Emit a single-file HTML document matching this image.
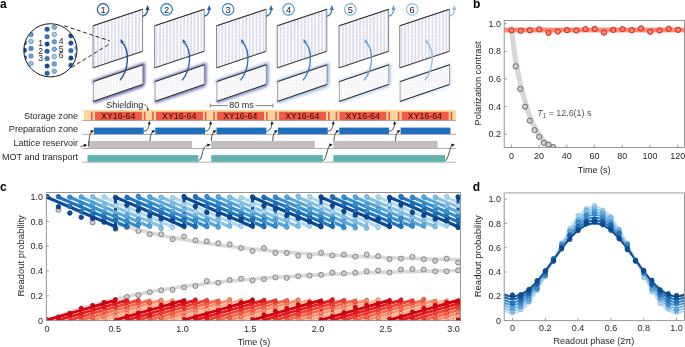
<!DOCTYPE html>
<html><head><meta charset="utf-8"><style>
html,body{margin:0;padding:0;background:#fff;}
svg{display:block;font-family:"Liberation Sans", sans-serif;will-change:transform;filter:blur(0.3px);}
</style></head><body>
<svg width="685" height="347" viewBox="0 0 685 347">
<rect width="685" height="347" fill="#fff"/>
<text x="-0.10" y="7.90" font-size="12" text-anchor="start" fill="#000" font-weight="bold" >a</text>
<text x="473.00" y="7.90" font-size="12" text-anchor="start" fill="#000" font-weight="bold" >b</text>
<text x="0.10" y="191.10" font-size="12" text-anchor="start" fill="#000" font-weight="bold" >c</text>
<text x="472.70" y="190.80" font-size="12" text-anchor="start" fill="#000" font-weight="bold" >d</text>
<defs>
<pattern id="pu" patternUnits="userSpaceOnUse" width="3.45" height="1.4" x="93.6" y="0"><rect width="3.45" height="1.4" fill="#fbfbfd"/><rect x="0" width="1.7" height="1.4" fill="#e6e6f3"/><rect x="0.3" width="1.0" height="0.8" fill="#cdcde6"/></pattern>
<pattern id="pl" patternUnits="userSpaceOnUse" width="3.0" height="1.9" x="94.5" y="0"><rect width="3.0" height="1.9" fill="#ffffff"/><rect x="0.8" width="0.8" height="0.9" fill="#c4c4de"/></pattern>
<filter id="glow" x="-30%" y="-60%" width="160%" height="220%"><feGaussianBlur stdDeviation="1.6"/></filter>
<clipPath id="incl"><circle cx="50.4" cy="50.3" r="26.6"/></clipPath>
<clipPath id="clipc"><rect x="46.3" y="192.5" width="414.3" height="128.1"/></clipPath>
<clipPath id="clipd"><rect x="504.2" y="192.7" width="180.3" height="127.9"/></clipPath>
<clipPath id="clipb"><rect x="504.2" y="20.5" width="180.3" height="127"/></clipPath>
</defs>
<path d="M92.5,82.2 L143.4,64.6 L143.4,84.6 M93.4,101.8 L143.4,85.0" fill="none" stroke="#4444a8" stroke-width="3.0" opacity="0.95" filter="url(#glow)"/>
<polygon points="93.4,81.6 142.79999999999998,64.8 142.79999999999998,84.4 93.4,101.4" fill="url(#pl)" stroke="#666" stroke-width="0.6"/>
<line x1="93.4" y1="81.6" x2="142.79999999999998" y2="64.8" stroke="#222" stroke-width="0.9"/>
<line x1="93.4" y1="101.4" x2="142.79999999999998" y2="84.4" stroke="#222" stroke-width="0.9"/>
<polygon points="93.0,25.8 142.6,9.3 142.6,51.3 93.0,67.9" fill="url(#pu)" stroke="#6a6a6a" stroke-width="0.8"/>
<line x1="93.0" y1="25.8" x2="142.6" y2="9.3" stroke="#222" stroke-width="0.9"/>
<line x1="93.0" y1="67.9" x2="142.6" y2="51.3" stroke="#333" stroke-width="0.8"/>
<path d="M119.9,80.4 C128.7,70 130.2,51 122.2,42.3" fill="none" stroke="#1c4f97" stroke-width="1.35"/>
<path d="M120.30,38.90 L120.86,43.88 L122.13,42.09 L124.33,41.89 Z" fill="#1c4f97"/>
<path d="M142.6,16.3 C145.79999999999998,15.6 147.6,13 147.6,9.0" fill="none" stroke="#1c4f97" stroke-width="1.35"/>
<path d="M147.6,4.9 L145.5,9.9 L149.7,9.9 Z" fill="#1c4f97"/>
<circle cx="103.1" cy="9.35" r="5.75" fill="#fff" stroke="#1f5a9e" stroke-width="1.15"/>
<text x="103.10" y="12.75" font-size="9.3" text-anchor="middle" fill="#1a1a1a" font-weight="normal" >1</text>
<path d="M154.1,82.2 L205.0,64.6 L205.0,84.6 M155.0,101.8 L205.0,85.0" fill="none" stroke="#4852b2" stroke-width="3.0" opacity="0.9" filter="url(#glow)"/>
<polygon points="155.0,81.6 204.39999999999998,64.8 204.39999999999998,84.4 155.0,101.4" fill="url(#pl)" stroke="#666" stroke-width="0.6"/>
<line x1="155.0" y1="81.6" x2="204.39999999999998" y2="64.8" stroke="#222" stroke-width="0.9"/>
<line x1="155.0" y1="101.4" x2="204.39999999999998" y2="84.4" stroke="#222" stroke-width="0.9"/>
<polygon points="154.6,25.8 204.2,9.3 204.2,51.3 154.6,67.9" fill="url(#pu)" stroke="#6a6a6a" stroke-width="0.8"/>
<line x1="154.6" y1="25.8" x2="204.2" y2="9.3" stroke="#222" stroke-width="0.9"/>
<line x1="154.6" y1="67.9" x2="204.2" y2="51.3" stroke="#333" stroke-width="0.8"/>
<path d="M182.0,80.4 C190.8,70 192.3,51 184.3,42.3" fill="none" stroke="#2461a8" stroke-width="1.35"/>
<path d="M182.40,38.90 L182.96,43.88 L184.23,42.09 L186.43,41.89 Z" fill="#2461a8"/>
<path d="M204.2,16.3 C207.39999999999998,15.6 209.2,13 209.2,9.0" fill="none" stroke="#2461a8" stroke-width="1.35"/>
<path d="M209.2,4.9 L207.1,9.9 L211.29999999999998,9.9 Z" fill="#2461a8"/>
<circle cx="166.6" cy="9.35" r="5.75" fill="#fff" stroke="#1a78c2" stroke-width="1.15"/>
<text x="166.60" y="12.75" font-size="9.3" text-anchor="middle" fill="#1a1a1a" font-weight="normal" >2</text>
<path d="M216.0,82.2 L266.90000000000003,64.6 L266.90000000000003,84.6 M216.9,101.8 L266.90000000000003,85.0" fill="none" stroke="#4d6cc4" stroke-width="3.0" opacity="0.85" filter="url(#glow)"/>
<polygon points="216.9,81.6 266.3,64.8 266.3,84.4 216.9,101.4" fill="url(#pl)" stroke="#666" stroke-width="0.6"/>
<line x1="216.9" y1="81.6" x2="266.3" y2="64.8" stroke="#222" stroke-width="0.9"/>
<line x1="216.9" y1="101.4" x2="266.3" y2="84.4" stroke="#222" stroke-width="0.9"/>
<polygon points="216.5,25.8 266.1,9.3 266.1,51.3 216.5,67.9" fill="url(#pu)" stroke="#6a6a6a" stroke-width="0.8"/>
<line x1="216.5" y1="25.8" x2="266.1" y2="9.3" stroke="#222" stroke-width="0.9"/>
<line x1="216.5" y1="67.9" x2="266.1" y2="51.3" stroke="#333" stroke-width="0.8"/>
<path d="M240.40000000000003,80.4 C249.2,70 250.7,51 242.70000000000002,42.3" fill="none" stroke="#2b6db4" stroke-width="1.35"/>
<path d="M240.80,38.90 L241.36,43.88 L242.63,42.09 L244.83,41.89 Z" fill="#2b6db4"/>
<path d="M266.1,16.3 C269.3,15.6 271.1,13 271.1,9.0" fill="none" stroke="#2b6db4" stroke-width="1.35"/>
<path d="M271.1,4.9 L269.0,9.9 L273.20000000000005,9.9 Z" fill="#2b6db4"/>
<circle cx="228.1" cy="9.35" r="5.75" fill="#fff" stroke="#2a84cc" stroke-width="1.15"/>
<text x="228.10" y="12.75" font-size="9.3" text-anchor="middle" fill="#1a1a1a" font-weight="normal" >3</text>
<path d="M276.7,82.2 L327.6,64.6 L327.6,84.6 M277.59999999999997,101.8 L327.6,85.0" fill="none" stroke="#6a96d8" stroke-width="3.0" opacity="0.8" filter="url(#glow)"/>
<polygon points="277.59999999999997,81.6 327.0,64.8 327.0,84.4 277.59999999999997,101.4" fill="url(#pl)" stroke="#666" stroke-width="0.6"/>
<line x1="277.59999999999997" y1="81.6" x2="327.0" y2="64.8" stroke="#222" stroke-width="0.9"/>
<line x1="277.59999999999997" y1="101.4" x2="327.0" y2="84.4" stroke="#222" stroke-width="0.9"/>
<polygon points="277.2,25.8 326.8,9.3 326.8,51.3 277.2,67.9" fill="url(#pu)" stroke="#6a6a6a" stroke-width="0.8"/>
<line x1="277.2" y1="25.8" x2="326.8" y2="9.3" stroke="#222" stroke-width="0.9"/>
<line x1="277.2" y1="67.9" x2="326.8" y2="51.3" stroke="#333" stroke-width="0.8"/>
<path d="M302.9,80.4 C311.7,70 313.2,51 305.2,42.3" fill="none" stroke="#3a7cc0" stroke-width="1.35"/>
<path d="M303.30,38.90 L303.86,43.88 L305.13,42.09 L307.33,41.89 Z" fill="#3a7cc0"/>
<path d="M326.8,16.3 C330.0,15.6 331.8,13 331.8,9.0" fill="none" stroke="#3a7cc0" stroke-width="1.35"/>
<path d="M331.8,4.9 L329.7,9.9 L333.90000000000003,9.9 Z" fill="#3a7cc0"/>
<circle cx="288.6" cy="9.35" r="5.75" fill="#fff" stroke="#4a9ad6" stroke-width="1.15"/>
<text x="288.60" y="12.75" font-size="9.3" text-anchor="middle" fill="#1a1a1a" font-weight="normal" >4</text>
<path d="M338.5,82.2 L389.40000000000003,64.6 L389.40000000000003,84.6 M339.4,101.8 L389.40000000000003,85.0" fill="none" stroke="#98bce8" stroke-width="3.0" opacity="0.7" filter="url(#glow)"/>
<polygon points="339.4,81.6 388.8,64.8 388.8,84.4 339.4,101.4" fill="url(#pl)" stroke="#666" stroke-width="0.6"/>
<line x1="339.4" y1="81.6" x2="388.8" y2="64.8" stroke="#222" stroke-width="0.9"/>
<line x1="339.4" y1="101.4" x2="388.8" y2="84.4" stroke="#222" stroke-width="0.9"/>
<polygon points="339.0,25.8 388.6,9.3 388.6,51.3 339.0,67.9" fill="url(#pu)" stroke="#6a6a6a" stroke-width="0.8"/>
<line x1="339.0" y1="25.8" x2="388.6" y2="9.3" stroke="#222" stroke-width="0.9"/>
<line x1="339.0" y1="67.9" x2="388.6" y2="51.3" stroke="#333" stroke-width="0.8"/>
<path d="M364.0,80.4 C372.79999999999995,70 374.29999999999995,51 366.29999999999995,42.3" fill="none" stroke="#6a9fd5" stroke-width="1.35"/>
<path d="M364.40,38.90 L364.96,43.88 L366.23,42.09 L368.43,41.89 Z" fill="#6a9fd5"/>
<path d="M388.6,16.3 C391.8,15.6 393.6,13 393.6,9.0" fill="none" stroke="#6a9fd5" stroke-width="1.35"/>
<path d="M393.6,4.9 L391.5,9.9 L395.70000000000005,9.9 Z" fill="#6a9fd5"/>
<circle cx="350.3" cy="9.35" r="5.75" fill="#fff" stroke="#78b4e0" stroke-width="1.15"/>
<text x="350.30" y="12.75" font-size="9.3" text-anchor="middle" fill="#1a1a1a" font-weight="normal" >5</text>
<path d="M399.2,82.2 L450.1,64.6 L450.1,84.6 M400.09999999999997,101.8 L450.1,85.0" fill="none" stroke="#b4d2f0" stroke-width="3.0" opacity="0.6" filter="url(#glow)"/>
<polygon points="400.09999999999997,81.6 449.5,64.8 449.5,84.4 400.09999999999997,101.4" fill="url(#pl)" stroke="#666" stroke-width="0.6"/>
<line x1="400.09999999999997" y1="81.6" x2="449.5" y2="64.8" stroke="#222" stroke-width="0.9"/>
<line x1="400.09999999999997" y1="101.4" x2="449.5" y2="84.4" stroke="#222" stroke-width="0.9"/>
<polygon points="399.7,25.8 449.3,9.3 449.3,51.3 399.7,67.9" fill="url(#pu)" stroke="#6a6a6a" stroke-width="0.8"/>
<line x1="399.7" y1="25.8" x2="449.3" y2="9.3" stroke="#222" stroke-width="0.9"/>
<line x1="399.7" y1="67.9" x2="449.3" y2="51.3" stroke="#333" stroke-width="0.8"/>
<path d="M424.70000000000005,80.4 C433.5,70 435.0,51 427.0,42.3" fill="none" stroke="#93bde4" stroke-width="1.35"/>
<path d="M425.10,38.90 L425.66,43.88 L426.93,42.09 L429.13,41.89 Z" fill="#93bde4"/>
<path d="M449.3,16.3 C452.5,15.6 454.3,13 454.3,9.0" fill="none" stroke="#93bde4" stroke-width="1.35"/>
<path d="M454.3,4.9 L452.2,9.9 L456.40000000000003,9.9 Z" fill="#93bde4"/>
<circle cx="412.2" cy="9.35" r="5.75" fill="#fff" stroke="#8cc4e6" stroke-width="1.15"/>
<text x="412.20" y="12.75" font-size="9.3" text-anchor="middle" fill="#1a1a1a" font-weight="normal" >6</text>
<circle cx="50.4" cy="50.3" r="26.6" fill="#fff"/>
<g clip-path="url(#incl)">
<circle cx="24.4" cy="42.7" r="2.3" fill="#1a5ca8" stroke="#0b3d78" stroke-width="0.4"/>
<circle cx="24.4" cy="50.2" r="2.3" fill="#0e4a8e" stroke="#0b3d78" stroke-width="0.4"/>
<circle cx="24.4" cy="35.0" r="2.3" fill="#2a74bc" stroke="#0b3d78" stroke-width="0.4"/>
<circle cx="24.4" cy="57.7" r="2.3" fill="#1a5ca8" stroke="#0b3d78" stroke-width="0.4"/>
<circle cx="31.0" cy="34.6" r="2.3" fill="#5b9bd5" stroke="#0b3d78" stroke-width="0.4"/>
<circle cx="31.0" cy="41.5" r="2.3" fill="#9ec8e8" stroke="#0b3d78" stroke-width="0.4"/>
<circle cx="31.0" cy="48.5" r="2.3" fill="#4a8ed0" stroke="#0b3d78" stroke-width="0.4"/>
<circle cx="31.0" cy="56.0" r="2.3" fill="#6aa8dc" stroke="#0b3d78" stroke-width="0.4"/>
<circle cx="31.0" cy="63.5" r="2.3" fill="#9ec8e8" stroke="#0b3d78" stroke-width="0.4"/>
<circle cx="31.0" cy="27.5" r="2.3" fill="#6aa8dc" stroke="#0b3d78" stroke-width="0.4"/>
<circle cx="47.1" cy="29.3" r="2.3" fill="#1a5ca8" stroke="#0b3d78" stroke-width="0.4"/>
<circle cx="47.1" cy="36.7" r="2.3" fill="#2f7fc4" stroke="#0b3d78" stroke-width="0.4"/>
<circle cx="47.1" cy="44.1" r="2.3" fill="#0e4a8e" stroke="#0b3d78" stroke-width="0.4"/>
<circle cx="47.1" cy="51.3" r="2.3" fill="#1d66b0" stroke="#0b3d78" stroke-width="0.4"/>
<circle cx="47.1" cy="58.6" r="2.3" fill="#3080c5" stroke="#0b3d78" stroke-width="0.4"/>
<circle cx="47.1" cy="66.0" r="2.3" fill="#0e4a8e" stroke="#0b3d78" stroke-width="0.4"/>
<circle cx="47.1" cy="73.3" r="2.3" fill="#1f68b2" stroke="#0b3d78" stroke-width="0.4"/>
<circle cx="54.3" cy="27.2" r="2.3" fill="#7ab3e0" stroke="#0b3d78" stroke-width="0.4"/>
<circle cx="54.3" cy="34.4" r="2.3" fill="#a9d0ee" stroke="#0b3d78" stroke-width="0.4"/>
<circle cx="54.3" cy="41.8" r="2.3" fill="#6aa8dc" stroke="#0b3d78" stroke-width="0.4"/>
<circle cx="54.3" cy="49.2" r="2.3" fill="#7ab3e0" stroke="#0b3d78" stroke-width="0.4"/>
<circle cx="54.3" cy="56.6" r="2.3" fill="#a9d0ee" stroke="#0b3d78" stroke-width="0.4"/>
<circle cx="54.3" cy="64.0" r="2.3" fill="#6aa8dc" stroke="#0b3d78" stroke-width="0.4"/>
<circle cx="54.3" cy="71.3" r="2.3" fill="#8cbfe6" stroke="#0b3d78" stroke-width="0.4"/>
<circle cx="70.9" cy="35.7" r="2.3" fill="#0e4a8e" stroke="#0b3d78" stroke-width="0.4"/>
<circle cx="70.9" cy="43.1" r="2.3" fill="#1a5ca8" stroke="#0b3d78" stroke-width="0.4"/>
<circle cx="70.9" cy="50.6" r="2.3" fill="#2a74bc" stroke="#0b3d78" stroke-width="0.4"/>
<circle cx="70.9" cy="58.0" r="2.3" fill="#0e4a8e" stroke="#0b3d78" stroke-width="0.4"/>
<circle cx="70.9" cy="65.3" r="2.3" fill="#1a5ca8" stroke="#0b3d78" stroke-width="0.4"/>
<circle cx="70.9" cy="28.2" r="2.3" fill="#1a5ca8" stroke="#0b3d78" stroke-width="0.4"/>
<circle cx="77.0" cy="47.8" r="2.3" fill="#8cbfe6" stroke="#0b3d78" stroke-width="0.4"/>
<circle cx="77.0" cy="55.3" r="2.3" fill="#6aa8dc" stroke="#0b3d78" stroke-width="0.4"/>
<circle cx="77.0" cy="40.3" r="2.3" fill="#a9d0ee" stroke="#0b3d78" stroke-width="0.4"/>
</g>
<circle cx="50.4" cy="50.3" r="26.6" fill="none" stroke="#1a1a1a" stroke-width="1.0"/>
<text x="40.70" y="46.30" font-size="8.6" text-anchor="middle" fill="#222" font-weight="normal" >1</text>
<text x="40.70" y="53.70" font-size="8.6" text-anchor="middle" fill="#222" font-weight="normal" >2</text>
<text x="40.70" y="61.20" font-size="8.6" text-anchor="middle" fill="#222" font-weight="normal" >3</text>
<text x="61.20" y="43.60" font-size="8.6" text-anchor="middle" fill="#222" font-weight="normal" >4</text>
<text x="61.20" y="51.80" font-size="8.6" text-anchor="middle" fill="#222" font-weight="normal" >5</text>
<text x="61.20" y="58.40" font-size="8.6" text-anchor="middle" fill="#222" font-weight="normal" >6</text>
<line x1="64.3" y1="25.8" x2="109.7" y2="40.9" stroke="#1e1e1e" stroke-width="0.95" stroke-dasharray="4 2.6"/>
<line x1="71.5" y1="67.5" x2="109.7" y2="43.8" stroke="#1e1e1e" stroke-width="0.95" stroke-dasharray="4 2.6"/>
<text x="78.10" y="118.70" font-size="9.1" text-anchor="end" fill="#231f20" font-weight="normal" >Storage zone</text>
<text x="78.10" y="132.30" font-size="9.1" text-anchor="end" fill="#231f20" font-weight="normal" >Preparation zone</text>
<text x="78.10" y="146.10" font-size="9.1" text-anchor="end" fill="#231f20" font-weight="normal" >Lattice reservoir</text>
<text x="78.10" y="160.30" font-size="9.1" text-anchor="end" fill="#231f20" font-weight="normal" >MOT and transport</text>
<rect x="83.8" y="110.1" width="372.0" height="10.1" fill="#fdd49c"/>
<rect x="90.9" y="111.8" width="1.7" height="8.4" fill="#ee5a45"/>
<rect x="95.00" y="111.8" width="46.9" height="8.4" fill="#ef5b47"/>
<text x="118.20" y="119.10" font-size="8.8" text-anchor="middle" fill="#2b0c05" font-weight="normal" >XY16-64</text>
<rect x="143.90" y="111.8" width="1.6" height="8.4" fill="#ee5a45"/>
<rect x="152.10" y="111.8" width="1.6" height="8.4" fill="#ee5a45"/>
<rect x="156.00" y="111.8" width="46.9" height="8.4" fill="#ef5b47"/>
<text x="179.20" y="119.10" font-size="8.8" text-anchor="middle" fill="#2b0c05" font-weight="normal" >XY16-64</text>
<rect x="204.90" y="111.8" width="1.6" height="8.4" fill="#ee5a45"/>
<rect x="213.20" y="111.8" width="1.6" height="8.4" fill="#ee5a45"/>
<rect x="217.10" y="111.8" width="46.9" height="8.4" fill="#ef5b47"/>
<text x="240.30" y="119.10" font-size="8.8" text-anchor="middle" fill="#2b0c05" font-weight="normal" >XY16-64</text>
<rect x="266.00" y="111.8" width="1.6" height="8.4" fill="#ee5a45"/>
<rect x="275.20" y="111.8" width="1.6" height="8.4" fill="#ee5a45"/>
<rect x="279.10" y="111.8" width="46.9" height="8.4" fill="#ef5b47"/>
<text x="302.30" y="119.10" font-size="8.8" text-anchor="middle" fill="#2b0c05" font-weight="normal" >XY16-64</text>
<rect x="328.00" y="111.8" width="1.6" height="8.4" fill="#ee5a45"/>
<rect x="335.60" y="111.8" width="1.6" height="8.4" fill="#ee5a45"/>
<rect x="339.50" y="111.8" width="46.9" height="8.4" fill="#ef5b47"/>
<text x="362.70" y="119.10" font-size="8.8" text-anchor="middle" fill="#2b0c05" font-weight="normal" >XY16-64</text>
<rect x="388.40" y="111.8" width="1.6" height="8.4" fill="#ee5a45"/>
<rect x="397.80" y="111.8" width="1.6" height="8.4" fill="#ee5a45"/>
<rect x="401.70" y="111.8" width="46.9" height="8.4" fill="#ef5b47"/>
<text x="424.90" y="119.10" font-size="8.8" text-anchor="middle" fill="#2b0c05" font-weight="normal" >XY16-64</text>
<rect x="450.60" y="111.8" width="1.6" height="8.4" fill="#ee5a45"/>
<line x1="82.3" y1="120.5" x2="455.8" y2="120.5" stroke="#777" stroke-width="0.6"/>
<line x1="82.3" y1="134.4" x2="455.8" y2="134.4" stroke="#777" stroke-width="0.6"/>
<line x1="82.3" y1="148.5" x2="455.8" y2="148.5" stroke="#777" stroke-width="0.6"/>
<line x1="82.3" y1="162.2" x2="455.8" y2="162.2" stroke="#777" stroke-width="0.6"/>
<rect x="93.90" y="127.6" width="49.8" height="6.5" fill="#1f6fbc"/>
<rect x="155.24" y="127.6" width="49.8" height="6.5" fill="#1f6fbc"/>
<rect x="216.58" y="127.6" width="49.8" height="6.5" fill="#1f6fbc"/>
<rect x="277.92" y="127.6" width="49.8" height="6.5" fill="#1f6fbc"/>
<rect x="339.26" y="127.6" width="49.8" height="6.5" fill="#1f6fbc"/>
<rect x="400.60" y="127.6" width="49.8" height="6.5" fill="#1f6fbc"/>
<rect x="88" y="140.9" width="103.9" height="7.3" fill="#c3bdbd"/>
<rect x="211.3" y="140.9" width="103.5" height="7.3" fill="#c3bdbd"/>
<rect x="333.4" y="140.9" width="104.2" height="7.3" fill="#c3bdbd"/>
<rect x="87.5" y="155.1" width="110.9" height="6.7" fill="#5eb3b0"/>
<rect x="211.3" y="155.1" width="111.5" height="6.7" fill="#5eb3b0"/>
<rect x="333.4" y="155.1" width="111.6" height="6.7" fill="#5eb3b0"/>
<path d="M143.7,131.2 C147.2,131 149.0,128 149.2,123" fill="none" stroke="#111" stroke-width="0.75"/>
<path d="M149.30,120.90 L147.75,124.30 L150.85,124.30 Z" fill="#111"/>
<path d="M205.0,131.2 C208.5,131 210.3,128 210.5,123" fill="none" stroke="#111" stroke-width="0.75"/>
<path d="M210.64,120.90 L209.09,124.30 L212.19,124.30 Z" fill="#111"/>
<path d="M266.4,131.2 C269.9,131 271.7,128 271.9,123" fill="none" stroke="#111" stroke-width="0.75"/>
<path d="M271.98,120.90 L270.43,124.30 L273.53,124.30 Z" fill="#111"/>
<path d="M327.7,131.2 C331.2,131 333.0,128 333.2,123" fill="none" stroke="#111" stroke-width="0.75"/>
<path d="M333.32,120.90 L331.77,124.30 L334.87,124.30 Z" fill="#111"/>
<path d="M389.1,131.2 C392.6,131 394.4,128 394.6,123" fill="none" stroke="#111" stroke-width="0.75"/>
<path d="M394.66,120.90 L393.11,124.30 L396.21,124.30 Z" fill="#111"/>
<path d="M88.6,146 C89.0,140 89.6,133 91.6,131.6" fill="none" stroke="#111" stroke-width="0.75"/>
<path d="M94.00,130.30 L90.26,130.38 L91.61,133.17 Z" fill="#111"/>
<path d="M150.0,141 C150.3,137 150.8,132.5 152.8,131.6" fill="none" stroke="#111" stroke-width="0.75"/>
<path d="M155.20,130.30 L151.46,130.38 L152.81,133.17 Z" fill="#111"/>
<path d="M211.3,141 C211.6,137 212.1,132.5 214.1,131.6" fill="none" stroke="#111" stroke-width="0.75"/>
<path d="M216.54,130.30 L212.80,130.38 L214.15,133.17 Z" fill="#111"/>
<path d="M272.7,141 C273.0,137 273.5,132.5 275.5,131.6" fill="none" stroke="#111" stroke-width="0.75"/>
<path d="M277.88,130.30 L274.14,130.38 L275.49,133.17 Z" fill="#111"/>
<path d="M334.0,141 C334.3,137 334.8,132.5 336.8,131.6" fill="none" stroke="#111" stroke-width="0.75"/>
<path d="M339.22,130.30 L335.48,130.38 L336.83,133.17 Z" fill="#111"/>
<path d="M395.4,141 C395.7,137 396.2,132.5 398.2,131.6" fill="none" stroke="#111" stroke-width="0.75"/>
<path d="M400.56,130.30 L396.82,130.38 L398.17,133.17 Z" fill="#111"/>
<path d="M80.4,146.8 C82,146.4 84,145.4 85.2,145.2" fill="none" stroke="#111" stroke-width="0.75"/>
<path d="M87.30,145.00 L83.76,143.80 L84.07,146.88 Z" fill="#111"/>
<path d="M198.6,160.6 C201.0,160 202.0,154 203.4,149.5 C204.6,146 206.8,145.2 208.7,145.0" fill="none" stroke="#111" stroke-width="0.75"/>
<path d="M210.70,144.80 L207.16,143.60 L207.47,146.68 Z" fill="#111"/>
<path d="M323.0,160.6 C325.4,160 326.4,154 327.8,149.5 C329.0,146 328.9,145.2 330.8,145.0" fill="none" stroke="#111" stroke-width="0.75"/>
<path d="M332.80,144.80 L329.26,143.60 L329.57,146.68 Z" fill="#111"/>
<path d="M445.2,160.6 C447.6,160 448.6,154 450.0,149.5 C451.2,146 451.0,145.2 452.9,145.0" fill="none" stroke="#111" stroke-width="0.75"/>
<path d="M454.90,144.80 L451.36,143.60 L451.67,146.68 Z" fill="#111"/>
<text x="106.20" y="107.60" font-size="9" text-anchor="start" fill="#231f20" font-weight="normal" >Shielding</text>
<path d="M143.6,104.8 C146,104.6 147.4,106 147.6,108.6" fill="none" stroke="#222" stroke-width="0.6"/>
<path d="M147.8,111.2 L146.5,108.4 L148.9,108.4 Z" fill="#222"/>
<text x="241.60" y="108.30" font-size="9" text-anchor="middle" fill="#231f20" font-weight="normal" >80 ms</text>
<line x1="210.3" y1="105.6" x2="227.6" y2="105.6" stroke="#808080" stroke-width="0.95"/>
<line x1="255.6" y1="105.6" x2="272.9" y2="105.6" stroke="#808080" stroke-width="0.95"/>
<line x1="210.3" y1="103.6" x2="210.3" y2="107.6" stroke="#808080" stroke-width="0.95"/>
<line x1="272.9" y1="103.6" x2="272.9" y2="107.6" stroke="#808080" stroke-width="0.95"/>
<g clip-path="url(#clipb)">
<rect x="504.2" y="27.6" width="180.3" height="4.8" fill="#f98b73"/>
<path d="M511.6,29 C513,45 515.5,60 518,73 C521,88 524.5,101 528.5,113 C533,126 539,136 546,143 C549,146 551,147.5 554,149.5" fill="none" stroke="#d7d7d7" stroke-width="5.2" stroke-linecap="round"/>
<circle cx="515.7" cy="66.3" r="2.6" fill="#cfcfcf" stroke="#5e5e5e" stroke-width="0.9"/>
<circle cx="520.2" cy="88.9" r="2.6" fill="#cfcfcf" stroke="#5e5e5e" stroke-width="0.9"/>
<circle cx="525.1" cy="106.7" r="2.6" fill="#cfcfcf" stroke="#5e5e5e" stroke-width="0.9"/>
<circle cx="529.8" cy="120.7" r="2.6" fill="#cfcfcf" stroke="#5e5e5e" stroke-width="0.9"/>
<circle cx="534.6" cy="130.1" r="2.6" fill="#cfcfcf" stroke="#5e5e5e" stroke-width="0.9"/>
<circle cx="539.2" cy="136.8" r="2.6" fill="#cfcfcf" stroke="#5e5e5e" stroke-width="0.9"/>
<circle cx="543.8" cy="142.9" r="2.6" fill="#cfcfcf" stroke="#5e5e5e" stroke-width="0.9"/>
<circle cx="548.5" cy="144.6" r="2.6" fill="#cfcfcf" stroke="#5e5e5e" stroke-width="0.9"/>
<circle cx="553.2" cy="147.0" r="2.6" fill="#cfcfcf" stroke="#5e5e5e" stroke-width="0.9"/>
<circle cx="511.50" cy="30.3" r="2.65" fill="#f4836a" stroke="#d61f1f" stroke-width="1.0"/>
<circle cx="520.75" cy="30.7" r="2.65" fill="#f4836a" stroke="#d61f1f" stroke-width="1.0"/>
<circle cx="530.00" cy="30.3" r="2.65" fill="#f4836a" stroke="#d61f1f" stroke-width="1.0"/>
<circle cx="539.25" cy="29.4" r="2.65" fill="#f4836a" stroke="#d61f1f" stroke-width="1.0"/>
<circle cx="548.50" cy="32.9" r="2.65" fill="#f4836a" stroke="#d61f1f" stroke-width="1.0"/>
<circle cx="557.75" cy="31.5" r="2.65" fill="#f4836a" stroke="#d61f1f" stroke-width="1.0"/>
<circle cx="567.00" cy="30.1" r="2.65" fill="#f4836a" stroke="#d61f1f" stroke-width="1.0"/>
<circle cx="576.25" cy="30.5" r="2.65" fill="#f4836a" stroke="#d61f1f" stroke-width="1.0"/>
<circle cx="585.50" cy="29.1" r="2.65" fill="#f4836a" stroke="#d61f1f" stroke-width="1.0"/>
<circle cx="594.75" cy="28.9" r="2.65" fill="#f4836a" stroke="#d61f1f" stroke-width="1.0"/>
<circle cx="604.00" cy="32.6" r="2.65" fill="#f4836a" stroke="#d61f1f" stroke-width="1.0"/>
<circle cx="613.25" cy="29.9" r="2.65" fill="#f4836a" stroke="#d61f1f" stroke-width="1.0"/>
<circle cx="622.50" cy="29.1" r="2.65" fill="#f4836a" stroke="#d61f1f" stroke-width="1.0"/>
<circle cx="631.75" cy="30.2" r="2.65" fill="#f4836a" stroke="#d61f1f" stroke-width="1.0"/>
<circle cx="641.00" cy="28.4" r="2.65" fill="#f4836a" stroke="#d61f1f" stroke-width="1.0"/>
<circle cx="650.25" cy="31.7" r="2.65" fill="#f4836a" stroke="#d61f1f" stroke-width="1.0"/>
<circle cx="659.50" cy="30.4" r="2.65" fill="#f4836a" stroke="#d61f1f" stroke-width="1.0"/>
<circle cx="668.75" cy="28.8" r="2.65" fill="#f4836a" stroke="#d61f1f" stroke-width="1.0"/>
<circle cx="678.00" cy="29.8" r="2.65" fill="#f4836a" stroke="#d61f1f" stroke-width="1.0"/>
</g>
<rect x="504.2" y="20.5" width="180.3" height="126.9" fill="none" stroke="#8a8a8a" stroke-width="0.9"/>
<line x1="504.2" y1="23.65" x2="507.0" y2="23.65" stroke="#8a8a8a" stroke-width="0.8"/>
<text x="501.00" y="26.75" font-size="9" text-anchor="end" fill="#231f20" font-weight="normal" >1.0</text>
<line x1="504.2" y1="51.29" x2="507.0" y2="51.29" stroke="#8a8a8a" stroke-width="0.8"/>
<text x="501.00" y="54.39" font-size="9" text-anchor="end" fill="#231f20" font-weight="normal" >0.8</text>
<line x1="504.2" y1="78.93" x2="507.0" y2="78.93" stroke="#8a8a8a" stroke-width="0.8"/>
<text x="501.00" y="82.03" font-size="9" text-anchor="end" fill="#231f20" font-weight="normal" >0.6</text>
<line x1="504.2" y1="106.57" x2="507.0" y2="106.57" stroke="#8a8a8a" stroke-width="0.8"/>
<text x="501.00" y="109.67" font-size="9" text-anchor="end" fill="#231f20" font-weight="normal" >0.4</text>
<line x1="504.2" y1="134.21" x2="507.0" y2="134.21" stroke="#8a8a8a" stroke-width="0.8"/>
<text x="501.00" y="137.31" font-size="9" text-anchor="end" fill="#231f20" font-weight="normal" >0.2</text>
<line x1="511.40" y1="147.4" x2="511.40" y2="144.6" stroke="#8a8a8a" stroke-width="0.8"/>
<text x="511.40" y="159.20" font-size="9" text-anchor="middle" fill="#231f20" font-weight="normal" >0</text>
<line x1="539.12" y1="147.4" x2="539.12" y2="144.6" stroke="#8a8a8a" stroke-width="0.8"/>
<text x="539.12" y="159.20" font-size="9" text-anchor="middle" fill="#231f20" font-weight="normal" >20</text>
<line x1="566.84" y1="147.4" x2="566.84" y2="144.6" stroke="#8a8a8a" stroke-width="0.8"/>
<text x="566.84" y="159.20" font-size="9" text-anchor="middle" fill="#231f20" font-weight="normal" >40</text>
<line x1="594.56" y1="147.4" x2="594.56" y2="144.6" stroke="#8a8a8a" stroke-width="0.8"/>
<text x="594.56" y="159.20" font-size="9" text-anchor="middle" fill="#231f20" font-weight="normal" >60</text>
<line x1="622.28" y1="147.4" x2="622.28" y2="144.6" stroke="#8a8a8a" stroke-width="0.8"/>
<text x="622.28" y="159.20" font-size="9" text-anchor="middle" fill="#231f20" font-weight="normal" >80</text>
<line x1="650.00" y1="147.4" x2="650.00" y2="144.6" stroke="#8a8a8a" stroke-width="0.8"/>
<text x="650.00" y="159.20" font-size="9" text-anchor="middle" fill="#231f20" font-weight="normal" >100</text>
<line x1="677.72" y1="147.4" x2="677.72" y2="144.6" stroke="#8a8a8a" stroke-width="0.8"/>
<text x="677.72" y="159.20" font-size="9" text-anchor="middle" fill="#231f20" font-weight="normal" >120</text>
<text x="594.20" y="172.70" font-size="9" text-anchor="middle" fill="#231f20" font-weight="normal" >Time (s)</text>
<text transform="translate(481.0,83.4) rotate(-90)" font-size="9.3" text-anchor="middle" fill="#231f20" textLength="84" lengthAdjust="spacingAndGlyphs">Polarization contrast</text>
<text x="537.3" y="116.3" font-size="8.9" fill="#555"><tspan font-style="italic">T</tspan><tspan font-size="6.3" dy="1.6">1</tspan><tspan dy="-1.6"> = 12.6(1) s</tspan></text>
<g clip-path="url(#clipc)">
<polyline points="46.90,196.60 49.61,197.97 52.32,199.31 55.03,200.62 57.74,201.91 60.45,203.17 63.16,204.40 65.88,205.61 68.59,206.79 71.30,207.94 74.01,209.08 76.72,210.19 79.43,211.27 82.14,212.34 84.85,213.38 87.56,214.40 90.27,215.39 92.98,216.37 95.69,217.33 98.41,218.27 101.12,219.18 103.83,220.08 106.54,220.96 109.25,221.82 111.96,222.67 114.67,223.49 117.38,224.30 120.09,225.09 122.80,225.87 125.51,226.63 128.22,227.37 130.93,228.10 133.65,228.81 136.36,229.51 139.07,230.20 141.78,230.86 144.49,231.52 147.20,232.16 149.91,232.79 152.62,233.41 155.33,234.01 158.04,234.60 160.75,235.18 163.46,235.74 166.18,236.29 168.89,236.84 171.60,237.37 174.31,237.89 177.02,238.40 179.73,238.89 182.44,239.38 185.15,239.86 187.86,240.33 190.57,240.79 193.28,241.24 195.99,241.67 198.70,242.10 201.42,242.53 204.13,242.94 206.84,243.34 209.55,243.74 212.26,244.12 214.97,244.50 217.68,244.87 220.39,245.24 223.10,245.59 225.81,245.94 228.52,246.28 231.23,246.62 233.95,246.94 236.66,247.26 239.37,247.58 242.08,247.89 244.79,248.19 247.50,248.48 250.21,248.77 252.92,249.05 255.63,249.33 258.34,249.60 261.05,249.86 263.76,250.12 266.47,250.38 269.19,250.63 271.90,250.87 274.61,251.11 277.32,251.34 280.03,251.57 282.74,251.79 285.45,252.01 288.16,252.23 290.87,252.44 293.58,252.64 296.29,252.85 299.00,253.04 301.72,253.24 304.43,253.43 307.14,253.61 309.85,253.79 312.56,253.97 315.27,254.14 317.98,254.31 320.69,254.48 323.40,254.64 326.11,254.80 328.82,254.96 331.53,255.11 334.24,255.26 336.96,255.41 339.67,255.56 342.38,255.70 345.09,255.83 347.80,255.97 350.51,256.10 353.22,256.23 355.93,256.36 358.64,256.48 361.35,256.60 364.06,256.72 366.77,256.84 369.49,256.95 372.20,257.07 374.91,257.17 377.62,257.28 380.33,257.39 383.04,257.49 385.75,257.59 388.46,257.69 391.17,257.79 393.88,257.88 396.59,257.97 399.30,258.06 402.01,258.15 404.73,258.24 407.44,258.32 410.15,258.41 412.86,258.49 415.57,258.57 418.28,258.65 420.99,258.72 423.70,258.80 426.41,258.87 429.12,258.94 431.83,259.01 434.54,259.08 437.26,259.15 439.97,259.22 442.68,259.28 445.39,259.34 448.10,259.41 450.81,259.47 453.52,259.53 456.23,259.58 458.94,259.64 461.65,259.70 464.36,259.75 467.07,259.81" fill="none" stroke="#d9d9d9" stroke-width="3.6"/>
<polyline points="46.90,320.60 49.61,319.52 52.32,318.45 55.03,317.41 57.74,316.39 60.45,315.40 63.16,314.42 65.88,313.46 68.59,312.53 71.30,311.61 74.01,310.71 76.72,309.83 79.43,308.97 82.14,308.13 84.85,307.31 87.56,306.50 90.27,305.71 92.98,304.93 95.69,304.17 98.41,303.43 101.12,302.70 103.83,301.99 106.54,301.29 109.25,300.61 111.96,299.94 114.67,299.29 117.38,298.65 120.09,298.02 122.80,297.40 125.51,296.80 128.22,296.21 130.93,295.64 133.65,295.07 136.36,294.52 139.07,293.98 141.78,293.45 144.49,292.93 147.20,292.42 149.91,291.92 152.62,291.43 155.33,290.96 158.04,290.49 160.75,290.03 163.46,289.58 166.18,289.14 168.89,288.71 171.60,288.29 174.31,287.88 177.02,287.48 179.73,287.08 182.44,286.70 185.15,286.32 187.86,285.95 190.57,285.58 193.28,285.23 195.99,284.88 198.70,284.54 201.42,284.21 204.13,283.88 206.84,283.56 209.55,283.25 212.26,282.94 214.97,282.64 217.68,282.34 220.39,282.06 223.10,281.77 225.81,281.50 228.52,281.23 231.23,280.96 233.95,280.70 236.66,280.45 239.37,280.20 242.08,279.96 244.79,279.72 247.50,279.49 250.21,279.26 252.92,279.03 255.63,278.82 258.34,278.60 261.05,278.39 263.76,278.19 266.47,277.98 269.19,277.79 271.90,277.59 274.61,277.40 277.32,277.22 280.03,277.04 282.74,276.86 285.45,276.69 288.16,276.52 290.87,276.35 293.58,276.19 296.29,276.03 299.00,275.87 301.72,275.72 304.43,275.57 307.14,275.42 309.85,275.28 312.56,275.14 315.27,275.00 317.98,274.86 320.69,274.73 323.40,274.60 326.11,274.48 328.82,274.35 331.53,274.23 334.24,274.11 336.96,273.99 339.67,273.88 342.38,273.77 345.09,273.66 347.80,273.55 350.51,273.45 353.22,273.35 355.93,273.24 358.64,273.15 361.35,273.05 364.06,272.96 366.77,272.86 369.49,272.77 372.20,272.68 374.91,272.60 377.62,272.51 380.33,272.43 383.04,272.35 385.75,272.27 388.46,272.19 391.17,272.11 393.88,272.04 396.59,271.97 399.30,271.89 402.01,271.82 404.73,271.75 407.44,271.69 410.15,271.62 412.86,271.56 415.57,271.49 418.28,271.43 420.99,271.37 423.70,271.31 426.41,271.25 429.12,271.20 431.83,271.14 434.54,271.09 437.26,271.03 439.97,270.98 442.68,270.93 445.39,270.88 448.10,270.83 450.81,270.78 453.52,270.73 456.23,270.69 458.94,270.64 461.65,270.60 464.36,270.56 467.07,270.51" fill="none" stroke="#d9d9d9" stroke-width="3.6"/>
<circle cx="58.42" cy="209.87" r="2.5" fill="#cfcfcf" stroke="#6e6e6e" stroke-width="0.8"/>
<circle cx="92.67" cy="222.39" r="2.5" fill="#cfcfcf" stroke="#6e6e6e" stroke-width="0.8"/>
<circle cx="115.51" cy="226.48" r="2.5" fill="#cfcfcf" stroke="#6e6e6e" stroke-width="0.8"/>
<circle cx="126.93" cy="226.98" r="2.5" fill="#cfcfcf" stroke="#6e6e6e" stroke-width="0.8"/>
<circle cx="126.93" cy="297.04" r="2.5" fill="#cfcfcf" stroke="#6e6e6e" stroke-width="0.8"/>
<circle cx="138.34" cy="231.07" r="2.5" fill="#cfcfcf" stroke="#6e6e6e" stroke-width="0.8"/>
<circle cx="138.34" cy="295.18" r="2.5" fill="#cfcfcf" stroke="#6e6e6e" stroke-width="0.8"/>
<circle cx="149.76" cy="234.30" r="2.5" fill="#cfcfcf" stroke="#6e6e6e" stroke-width="0.8"/>
<circle cx="149.76" cy="292.20" r="2.5" fill="#cfcfcf" stroke="#6e6e6e" stroke-width="0.8"/>
<circle cx="161.18" cy="234.30" r="2.5" fill="#cfcfcf" stroke="#6e6e6e" stroke-width="0.8"/>
<circle cx="161.18" cy="290.22" r="2.5" fill="#cfcfcf" stroke="#6e6e6e" stroke-width="0.8"/>
<circle cx="172.60" cy="239.26" r="2.5" fill="#cfcfcf" stroke="#6e6e6e" stroke-width="0.8"/>
<circle cx="172.60" cy="289.85" r="2.5" fill="#cfcfcf" stroke="#6e6e6e" stroke-width="0.8"/>
<circle cx="184.02" cy="236.53" r="2.5" fill="#cfcfcf" stroke="#6e6e6e" stroke-width="0.8"/>
<circle cx="184.02" cy="287.37" r="2.5" fill="#cfcfcf" stroke="#6e6e6e" stroke-width="0.8"/>
<circle cx="195.43" cy="240.25" r="2.5" fill="#cfcfcf" stroke="#6e6e6e" stroke-width="0.8"/>
<circle cx="195.43" cy="286.00" r="2.5" fill="#cfcfcf" stroke="#6e6e6e" stroke-width="0.8"/>
<circle cx="206.85" cy="241.24" r="2.5" fill="#cfcfcf" stroke="#6e6e6e" stroke-width="0.8"/>
<circle cx="206.85" cy="281.04" r="2.5" fill="#cfcfcf" stroke="#6e6e6e" stroke-width="0.8"/>
<circle cx="218.27" cy="243.22" r="2.5" fill="#cfcfcf" stroke="#6e6e6e" stroke-width="0.8"/>
<circle cx="218.27" cy="282.78" r="2.5" fill="#cfcfcf" stroke="#6e6e6e" stroke-width="0.8"/>
<circle cx="229.69" cy="244.34" r="2.5" fill="#cfcfcf" stroke="#6e6e6e" stroke-width="0.8"/>
<circle cx="229.69" cy="279.93" r="2.5" fill="#cfcfcf" stroke="#6e6e6e" stroke-width="0.8"/>
<circle cx="241.11" cy="248.06" r="2.5" fill="#cfcfcf" stroke="#6e6e6e" stroke-width="0.8"/>
<circle cx="241.11" cy="278.69" r="2.5" fill="#cfcfcf" stroke="#6e6e6e" stroke-width="0.8"/>
<circle cx="252.52" cy="251.04" r="2.5" fill="#cfcfcf" stroke="#6e6e6e" stroke-width="0.8"/>
<circle cx="252.52" cy="280.55" r="2.5" fill="#cfcfcf" stroke="#6e6e6e" stroke-width="0.8"/>
<circle cx="263.94" cy="248.06" r="2.5" fill="#cfcfcf" stroke="#6e6e6e" stroke-width="0.8"/>
<circle cx="263.94" cy="279.18" r="2.5" fill="#cfcfcf" stroke="#6e6e6e" stroke-width="0.8"/>
<circle cx="275.36" cy="253.02" r="2.5" fill="#cfcfcf" stroke="#6e6e6e" stroke-width="0.8"/>
<circle cx="275.36" cy="277.45" r="2.5" fill="#cfcfcf" stroke="#6e6e6e" stroke-width="0.8"/>
<circle cx="286.78" cy="253.02" r="2.5" fill="#cfcfcf" stroke="#6e6e6e" stroke-width="0.8"/>
<circle cx="286.78" cy="277.94" r="2.5" fill="#cfcfcf" stroke="#6e6e6e" stroke-width="0.8"/>
<circle cx="298.20" cy="255.75" r="2.5" fill="#cfcfcf" stroke="#6e6e6e" stroke-width="0.8"/>
<circle cx="298.20" cy="276.21" r="2.5" fill="#cfcfcf" stroke="#6e6e6e" stroke-width="0.8"/>
<circle cx="309.61" cy="256.12" r="2.5" fill="#cfcfcf" stroke="#6e6e6e" stroke-width="0.8"/>
<circle cx="309.61" cy="275.59" r="2.5" fill="#cfcfcf" stroke="#6e6e6e" stroke-width="0.8"/>
<circle cx="321.03" cy="252.77" r="2.5" fill="#cfcfcf" stroke="#6e6e6e" stroke-width="0.8"/>
<circle cx="321.03" cy="274.84" r="2.5" fill="#cfcfcf" stroke="#6e6e6e" stroke-width="0.8"/>
<circle cx="332.45" cy="255.38" r="2.5" fill="#cfcfcf" stroke="#6e6e6e" stroke-width="0.8"/>
<circle cx="332.45" cy="272.49" r="2.5" fill="#cfcfcf" stroke="#6e6e6e" stroke-width="0.8"/>
<circle cx="343.87" cy="254.51" r="2.5" fill="#cfcfcf" stroke="#6e6e6e" stroke-width="0.8"/>
<circle cx="343.87" cy="273.36" r="2.5" fill="#cfcfcf" stroke="#6e6e6e" stroke-width="0.8"/>
<circle cx="355.29" cy="256.62" r="2.5" fill="#cfcfcf" stroke="#6e6e6e" stroke-width="0.8"/>
<circle cx="355.29" cy="272.74" r="2.5" fill="#cfcfcf" stroke="#6e6e6e" stroke-width="0.8"/>
<circle cx="366.70" cy="254.51" r="2.5" fill="#cfcfcf" stroke="#6e6e6e" stroke-width="0.8"/>
<circle cx="366.70" cy="271.25" r="2.5" fill="#cfcfcf" stroke="#6e6e6e" stroke-width="0.8"/>
<circle cx="378.12" cy="256.12" r="2.5" fill="#cfcfcf" stroke="#6e6e6e" stroke-width="0.8"/>
<circle cx="378.12" cy="270.50" r="2.5" fill="#cfcfcf" stroke="#6e6e6e" stroke-width="0.8"/>
<circle cx="389.54" cy="259.22" r="2.5" fill="#cfcfcf" stroke="#6e6e6e" stroke-width="0.8"/>
<circle cx="389.54" cy="272.49" r="2.5" fill="#cfcfcf" stroke="#6e6e6e" stroke-width="0.8"/>
<circle cx="400.96" cy="258.60" r="2.5" fill="#cfcfcf" stroke="#6e6e6e" stroke-width="0.8"/>
<circle cx="400.96" cy="269.51" r="2.5" fill="#cfcfcf" stroke="#6e6e6e" stroke-width="0.8"/>
<circle cx="412.38" cy="256.86" r="2.5" fill="#cfcfcf" stroke="#6e6e6e" stroke-width="0.8"/>
<circle cx="412.38" cy="269.14" r="2.5" fill="#cfcfcf" stroke="#6e6e6e" stroke-width="0.8"/>
<circle cx="423.79" cy="259.22" r="2.5" fill="#cfcfcf" stroke="#6e6e6e" stroke-width="0.8"/>
<circle cx="423.79" cy="269.51" r="2.5" fill="#cfcfcf" stroke="#6e6e6e" stroke-width="0.8"/>
<circle cx="435.21" cy="260.83" r="2.5" fill="#cfcfcf" stroke="#6e6e6e" stroke-width="0.8"/>
<circle cx="435.21" cy="271.37" r="2.5" fill="#cfcfcf" stroke="#6e6e6e" stroke-width="0.8"/>
<circle cx="446.63" cy="258.60" r="2.5" fill="#cfcfcf" stroke="#6e6e6e" stroke-width="0.8"/>
<circle cx="446.63" cy="271.37" r="2.5" fill="#cfcfcf" stroke="#6e6e6e" stroke-width="0.8"/>
<circle cx="458.05" cy="262.57" r="2.5" fill="#cfcfcf" stroke="#6e6e6e" stroke-width="0.8"/>
<circle cx="458.05" cy="270.26" r="2.5" fill="#cfcfcf" stroke="#6e6e6e" stroke-width="0.8"/>
<path d="M104.09,197.22 L115.51,202.14 L126.93,207.06 L138.34,211.98 L149.76,216.89 L161.18,221.81 L172.60,226.73 L172.60,197.22 L184.02,202.14 L195.43,207.06 L206.85,211.98 L218.27,216.89 L229.69,221.81 L241.11,226.73 L241.11,197.22 L252.52,202.14 L263.94,207.06 L275.36,211.98 L286.78,216.89 L298.20,221.81 L309.61,226.73 L309.61,197.22 L321.03,202.14 L332.45,207.06 L343.87,211.98 L355.29,216.89 L366.70,221.81 L378.12,226.73 L378.12,197.22 L389.54,202.14 L400.96,207.06 L412.38,211.98 L423.79,216.89 L435.21,221.81 L446.63,226.73 L446.63,197.22 L458.05,202.14 L469.47,207.06 L480.88,211.98" fill="none" stroke="#fff" stroke-width="4.2" stroke-linejoin="miter"/>
<path d="M104.09,197.22 L115.51,202.14 L126.93,207.06 L138.34,211.98 L149.76,216.89 L161.18,221.81 L172.60,226.73 L172.60,197.22 L184.02,202.14 L195.43,207.06 L206.85,211.98 L218.27,216.89 L229.69,221.81 L241.11,226.73 L241.11,197.22 L252.52,202.14 L263.94,207.06 L275.36,211.98 L286.78,216.89 L298.20,221.81 L309.61,226.73 L309.61,197.22 L321.03,202.14 L332.45,207.06 L343.87,211.98 L355.29,216.89 L366.70,221.81 L378.12,226.73 L378.12,197.22 L389.54,202.14 L400.96,207.06 L412.38,211.98 L423.79,216.89 L435.21,221.81 L446.63,226.73 L446.63,197.22 L458.05,202.14 L469.47,207.06 L480.88,211.98" fill="none" stroke="#b2d7ef" stroke-width="3.2" stroke-linejoin="miter"/>
<path d="M92.67,197.22 L104.09,202.14 L115.51,207.06 L126.93,211.98 L138.34,216.89 L149.76,221.81 L161.18,226.73 L161.18,197.22 L172.60,202.14 L184.02,207.06 L195.43,211.98 L206.85,216.89 L218.27,221.81 L229.69,226.73 L229.69,197.22 L241.11,202.14 L252.52,207.06 L263.94,211.98 L275.36,216.89 L286.78,221.81 L298.20,226.73 L298.20,197.22 L309.61,202.14 L321.03,207.06 L332.45,211.98 L343.87,216.89 L355.29,221.81 L366.70,226.73 L366.70,197.22 L378.12,202.14 L389.54,207.06 L400.96,211.98 L412.38,216.89 L423.79,221.81 L435.21,226.73 L435.21,197.22 L446.63,202.14 L458.05,207.06 L469.47,211.98 L480.88,216.89" fill="none" stroke="#fff" stroke-width="4.2" stroke-linejoin="miter"/>
<path d="M92.67,197.22 L104.09,202.14 L115.51,207.06 L126.93,211.98 L138.34,216.89 L149.76,221.81 L161.18,226.73 L161.18,197.22 L172.60,202.14 L184.02,207.06 L195.43,211.98 L206.85,216.89 L218.27,221.81 L229.69,226.73 L229.69,197.22 L241.11,202.14 L252.52,207.06 L263.94,211.98 L275.36,216.89 L286.78,221.81 L298.20,226.73 L298.20,197.22 L309.61,202.14 L321.03,207.06 L332.45,211.98 L343.87,216.89 L355.29,221.81 L366.70,226.73 L366.70,197.22 L378.12,202.14 L389.54,207.06 L400.96,211.98 L412.38,216.89 L423.79,221.81 L435.21,226.73 L435.21,197.22 L446.63,202.14 L458.05,207.06 L469.47,211.98 L480.88,216.89" fill="none" stroke="#86c0e6" stroke-width="3.2" stroke-linejoin="miter"/>
<path d="M81.25,197.22 L92.67,202.14 L104.09,207.06 L115.51,211.98 L126.93,216.89 L138.34,221.81 L149.76,226.73 L149.76,197.22 L161.18,202.14 L172.60,207.06 L184.02,211.98 L195.43,216.89 L206.85,221.81 L218.27,226.73 L218.27,197.22 L229.69,202.14 L241.11,207.06 L252.52,211.98 L263.94,216.89 L275.36,221.81 L286.78,226.73 L286.78,197.22 L298.20,202.14 L309.61,207.06 L321.03,211.98 L332.45,216.89 L343.87,221.81 L355.29,226.73 L355.29,197.22 L366.70,202.14 L378.12,207.06 L389.54,211.98 L400.96,216.89 L412.38,221.81 L423.79,226.73 L423.79,197.22 L435.21,202.14 L446.63,207.06 L458.05,211.98 L469.47,216.89 L480.88,221.81" fill="none" stroke="#fff" stroke-width="4.2" stroke-linejoin="miter"/>
<path d="M81.25,197.22 L92.67,202.14 L104.09,207.06 L115.51,211.98 L126.93,216.89 L138.34,221.81 L149.76,226.73 L149.76,197.22 L161.18,202.14 L172.60,207.06 L184.02,211.98 L195.43,216.89 L206.85,221.81 L218.27,226.73 L218.27,197.22 L229.69,202.14 L241.11,207.06 L252.52,211.98 L263.94,216.89 L275.36,221.81 L286.78,226.73 L286.78,197.22 L298.20,202.14 L309.61,207.06 L321.03,211.98 L332.45,216.89 L343.87,221.81 L355.29,226.73 L355.29,197.22 L366.70,202.14 L378.12,207.06 L389.54,211.98 L400.96,216.89 L412.38,221.81 L423.79,226.73 L423.79,197.22 L435.21,202.14 L446.63,207.06 L458.05,211.98 L469.47,216.89 L480.88,221.81" fill="none" stroke="#58a7dc" stroke-width="3.2" stroke-linejoin="miter"/>
<path d="M69.84,197.22 L81.25,202.14 L92.67,207.06 L104.09,211.98 L115.51,216.89 L126.93,221.81 L138.34,226.73 L138.34,197.22 L149.76,202.14 L161.18,207.06 L172.60,211.98 L184.02,216.89 L195.43,221.81 L206.85,226.73 L206.85,197.22 L218.27,202.14 L229.69,207.06 L241.11,211.98 L252.52,216.89 L263.94,221.81 L275.36,226.73 L275.36,197.22 L286.78,202.14 L298.20,207.06 L309.61,211.98 L321.03,216.89 L332.45,221.81 L343.87,226.73 L343.87,197.22 L355.29,202.14 L366.70,207.06 L378.12,211.98 L389.54,216.89 L400.96,221.81 L412.38,226.73 L412.38,197.22 L423.79,202.14 L435.21,207.06 L446.63,211.98 L458.05,216.89 L469.47,221.81 L480.88,226.73" fill="none" stroke="#fff" stroke-width="4.2" stroke-linejoin="miter"/>
<path d="M69.84,197.22 L81.25,202.14 L92.67,207.06 L104.09,211.98 L115.51,216.89 L126.93,221.81 L138.34,226.73 L138.34,197.22 L149.76,202.14 L161.18,207.06 L172.60,211.98 L184.02,216.89 L195.43,221.81 L206.85,226.73 L206.85,197.22 L218.27,202.14 L229.69,207.06 L241.11,211.98 L252.52,216.89 L263.94,221.81 L275.36,226.73 L275.36,197.22 L286.78,202.14 L298.20,207.06 L309.61,211.98 L321.03,216.89 L332.45,221.81 L343.87,226.73 L343.87,197.22 L355.29,202.14 L366.70,207.06 L378.12,211.98 L389.54,216.89 L400.96,221.81 L412.38,226.73 L412.38,197.22 L423.79,202.14 L435.21,207.06 L446.63,211.98 L458.05,216.89 L469.47,221.81 L480.88,226.73" fill="none" stroke="#3690d0" stroke-width="3.2" stroke-linejoin="miter"/>
<path d="M58.42,197.22 L69.84,202.14 L81.25,207.06 L92.67,211.98 L104.09,216.89 L115.51,221.81 L126.93,226.73 L126.93,197.22 L138.34,202.14 L149.76,207.06 L161.18,211.98 L172.60,216.89 L184.02,221.81 L195.43,226.73 L195.43,197.22 L206.85,202.14 L218.27,207.06 L229.69,211.98 L241.11,216.89 L252.52,221.81 L263.94,226.73 L263.94,197.22 L275.36,202.14 L286.78,207.06 L298.20,211.98 L309.61,216.89 L321.03,221.81 L332.45,226.73 L332.45,197.22 L343.87,202.14 L355.29,207.06 L366.70,211.98 L378.12,216.89 L389.54,221.81 L400.96,226.73 L400.96,197.22 L412.38,202.14 L423.79,207.06 L435.21,211.98 L446.63,216.89 L458.05,221.81 L469.47,226.73 L469.47,197.22 L480.88,202.14" fill="none" stroke="#fff" stroke-width="4.2" stroke-linejoin="miter"/>
<path d="M58.42,197.22 L69.84,202.14 L81.25,207.06 L92.67,211.98 L104.09,216.89 L115.51,221.81 L126.93,226.73 L126.93,197.22 L138.34,202.14 L149.76,207.06 L161.18,211.98 L172.60,216.89 L184.02,221.81 L195.43,226.73 L195.43,197.22 L206.85,202.14 L218.27,207.06 L229.69,211.98 L241.11,216.89 L252.52,221.81 L263.94,226.73 L263.94,197.22 L275.36,202.14 L286.78,207.06 L298.20,211.98 L309.61,216.89 L321.03,221.81 L332.45,226.73 L332.45,197.22 L343.87,202.14 L355.29,207.06 L366.70,211.98 L378.12,216.89 L389.54,221.81 L400.96,226.73 L400.96,197.22 L412.38,202.14 L423.79,207.06 L435.21,211.98 L446.63,216.89 L458.05,221.81 L469.47,226.73 L469.47,197.22 L480.88,202.14" fill="none" stroke="#1f74be" stroke-width="3.2" stroke-linejoin="miter"/>
<path d="M47.00,197.22 L58.42,202.14 L69.84,207.06 L81.25,211.98 L92.67,216.89 L104.09,221.81 L115.51,226.73 L115.51,197.22 L126.93,202.14 L138.34,207.06 L149.76,211.98 L161.18,216.89 L172.60,221.81 L184.02,226.73 L184.02,197.22 L195.43,202.14 L206.85,207.06 L218.27,211.98 L229.69,216.89 L241.11,221.81 L252.52,226.73 L252.52,197.22 L263.94,202.14 L275.36,207.06 L286.78,211.98 L298.20,216.89 L309.61,221.81 L321.03,226.73 L321.03,197.22 L332.45,202.14 L343.87,207.06 L355.29,211.98 L366.70,216.89 L378.12,221.81 L389.54,226.73 L389.54,197.22 L400.96,202.14 L412.38,207.06 L423.79,211.98 L435.21,216.89 L446.63,221.81 L458.05,226.73 L458.05,197.22 L469.47,202.14 L480.88,207.06" fill="none" stroke="#fff" stroke-width="4.2" stroke-linejoin="miter"/>
<path d="M47.00,197.22 L58.42,202.14 L69.84,207.06 L81.25,211.98 L92.67,216.89 L104.09,221.81 L115.51,226.73 L115.51,197.22 L126.93,202.14 L138.34,207.06 L149.76,211.98 L161.18,216.89 L172.60,221.81 L184.02,226.73 L184.02,197.22 L195.43,202.14 L206.85,207.06 L218.27,211.98 L229.69,216.89 L241.11,221.81 L252.52,226.73 L252.52,197.22 L263.94,202.14 L275.36,207.06 L286.78,211.98 L298.20,216.89 L309.61,221.81 L321.03,226.73 L321.03,197.22 L332.45,202.14 L343.87,207.06 L355.29,211.98 L366.70,216.89 L378.12,221.81 L389.54,226.73 L389.54,197.22 L400.96,202.14 L412.38,207.06 L423.79,211.98 L435.21,216.89 L446.63,221.81 L458.05,226.73 L458.05,197.22 L469.47,202.14 L480.88,207.06" fill="none" stroke="#0b4a98" stroke-width="3.2" stroke-linejoin="miter"/>
<circle cx="104.09" cy="196.92" r="2.25" fill="#b2d7ef" stroke="#80bbe0" stroke-width="0.8"/>
<circle cx="115.51" cy="205.69" r="2.25" fill="#b2d7ef" stroke="#80bbe0" stroke-width="0.8"/>
<circle cx="126.93" cy="209.99" r="2.25" fill="#b2d7ef" stroke="#80bbe0" stroke-width="0.8"/>
<circle cx="138.34" cy="215.04" r="2.25" fill="#b2d7ef" stroke="#80bbe0" stroke-width="0.8"/>
<circle cx="149.76" cy="217.17" r="2.25" fill="#b2d7ef" stroke="#80bbe0" stroke-width="0.8"/>
<circle cx="161.18" cy="219.72" r="2.25" fill="#b2d7ef" stroke="#80bbe0" stroke-width="0.8"/>
<circle cx="172.60" cy="227.44" r="2.25" fill="#b2d7ef" stroke="#80bbe0" stroke-width="0.8"/>
<circle cx="172.60" cy="197.66" r="2.25" fill="#b2d7ef" stroke="#80bbe0" stroke-width="0.8"/>
<circle cx="184.02" cy="204.63" r="2.25" fill="#b2d7ef" stroke="#80bbe0" stroke-width="0.8"/>
<circle cx="195.43" cy="211.83" r="2.25" fill="#b2d7ef" stroke="#80bbe0" stroke-width="0.8"/>
<circle cx="206.85" cy="214.06" r="2.25" fill="#b2d7ef" stroke="#80bbe0" stroke-width="0.8"/>
<circle cx="218.27" cy="217.39" r="2.25" fill="#b2d7ef" stroke="#80bbe0" stroke-width="0.8"/>
<circle cx="229.69" cy="219.91" r="2.25" fill="#b2d7ef" stroke="#80bbe0" stroke-width="0.8"/>
<circle cx="241.11" cy="226.07" r="2.25" fill="#b2d7ef" stroke="#80bbe0" stroke-width="0.8"/>
<circle cx="241.11" cy="197.69" r="2.25" fill="#b2d7ef" stroke="#80bbe0" stroke-width="0.8"/>
<circle cx="252.52" cy="204.66" r="2.25" fill="#b2d7ef" stroke="#80bbe0" stroke-width="0.8"/>
<circle cx="263.94" cy="211.82" r="2.25" fill="#b2d7ef" stroke="#80bbe0" stroke-width="0.8"/>
<circle cx="275.36" cy="215.86" r="2.25" fill="#b2d7ef" stroke="#80bbe0" stroke-width="0.8"/>
<circle cx="286.78" cy="218.06" r="2.25" fill="#b2d7ef" stroke="#80bbe0" stroke-width="0.8"/>
<circle cx="298.20" cy="220.11" r="2.25" fill="#b2d7ef" stroke="#80bbe0" stroke-width="0.8"/>
<circle cx="309.61" cy="225.96" r="2.25" fill="#b2d7ef" stroke="#80bbe0" stroke-width="0.8"/>
<circle cx="309.61" cy="196.62" r="2.25" fill="#b2d7ef" stroke="#80bbe0" stroke-width="0.8"/>
<circle cx="321.03" cy="206.72" r="2.25" fill="#b2d7ef" stroke="#80bbe0" stroke-width="0.8"/>
<circle cx="332.45" cy="211.74" r="2.25" fill="#b2d7ef" stroke="#80bbe0" stroke-width="0.8"/>
<circle cx="343.87" cy="217.26" r="2.25" fill="#b2d7ef" stroke="#80bbe0" stroke-width="0.8"/>
<circle cx="355.29" cy="217.77" r="2.25" fill="#b2d7ef" stroke="#80bbe0" stroke-width="0.8"/>
<circle cx="366.70" cy="220.26" r="2.25" fill="#b2d7ef" stroke="#80bbe0" stroke-width="0.8"/>
<circle cx="378.12" cy="227.40" r="2.25" fill="#b2d7ef" stroke="#80bbe0" stroke-width="0.8"/>
<circle cx="378.12" cy="196.89" r="2.25" fill="#b2d7ef" stroke="#80bbe0" stroke-width="0.8"/>
<circle cx="389.54" cy="205.08" r="2.25" fill="#b2d7ef" stroke="#80bbe0" stroke-width="0.8"/>
<circle cx="400.96" cy="210.36" r="2.25" fill="#b2d7ef" stroke="#80bbe0" stroke-width="0.8"/>
<circle cx="412.38" cy="215.91" r="2.25" fill="#b2d7ef" stroke="#80bbe0" stroke-width="0.8"/>
<circle cx="423.79" cy="218.40" r="2.25" fill="#b2d7ef" stroke="#80bbe0" stroke-width="0.8"/>
<circle cx="435.21" cy="221.44" r="2.25" fill="#b2d7ef" stroke="#80bbe0" stroke-width="0.8"/>
<circle cx="446.63" cy="225.21" r="2.25" fill="#b2d7ef" stroke="#80bbe0" stroke-width="0.8"/>
<circle cx="446.63" cy="196.59" r="2.25" fill="#b2d7ef" stroke="#80bbe0" stroke-width="0.8"/>
<circle cx="458.05" cy="205.39" r="2.25" fill="#b2d7ef" stroke="#80bbe0" stroke-width="0.8"/>
<circle cx="469.47" cy="211.04" r="2.25" fill="#b2d7ef" stroke="#80bbe0" stroke-width="0.8"/>
<circle cx="480.88" cy="215.10" r="2.25" fill="#b2d7ef" stroke="#80bbe0" stroke-width="0.8"/>
<circle cx="92.67" cy="196.77" r="2.25" fill="#86c0e6" stroke="#5ea6d6" stroke-width="0.8"/>
<circle cx="104.09" cy="205.43" r="2.25" fill="#86c0e6" stroke="#5ea6d6" stroke-width="0.8"/>
<circle cx="115.51" cy="213.09" r="2.25" fill="#86c0e6" stroke="#5ea6d6" stroke-width="0.8"/>
<circle cx="126.93" cy="215.31" r="2.25" fill="#86c0e6" stroke="#5ea6d6" stroke-width="0.8"/>
<circle cx="138.34" cy="219.03" r="2.25" fill="#86c0e6" stroke="#5ea6d6" stroke-width="0.8"/>
<circle cx="149.76" cy="220.26" r="2.25" fill="#86c0e6" stroke="#5ea6d6" stroke-width="0.8"/>
<circle cx="161.18" cy="228.59" r="2.25" fill="#86c0e6" stroke="#5ea6d6" stroke-width="0.8"/>
<circle cx="161.18" cy="197.29" r="2.25" fill="#86c0e6" stroke="#5ea6d6" stroke-width="0.8"/>
<circle cx="172.60" cy="204.22" r="2.25" fill="#86c0e6" stroke="#5ea6d6" stroke-width="0.8"/>
<circle cx="184.02" cy="209.81" r="2.25" fill="#86c0e6" stroke="#5ea6d6" stroke-width="0.8"/>
<circle cx="195.43" cy="216.23" r="2.25" fill="#86c0e6" stroke="#5ea6d6" stroke-width="0.8"/>
<circle cx="206.85" cy="219.01" r="2.25" fill="#86c0e6" stroke="#5ea6d6" stroke-width="0.8"/>
<circle cx="218.27" cy="220.02" r="2.25" fill="#86c0e6" stroke="#5ea6d6" stroke-width="0.8"/>
<circle cx="229.69" cy="225.99" r="2.25" fill="#86c0e6" stroke="#5ea6d6" stroke-width="0.8"/>
<circle cx="229.69" cy="197.31" r="2.25" fill="#86c0e6" stroke="#5ea6d6" stroke-width="0.8"/>
<circle cx="241.11" cy="205.88" r="2.25" fill="#86c0e6" stroke="#5ea6d6" stroke-width="0.8"/>
<circle cx="252.52" cy="211.83" r="2.25" fill="#86c0e6" stroke="#5ea6d6" stroke-width="0.8"/>
<circle cx="263.94" cy="216.23" r="2.25" fill="#86c0e6" stroke="#5ea6d6" stroke-width="0.8"/>
<circle cx="275.36" cy="218.27" r="2.25" fill="#86c0e6" stroke="#5ea6d6" stroke-width="0.8"/>
<circle cx="286.78" cy="219.69" r="2.25" fill="#86c0e6" stroke="#5ea6d6" stroke-width="0.8"/>
<circle cx="298.20" cy="226.13" r="2.25" fill="#86c0e6" stroke="#5ea6d6" stroke-width="0.8"/>
<circle cx="298.20" cy="196.26" r="2.25" fill="#86c0e6" stroke="#5ea6d6" stroke-width="0.8"/>
<circle cx="309.61" cy="205.35" r="2.25" fill="#86c0e6" stroke="#5ea6d6" stroke-width="0.8"/>
<circle cx="321.03" cy="211.35" r="2.25" fill="#86c0e6" stroke="#5ea6d6" stroke-width="0.8"/>
<circle cx="332.45" cy="216.05" r="2.25" fill="#86c0e6" stroke="#5ea6d6" stroke-width="0.8"/>
<circle cx="343.87" cy="217.79" r="2.25" fill="#86c0e6" stroke="#5ea6d6" stroke-width="0.8"/>
<circle cx="355.29" cy="221.92" r="2.25" fill="#86c0e6" stroke="#5ea6d6" stroke-width="0.8"/>
<circle cx="366.70" cy="228.27" r="2.25" fill="#86c0e6" stroke="#5ea6d6" stroke-width="0.8"/>
<circle cx="366.70" cy="196.73" r="2.25" fill="#86c0e6" stroke="#5ea6d6" stroke-width="0.8"/>
<circle cx="378.12" cy="204.03" r="2.25" fill="#86c0e6" stroke="#5ea6d6" stroke-width="0.8"/>
<circle cx="389.54" cy="210.51" r="2.25" fill="#86c0e6" stroke="#5ea6d6" stroke-width="0.8"/>
<circle cx="400.96" cy="214.04" r="2.25" fill="#86c0e6" stroke="#5ea6d6" stroke-width="0.8"/>
<circle cx="412.38" cy="217.46" r="2.25" fill="#86c0e6" stroke="#5ea6d6" stroke-width="0.8"/>
<circle cx="423.79" cy="221.40" r="2.25" fill="#86c0e6" stroke="#5ea6d6" stroke-width="0.8"/>
<circle cx="435.21" cy="226.66" r="2.25" fill="#86c0e6" stroke="#5ea6d6" stroke-width="0.8"/>
<circle cx="435.21" cy="197.10" r="2.25" fill="#86c0e6" stroke="#5ea6d6" stroke-width="0.8"/>
<circle cx="446.63" cy="206.24" r="2.25" fill="#86c0e6" stroke="#5ea6d6" stroke-width="0.8"/>
<circle cx="458.05" cy="212.70" r="2.25" fill="#86c0e6" stroke="#5ea6d6" stroke-width="0.8"/>
<circle cx="469.47" cy="216.49" r="2.25" fill="#86c0e6" stroke="#5ea6d6" stroke-width="0.8"/>
<circle cx="480.88" cy="217.68" r="2.25" fill="#86c0e6" stroke="#5ea6d6" stroke-width="0.8"/>
<circle cx="81.25" cy="197.00" r="2.25" fill="#58a7dc" stroke="#3a8cc6" stroke-width="0.8"/>
<circle cx="92.67" cy="203.66" r="2.25" fill="#58a7dc" stroke="#3a8cc6" stroke-width="0.8"/>
<circle cx="104.09" cy="211.83" r="2.25" fill="#58a7dc" stroke="#3a8cc6" stroke-width="0.8"/>
<circle cx="115.51" cy="215.61" r="2.25" fill="#58a7dc" stroke="#3a8cc6" stroke-width="0.8"/>
<circle cx="126.93" cy="217.05" r="2.25" fill="#58a7dc" stroke="#3a8cc6" stroke-width="0.8"/>
<circle cx="138.34" cy="219.54" r="2.25" fill="#58a7dc" stroke="#3a8cc6" stroke-width="0.8"/>
<circle cx="149.76" cy="226.16" r="2.25" fill="#58a7dc" stroke="#3a8cc6" stroke-width="0.8"/>
<circle cx="149.76" cy="196.87" r="2.25" fill="#58a7dc" stroke="#3a8cc6" stroke-width="0.8"/>
<circle cx="161.18" cy="206.86" r="2.25" fill="#58a7dc" stroke="#3a8cc6" stroke-width="0.8"/>
<circle cx="172.60" cy="211.85" r="2.25" fill="#58a7dc" stroke="#3a8cc6" stroke-width="0.8"/>
<circle cx="184.02" cy="215.73" r="2.25" fill="#58a7dc" stroke="#3a8cc6" stroke-width="0.8"/>
<circle cx="195.43" cy="218.14" r="2.25" fill="#58a7dc" stroke="#3a8cc6" stroke-width="0.8"/>
<circle cx="206.85" cy="220.27" r="2.25" fill="#58a7dc" stroke="#3a8cc6" stroke-width="0.8"/>
<circle cx="218.27" cy="227.02" r="2.25" fill="#58a7dc" stroke="#3a8cc6" stroke-width="0.8"/>
<circle cx="218.27" cy="196.70" r="2.25" fill="#58a7dc" stroke="#3a8cc6" stroke-width="0.8"/>
<circle cx="229.69" cy="205.21" r="2.25" fill="#58a7dc" stroke="#3a8cc6" stroke-width="0.8"/>
<circle cx="241.11" cy="211.52" r="2.25" fill="#58a7dc" stroke="#3a8cc6" stroke-width="0.8"/>
<circle cx="252.52" cy="215.10" r="2.25" fill="#58a7dc" stroke="#3a8cc6" stroke-width="0.8"/>
<circle cx="263.94" cy="217.31" r="2.25" fill="#58a7dc" stroke="#3a8cc6" stroke-width="0.8"/>
<circle cx="275.36" cy="220.04" r="2.25" fill="#58a7dc" stroke="#3a8cc6" stroke-width="0.8"/>
<circle cx="286.78" cy="227.15" r="2.25" fill="#58a7dc" stroke="#3a8cc6" stroke-width="0.8"/>
<circle cx="286.78" cy="197.05" r="2.25" fill="#58a7dc" stroke="#3a8cc6" stroke-width="0.8"/>
<circle cx="298.20" cy="206.46" r="2.25" fill="#58a7dc" stroke="#3a8cc6" stroke-width="0.8"/>
<circle cx="309.61" cy="209.84" r="2.25" fill="#58a7dc" stroke="#3a8cc6" stroke-width="0.8"/>
<circle cx="321.03" cy="213.94" r="2.25" fill="#58a7dc" stroke="#3a8cc6" stroke-width="0.8"/>
<circle cx="332.45" cy="217.84" r="2.25" fill="#58a7dc" stroke="#3a8cc6" stroke-width="0.8"/>
<circle cx="343.87" cy="221.20" r="2.25" fill="#58a7dc" stroke="#3a8cc6" stroke-width="0.8"/>
<circle cx="355.29" cy="227.80" r="2.25" fill="#58a7dc" stroke="#3a8cc6" stroke-width="0.8"/>
<circle cx="355.29" cy="196.91" r="2.25" fill="#58a7dc" stroke="#3a8cc6" stroke-width="0.8"/>
<circle cx="366.70" cy="205.10" r="2.25" fill="#58a7dc" stroke="#3a8cc6" stroke-width="0.8"/>
<circle cx="378.12" cy="209.34" r="2.25" fill="#58a7dc" stroke="#3a8cc6" stroke-width="0.8"/>
<circle cx="389.54" cy="214.99" r="2.25" fill="#58a7dc" stroke="#3a8cc6" stroke-width="0.8"/>
<circle cx="400.96" cy="218.36" r="2.25" fill="#58a7dc" stroke="#3a8cc6" stroke-width="0.8"/>
<circle cx="412.38" cy="222.90" r="2.25" fill="#58a7dc" stroke="#3a8cc6" stroke-width="0.8"/>
<circle cx="423.79" cy="225.51" r="2.25" fill="#58a7dc" stroke="#3a8cc6" stroke-width="0.8"/>
<circle cx="423.79" cy="196.91" r="2.25" fill="#58a7dc" stroke="#3a8cc6" stroke-width="0.8"/>
<circle cx="435.21" cy="206.68" r="2.25" fill="#58a7dc" stroke="#3a8cc6" stroke-width="0.8"/>
<circle cx="446.63" cy="211.08" r="2.25" fill="#58a7dc" stroke="#3a8cc6" stroke-width="0.8"/>
<circle cx="458.05" cy="216.60" r="2.25" fill="#58a7dc" stroke="#3a8cc6" stroke-width="0.8"/>
<circle cx="469.47" cy="214.66" r="2.25" fill="#58a7dc" stroke="#3a8cc6" stroke-width="0.8"/>
<circle cx="480.88" cy="219.81" r="2.25" fill="#58a7dc" stroke="#3a8cc6" stroke-width="0.8"/>
<circle cx="69.84" cy="197.21" r="2.25" fill="#3690d0" stroke="#2174b4" stroke-width="0.8"/>
<circle cx="81.25" cy="203.58" r="2.25" fill="#3690d0" stroke="#2174b4" stroke-width="0.8"/>
<circle cx="92.67" cy="211.02" r="2.25" fill="#3690d0" stroke="#2174b4" stroke-width="0.8"/>
<circle cx="104.09" cy="214.36" r="2.25" fill="#3690d0" stroke="#2174b4" stroke-width="0.8"/>
<circle cx="115.51" cy="216.92" r="2.25" fill="#3690d0" stroke="#2174b4" stroke-width="0.8"/>
<circle cx="126.93" cy="221.77" r="2.25" fill="#3690d0" stroke="#2174b4" stroke-width="0.8"/>
<circle cx="138.34" cy="224.62" r="2.25" fill="#3690d0" stroke="#2174b4" stroke-width="0.8"/>
<circle cx="138.34" cy="196.36" r="2.25" fill="#3690d0" stroke="#2174b4" stroke-width="0.8"/>
<circle cx="149.76" cy="205.13" r="2.25" fill="#3690d0" stroke="#2174b4" stroke-width="0.8"/>
<circle cx="161.18" cy="210.58" r="2.25" fill="#3690d0" stroke="#2174b4" stroke-width="0.8"/>
<circle cx="172.60" cy="215.09" r="2.25" fill="#3690d0" stroke="#2174b4" stroke-width="0.8"/>
<circle cx="184.02" cy="218.45" r="2.25" fill="#3690d0" stroke="#2174b4" stroke-width="0.8"/>
<circle cx="195.43" cy="220.88" r="2.25" fill="#3690d0" stroke="#2174b4" stroke-width="0.8"/>
<circle cx="206.85" cy="226.41" r="2.25" fill="#3690d0" stroke="#2174b4" stroke-width="0.8"/>
<circle cx="206.85" cy="196.58" r="2.25" fill="#3690d0" stroke="#2174b4" stroke-width="0.8"/>
<circle cx="218.27" cy="204.66" r="2.25" fill="#3690d0" stroke="#2174b4" stroke-width="0.8"/>
<circle cx="229.69" cy="211.18" r="2.25" fill="#3690d0" stroke="#2174b4" stroke-width="0.8"/>
<circle cx="241.11" cy="214.02" r="2.25" fill="#3690d0" stroke="#2174b4" stroke-width="0.8"/>
<circle cx="252.52" cy="218.34" r="2.25" fill="#3690d0" stroke="#2174b4" stroke-width="0.8"/>
<circle cx="263.94" cy="220.09" r="2.25" fill="#3690d0" stroke="#2174b4" stroke-width="0.8"/>
<circle cx="275.36" cy="225.77" r="2.25" fill="#3690d0" stroke="#2174b4" stroke-width="0.8"/>
<circle cx="275.36" cy="197.07" r="2.25" fill="#3690d0" stroke="#2174b4" stroke-width="0.8"/>
<circle cx="286.78" cy="206.83" r="2.25" fill="#3690d0" stroke="#2174b4" stroke-width="0.8"/>
<circle cx="298.20" cy="212.02" r="2.25" fill="#3690d0" stroke="#2174b4" stroke-width="0.8"/>
<circle cx="309.61" cy="214.99" r="2.25" fill="#3690d0" stroke="#2174b4" stroke-width="0.8"/>
<circle cx="321.03" cy="217.22" r="2.25" fill="#3690d0" stroke="#2174b4" stroke-width="0.8"/>
<circle cx="332.45" cy="219.44" r="2.25" fill="#3690d0" stroke="#2174b4" stroke-width="0.8"/>
<circle cx="343.87" cy="227.60" r="2.25" fill="#3690d0" stroke="#2174b4" stroke-width="0.8"/>
<circle cx="343.87" cy="196.97" r="2.25" fill="#3690d0" stroke="#2174b4" stroke-width="0.8"/>
<circle cx="355.29" cy="204.72" r="2.25" fill="#3690d0" stroke="#2174b4" stroke-width="0.8"/>
<circle cx="366.70" cy="211.37" r="2.25" fill="#3690d0" stroke="#2174b4" stroke-width="0.8"/>
<circle cx="378.12" cy="217.26" r="2.25" fill="#3690d0" stroke="#2174b4" stroke-width="0.8"/>
<circle cx="389.54" cy="216.98" r="2.25" fill="#3690d0" stroke="#2174b4" stroke-width="0.8"/>
<circle cx="400.96" cy="218.77" r="2.25" fill="#3690d0" stroke="#2174b4" stroke-width="0.8"/>
<circle cx="412.38" cy="225.86" r="2.25" fill="#3690d0" stroke="#2174b4" stroke-width="0.8"/>
<circle cx="412.38" cy="197.29" r="2.25" fill="#3690d0" stroke="#2174b4" stroke-width="0.8"/>
<circle cx="423.79" cy="205.64" r="2.25" fill="#3690d0" stroke="#2174b4" stroke-width="0.8"/>
<circle cx="435.21" cy="211.04" r="2.25" fill="#3690d0" stroke="#2174b4" stroke-width="0.8"/>
<circle cx="446.63" cy="213.04" r="2.25" fill="#3690d0" stroke="#2174b4" stroke-width="0.8"/>
<circle cx="458.05" cy="217.14" r="2.25" fill="#3690d0" stroke="#2174b4" stroke-width="0.8"/>
<circle cx="469.47" cy="220.68" r="2.25" fill="#3690d0" stroke="#2174b4" stroke-width="0.8"/>
<circle cx="480.88" cy="225.38" r="2.25" fill="#3690d0" stroke="#2174b4" stroke-width="0.8"/>
<circle cx="58.42" cy="196.68" r="2.25" fill="#1f74be" stroke="#125a9e" stroke-width="0.8"/>
<circle cx="69.84" cy="206.43" r="2.25" fill="#1f74be" stroke="#125a9e" stroke-width="0.8"/>
<circle cx="81.25" cy="211.48" r="2.25" fill="#1f74be" stroke="#125a9e" stroke-width="0.8"/>
<circle cx="92.67" cy="214.62" r="2.25" fill="#1f74be" stroke="#125a9e" stroke-width="0.8"/>
<circle cx="104.09" cy="217.76" r="2.25" fill="#1f74be" stroke="#125a9e" stroke-width="0.8"/>
<circle cx="115.51" cy="220.46" r="2.25" fill="#1f74be" stroke="#125a9e" stroke-width="0.8"/>
<circle cx="126.93" cy="226.64" r="2.25" fill="#1f74be" stroke="#125a9e" stroke-width="0.8"/>
<circle cx="126.93" cy="197.32" r="2.25" fill="#1f74be" stroke="#125a9e" stroke-width="0.8"/>
<circle cx="138.34" cy="204.79" r="2.25" fill="#1f74be" stroke="#125a9e" stroke-width="0.8"/>
<circle cx="149.76" cy="211.94" r="2.25" fill="#1f74be" stroke="#125a9e" stroke-width="0.8"/>
<circle cx="161.18" cy="213.58" r="2.25" fill="#1f74be" stroke="#125a9e" stroke-width="0.8"/>
<circle cx="172.60" cy="218.12" r="2.25" fill="#1f74be" stroke="#125a9e" stroke-width="0.8"/>
<circle cx="184.02" cy="220.18" r="2.25" fill="#1f74be" stroke="#125a9e" stroke-width="0.8"/>
<circle cx="195.43" cy="226.73" r="2.25" fill="#1f74be" stroke="#125a9e" stroke-width="0.8"/>
<circle cx="195.43" cy="196.64" r="2.25" fill="#1f74be" stroke="#125a9e" stroke-width="0.8"/>
<circle cx="206.85" cy="205.80" r="2.25" fill="#1f74be" stroke="#125a9e" stroke-width="0.8"/>
<circle cx="218.27" cy="210.36" r="2.25" fill="#1f74be" stroke="#125a9e" stroke-width="0.8"/>
<circle cx="229.69" cy="215.31" r="2.25" fill="#1f74be" stroke="#125a9e" stroke-width="0.8"/>
<circle cx="241.11" cy="216.58" r="2.25" fill="#1f74be" stroke="#125a9e" stroke-width="0.8"/>
<circle cx="252.52" cy="220.24" r="2.25" fill="#1f74be" stroke="#125a9e" stroke-width="0.8"/>
<circle cx="263.94" cy="226.61" r="2.25" fill="#1f74be" stroke="#125a9e" stroke-width="0.8"/>
<circle cx="263.94" cy="197.24" r="2.25" fill="#1f74be" stroke="#125a9e" stroke-width="0.8"/>
<circle cx="275.36" cy="204.61" r="2.25" fill="#1f74be" stroke="#125a9e" stroke-width="0.8"/>
<circle cx="286.78" cy="210.83" r="2.25" fill="#1f74be" stroke="#125a9e" stroke-width="0.8"/>
<circle cx="298.20" cy="213.77" r="2.25" fill="#1f74be" stroke="#125a9e" stroke-width="0.8"/>
<circle cx="309.61" cy="218.01" r="2.25" fill="#1f74be" stroke="#125a9e" stroke-width="0.8"/>
<circle cx="321.03" cy="220.30" r="2.25" fill="#1f74be" stroke="#125a9e" stroke-width="0.8"/>
<circle cx="332.45" cy="226.29" r="2.25" fill="#1f74be" stroke="#125a9e" stroke-width="0.8"/>
<circle cx="332.45" cy="196.87" r="2.25" fill="#1f74be" stroke="#125a9e" stroke-width="0.8"/>
<circle cx="343.87" cy="205.10" r="2.25" fill="#1f74be" stroke="#125a9e" stroke-width="0.8"/>
<circle cx="355.29" cy="211.07" r="2.25" fill="#1f74be" stroke="#125a9e" stroke-width="0.8"/>
<circle cx="366.70" cy="215.72" r="2.25" fill="#1f74be" stroke="#125a9e" stroke-width="0.8"/>
<circle cx="378.12" cy="218.56" r="2.25" fill="#1f74be" stroke="#125a9e" stroke-width="0.8"/>
<circle cx="389.54" cy="221.12" r="2.25" fill="#1f74be" stroke="#125a9e" stroke-width="0.8"/>
<circle cx="400.96" cy="226.22" r="2.25" fill="#1f74be" stroke="#125a9e" stroke-width="0.8"/>
<circle cx="400.96" cy="196.45" r="2.25" fill="#1f74be" stroke="#125a9e" stroke-width="0.8"/>
<circle cx="412.38" cy="204.43" r="2.25" fill="#1f74be" stroke="#125a9e" stroke-width="0.8"/>
<circle cx="423.79" cy="210.32" r="2.25" fill="#1f74be" stroke="#125a9e" stroke-width="0.8"/>
<circle cx="435.21" cy="214.53" r="2.25" fill="#1f74be" stroke="#125a9e" stroke-width="0.8"/>
<circle cx="446.63" cy="217.07" r="2.25" fill="#1f74be" stroke="#125a9e" stroke-width="0.8"/>
<circle cx="458.05" cy="220.62" r="2.25" fill="#1f74be" stroke="#125a9e" stroke-width="0.8"/>
<circle cx="469.47" cy="226.06" r="2.25" fill="#1f74be" stroke="#125a9e" stroke-width="0.8"/>
<circle cx="469.47" cy="196.36" r="2.25" fill="#1f74be" stroke="#125a9e" stroke-width="0.8"/>
<circle cx="480.88" cy="205.56" r="2.25" fill="#1f74be" stroke="#125a9e" stroke-width="0.8"/>
<circle cx="47.00" cy="196.60" r="2.25" fill="#0b4a98" stroke="#06346e" stroke-width="0.8"/>
<circle cx="58.42" cy="206.77" r="2.25" fill="#0b4a98" stroke="#06346e" stroke-width="0.8"/>
<circle cx="69.84" cy="213.09" r="2.25" fill="#0b4a98" stroke="#06346e" stroke-width="0.8"/>
<circle cx="81.25" cy="217.18" r="2.25" fill="#0b4a98" stroke="#06346e" stroke-width="0.8"/>
<circle cx="92.67" cy="218.42" r="2.25" fill="#0b4a98" stroke="#06346e" stroke-width="0.8"/>
<circle cx="104.09" cy="222.14" r="2.25" fill="#0b4a98" stroke="#06346e" stroke-width="0.8"/>
<circle cx="115.51" cy="228.84" r="2.25" fill="#0b4a98" stroke="#06346e" stroke-width="0.8"/>
<circle cx="115.51" cy="197.40" r="2.25" fill="#0b4a98" stroke="#06346e" stroke-width="0.8"/>
<circle cx="126.93" cy="204.95" r="2.25" fill="#0b4a98" stroke="#06346e" stroke-width="0.8"/>
<circle cx="138.34" cy="210.37" r="2.25" fill="#0b4a98" stroke="#06346e" stroke-width="0.8"/>
<circle cx="149.76" cy="215.65" r="2.25" fill="#0b4a98" stroke="#06346e" stroke-width="0.8"/>
<circle cx="161.18" cy="218.83" r="2.25" fill="#0b4a98" stroke="#06346e" stroke-width="0.8"/>
<circle cx="172.60" cy="220.84" r="2.25" fill="#0b4a98" stroke="#06346e" stroke-width="0.8"/>
<circle cx="184.02" cy="226.32" r="2.25" fill="#0b4a98" stroke="#06346e" stroke-width="0.8"/>
<circle cx="184.02" cy="196.59" r="2.25" fill="#0b4a98" stroke="#06346e" stroke-width="0.8"/>
<circle cx="195.43" cy="206.34" r="2.25" fill="#0b4a98" stroke="#06346e" stroke-width="0.8"/>
<circle cx="206.85" cy="212.35" r="2.25" fill="#0b4a98" stroke="#06346e" stroke-width="0.8"/>
<circle cx="218.27" cy="214.59" r="2.25" fill="#0b4a98" stroke="#06346e" stroke-width="0.8"/>
<circle cx="229.69" cy="217.27" r="2.25" fill="#0b4a98" stroke="#06346e" stroke-width="0.8"/>
<circle cx="241.11" cy="219.45" r="2.25" fill="#0b4a98" stroke="#06346e" stroke-width="0.8"/>
<circle cx="252.52" cy="225.88" r="2.25" fill="#0b4a98" stroke="#06346e" stroke-width="0.8"/>
<circle cx="252.52" cy="197.01" r="2.25" fill="#0b4a98" stroke="#06346e" stroke-width="0.8"/>
<circle cx="263.94" cy="205.52" r="2.25" fill="#0b4a98" stroke="#06346e" stroke-width="0.8"/>
<circle cx="275.36" cy="209.00" r="2.25" fill="#0b4a98" stroke="#06346e" stroke-width="0.8"/>
<circle cx="286.78" cy="215.45" r="2.25" fill="#0b4a98" stroke="#06346e" stroke-width="0.8"/>
<circle cx="298.20" cy="218.36" r="2.25" fill="#0b4a98" stroke="#06346e" stroke-width="0.8"/>
<circle cx="309.61" cy="221.77" r="2.25" fill="#0b4a98" stroke="#06346e" stroke-width="0.8"/>
<circle cx="321.03" cy="226.65" r="2.25" fill="#0b4a98" stroke="#06346e" stroke-width="0.8"/>
<circle cx="321.03" cy="196.92" r="2.25" fill="#0b4a98" stroke="#06346e" stroke-width="0.8"/>
<circle cx="332.45" cy="205.58" r="2.25" fill="#0b4a98" stroke="#06346e" stroke-width="0.8"/>
<circle cx="343.87" cy="211.29" r="2.25" fill="#0b4a98" stroke="#06346e" stroke-width="0.8"/>
<circle cx="355.29" cy="214.96" r="2.25" fill="#0b4a98" stroke="#06346e" stroke-width="0.8"/>
<circle cx="366.70" cy="217.08" r="2.25" fill="#0b4a98" stroke="#06346e" stroke-width="0.8"/>
<circle cx="378.12" cy="219.83" r="2.25" fill="#0b4a98" stroke="#06346e" stroke-width="0.8"/>
<circle cx="389.54" cy="226.55" r="2.25" fill="#0b4a98" stroke="#06346e" stroke-width="0.8"/>
<circle cx="389.54" cy="197.59" r="2.25" fill="#0b4a98" stroke="#06346e" stroke-width="0.8"/>
<circle cx="400.96" cy="204.67" r="2.25" fill="#0b4a98" stroke="#06346e" stroke-width="0.8"/>
<circle cx="412.38" cy="212.46" r="2.25" fill="#0b4a98" stroke="#06346e" stroke-width="0.8"/>
<circle cx="423.79" cy="215.35" r="2.25" fill="#0b4a98" stroke="#06346e" stroke-width="0.8"/>
<circle cx="435.21" cy="218.96" r="2.25" fill="#0b4a98" stroke="#06346e" stroke-width="0.8"/>
<circle cx="446.63" cy="220.78" r="2.25" fill="#0b4a98" stroke="#06346e" stroke-width="0.8"/>
<circle cx="458.05" cy="227.41" r="2.25" fill="#0b4a98" stroke="#06346e" stroke-width="0.8"/>
<circle cx="458.05" cy="196.90" r="2.25" fill="#0b4a98" stroke="#06346e" stroke-width="0.8"/>
<circle cx="469.47" cy="202.42" r="2.25" fill="#0b4a98" stroke="#06346e" stroke-width="0.8"/>
<circle cx="480.88" cy="211.27" r="2.25" fill="#0b4a98" stroke="#06346e" stroke-width="0.8"/>
<path d="M104.09,319.98 L115.51,316.69 L126.93,313.41 L138.34,310.12 L149.76,306.84 L161.18,303.55 L172.60,300.26 L172.60,319.98 L184.02,316.69 L195.43,313.41 L206.85,310.12 L218.27,306.84 L229.69,303.55 L241.11,300.26 L241.11,319.98 L252.52,316.69 L263.94,313.41 L275.36,310.12 L286.78,306.84 L298.20,303.55 L309.61,300.26 L309.61,319.98 L321.03,316.69 L332.45,313.41 L343.87,310.12 L355.29,306.84 L366.70,303.55 L378.12,300.26 L378.12,319.98 L389.54,316.69 L400.96,313.41 L412.38,310.12 L423.79,306.84 L435.21,303.55 L446.63,300.26 L446.63,319.98 L458.05,316.69 L469.47,313.41 L480.88,310.12" fill="none" stroke="#fff" stroke-width="3.5" stroke-linejoin="miter"/>
<path d="M104.09,319.98 L115.51,316.69 L126.93,313.41 L138.34,310.12 L149.76,306.84 L161.18,303.55 L172.60,300.26 L172.60,319.98 L184.02,316.69 L195.43,313.41 L206.85,310.12 L218.27,306.84 L229.69,303.55 L241.11,300.26 L241.11,319.98 L252.52,316.69 L263.94,313.41 L275.36,310.12 L286.78,306.84 L298.20,303.55 L309.61,300.26 L309.61,319.98 L321.03,316.69 L332.45,313.41 L343.87,310.12 L355.29,306.84 L366.70,303.55 L378.12,300.26 L378.12,319.98 L389.54,316.69 L400.96,313.41 L412.38,310.12 L423.79,306.84 L435.21,303.55 L446.63,300.26 L446.63,319.98 L458.05,316.69 L469.47,313.41 L480.88,310.12" fill="none" stroke="#fdb494" stroke-width="3.0" stroke-linejoin="miter"/>
<path d="M92.67,319.98 L104.09,316.69 L115.51,313.41 L126.93,310.12 L138.34,306.84 L149.76,303.55 L161.18,300.26 L161.18,319.98 L172.60,316.69 L184.02,313.41 L195.43,310.12 L206.85,306.84 L218.27,303.55 L229.69,300.26 L229.69,319.98 L241.11,316.69 L252.52,313.41 L263.94,310.12 L275.36,306.84 L286.78,303.55 L298.20,300.26 L298.20,319.98 L309.61,316.69 L321.03,313.41 L332.45,310.12 L343.87,306.84 L355.29,303.55 L366.70,300.26 L366.70,319.98 L378.12,316.69 L389.54,313.41 L400.96,310.12 L412.38,306.84 L423.79,303.55 L435.21,300.26 L435.21,319.98 L446.63,316.69 L458.05,313.41 L469.47,310.12 L480.88,306.84" fill="none" stroke="#fff" stroke-width="3.5" stroke-linejoin="miter"/>
<path d="M92.67,319.98 L104.09,316.69 L115.51,313.41 L126.93,310.12 L138.34,306.84 L149.76,303.55 L161.18,300.26 L161.18,319.98 L172.60,316.69 L184.02,313.41 L195.43,310.12 L206.85,306.84 L218.27,303.55 L229.69,300.26 L229.69,319.98 L241.11,316.69 L252.52,313.41 L263.94,310.12 L275.36,306.84 L286.78,303.55 L298.20,300.26 L298.20,319.98 L309.61,316.69 L321.03,313.41 L332.45,310.12 L343.87,306.84 L355.29,303.55 L366.70,300.26 L366.70,319.98 L378.12,316.69 L389.54,313.41 L400.96,310.12 L412.38,306.84 L423.79,303.55 L435.21,300.26 L435.21,319.98 L446.63,316.69 L458.05,313.41 L469.47,310.12 L480.88,306.84" fill="none" stroke="#fb906d" stroke-width="3.0" stroke-linejoin="miter"/>
<path d="M81.25,319.98 L92.67,316.69 L104.09,313.41 L115.51,310.12 L126.93,306.84 L138.34,303.55 L149.76,300.26 L149.76,319.98 L161.18,316.69 L172.60,313.41 L184.02,310.12 L195.43,306.84 L206.85,303.55 L218.27,300.26 L218.27,319.98 L229.69,316.69 L241.11,313.41 L252.52,310.12 L263.94,306.84 L275.36,303.55 L286.78,300.26 L286.78,319.98 L298.20,316.69 L309.61,313.41 L321.03,310.12 L332.45,306.84 L343.87,303.55 L355.29,300.26 L355.29,319.98 L366.70,316.69 L378.12,313.41 L389.54,310.12 L400.96,306.84 L412.38,303.55 L423.79,300.26 L423.79,319.98 L435.21,316.69 L446.63,313.41 L458.05,310.12 L469.47,306.84 L480.88,303.55" fill="none" stroke="#fff" stroke-width="3.5" stroke-linejoin="miter"/>
<path d="M81.25,319.98 L92.67,316.69 L104.09,313.41 L115.51,310.12 L126.93,306.84 L138.34,303.55 L149.76,300.26 L149.76,319.98 L161.18,316.69 L172.60,313.41 L184.02,310.12 L195.43,306.84 L206.85,303.55 L218.27,300.26 L218.27,319.98 L229.69,316.69 L241.11,313.41 L252.52,310.12 L263.94,306.84 L275.36,303.55 L286.78,300.26 L286.78,319.98 L298.20,316.69 L309.61,313.41 L321.03,310.12 L332.45,306.84 L343.87,303.55 L355.29,300.26 L355.29,319.98 L366.70,316.69 L378.12,313.41 L389.54,310.12 L400.96,306.84 L412.38,303.55 L423.79,300.26 L423.79,319.98 L435.21,316.69 L446.63,313.41 L458.05,310.12 L469.47,306.84 L480.88,303.55" fill="none" stroke="#f86a4b" stroke-width="3.0" stroke-linejoin="miter"/>
<path d="M69.84,319.98 L81.25,316.69 L92.67,313.41 L104.09,310.12 L115.51,306.84 L126.93,303.55 L138.34,300.26 L138.34,319.98 L149.76,316.69 L161.18,313.41 L172.60,310.12 L184.02,306.84 L195.43,303.55 L206.85,300.26 L206.85,319.98 L218.27,316.69 L229.69,313.41 L241.11,310.12 L252.52,306.84 L263.94,303.55 L275.36,300.26 L275.36,319.98 L286.78,316.69 L298.20,313.41 L309.61,310.12 L321.03,306.84 L332.45,303.55 L343.87,300.26 L343.87,319.98 L355.29,316.69 L366.70,313.41 L378.12,310.12 L389.54,306.84 L400.96,303.55 L412.38,300.26 L412.38,319.98 L423.79,316.69 L435.21,313.41 L446.63,310.12 L458.05,306.84 L469.47,303.55 L480.88,300.26" fill="none" stroke="#fff" stroke-width="3.5" stroke-linejoin="miter"/>
<path d="M69.84,319.98 L81.25,316.69 L92.67,313.41 L104.09,310.12 L115.51,306.84 L126.93,303.55 L138.34,300.26 L138.34,319.98 L149.76,316.69 L161.18,313.41 L172.60,310.12 L184.02,306.84 L195.43,303.55 L206.85,300.26 L206.85,319.98 L218.27,316.69 L229.69,313.41 L241.11,310.12 L252.52,306.84 L263.94,303.55 L275.36,300.26 L275.36,319.98 L286.78,316.69 L298.20,313.41 L309.61,310.12 L321.03,306.84 L332.45,303.55 L343.87,300.26 L343.87,319.98 L355.29,316.69 L366.70,313.41 L378.12,310.12 L389.54,306.84 L400.96,303.55 L412.38,300.26 L412.38,319.98 L423.79,316.69 L435.21,313.41 L446.63,310.12 L458.05,306.84 L469.47,303.55 L480.88,300.26" fill="none" stroke="#f2402f" stroke-width="3.0" stroke-linejoin="miter"/>
<path d="M58.42,319.98 L69.84,316.69 L81.25,313.41 L92.67,310.12 L104.09,306.84 L115.51,303.55 L126.93,300.26 L126.93,319.98 L138.34,316.69 L149.76,313.41 L161.18,310.12 L172.60,306.84 L184.02,303.55 L195.43,300.26 L195.43,319.98 L206.85,316.69 L218.27,313.41 L229.69,310.12 L241.11,306.84 L252.52,303.55 L263.94,300.26 L263.94,319.98 L275.36,316.69 L286.78,313.41 L298.20,310.12 L309.61,306.84 L321.03,303.55 L332.45,300.26 L332.45,319.98 L343.87,316.69 L355.29,313.41 L366.70,310.12 L378.12,306.84 L389.54,303.55 L400.96,300.26 L400.96,319.98 L412.38,316.69 L423.79,313.41 L435.21,310.12 L446.63,306.84 L458.05,303.55 L469.47,300.26 L469.47,319.98 L480.88,316.69" fill="none" stroke="#fff" stroke-width="3.5" stroke-linejoin="miter"/>
<path d="M58.42,319.98 L69.84,316.69 L81.25,313.41 L92.67,310.12 L104.09,306.84 L115.51,303.55 L126.93,300.26 L126.93,319.98 L138.34,316.69 L149.76,313.41 L161.18,310.12 L172.60,306.84 L184.02,303.55 L195.43,300.26 L195.43,319.98 L206.85,316.69 L218.27,313.41 L229.69,310.12 L241.11,306.84 L252.52,303.55 L263.94,300.26 L263.94,319.98 L275.36,316.69 L286.78,313.41 L298.20,310.12 L309.61,306.84 L321.03,303.55 L332.45,300.26 L332.45,319.98 L343.87,316.69 L355.29,313.41 L366.70,310.12 L378.12,306.84 L389.54,303.55 L400.96,300.26 L400.96,319.98 L412.38,316.69 L423.79,313.41 L435.21,310.12 L446.63,306.84 L458.05,303.55 L469.47,300.26 L469.47,319.98 L480.88,316.69" fill="none" stroke="#e8191f" stroke-width="3.0" stroke-linejoin="miter"/>
<path d="M47.00,319.98 L58.42,316.69 L69.84,313.41 L81.25,310.12 L92.67,306.84 L104.09,303.55 L115.51,300.26 L115.51,319.98 L126.93,316.69 L138.34,313.41 L149.76,310.12 L161.18,306.84 L172.60,303.55 L184.02,300.26 L184.02,319.98 L195.43,316.69 L206.85,313.41 L218.27,310.12 L229.69,306.84 L241.11,303.55 L252.52,300.26 L252.52,319.98 L263.94,316.69 L275.36,313.41 L286.78,310.12 L298.20,306.84 L309.61,303.55 L321.03,300.26 L321.03,319.98 L332.45,316.69 L343.87,313.41 L355.29,310.12 L366.70,306.84 L378.12,303.55 L389.54,300.26 L389.54,319.98 L400.96,316.69 L412.38,313.41 L423.79,310.12 L435.21,306.84 L446.63,303.55 L458.05,300.26 L458.05,319.98 L469.47,316.69 L480.88,313.41" fill="none" stroke="#fff" stroke-width="3.5" stroke-linejoin="miter"/>
<path d="M47.00,319.98 L58.42,316.69 L69.84,313.41 L81.25,310.12 L92.67,306.84 L104.09,303.55 L115.51,300.26 L115.51,319.98 L126.93,316.69 L138.34,313.41 L149.76,310.12 L161.18,306.84 L172.60,303.55 L184.02,300.26 L184.02,319.98 L195.43,316.69 L206.85,313.41 L218.27,310.12 L229.69,306.84 L241.11,303.55 L252.52,300.26 L252.52,319.98 L263.94,316.69 L275.36,313.41 L286.78,310.12 L298.20,306.84 L309.61,303.55 L321.03,300.26 L321.03,319.98 L332.45,316.69 L343.87,313.41 L355.29,310.12 L366.70,306.84 L378.12,303.55 L389.54,300.26 L389.54,319.98 L400.96,316.69 L412.38,313.41 L423.79,310.12 L435.21,306.84 L446.63,303.55 L458.05,300.26 L458.05,319.98 L469.47,316.69 L480.88,313.41" fill="none" stroke="#d6000e" stroke-width="3.0" stroke-linejoin="miter"/>
<circle cx="104.09" cy="319.43" r="2.0" fill="#fdb494" stroke="#ee7050" stroke-width="0.8"/>
<circle cx="115.51" cy="316.32" r="2.0" fill="#fdb494" stroke="#ee7050" stroke-width="0.8"/>
<circle cx="126.93" cy="313.53" r="2.0" fill="#fdb494" stroke="#ee7050" stroke-width="0.8"/>
<circle cx="138.34" cy="309.54" r="2.0" fill="#fdb494" stroke="#ee7050" stroke-width="0.8"/>
<circle cx="149.76" cy="306.98" r="2.0" fill="#fdb494" stroke="#ee7050" stroke-width="0.8"/>
<circle cx="161.18" cy="301.91" r="2.0" fill="#fdb494" stroke="#ee7050" stroke-width="0.8"/>
<circle cx="172.60" cy="300.70" r="2.0" fill="#fdb494" stroke="#ee7050" stroke-width="0.8"/>
<circle cx="172.60" cy="319.99" r="2.0" fill="#fdb494" stroke="#ee7050" stroke-width="0.8"/>
<circle cx="184.02" cy="317.11" r="2.0" fill="#fdb494" stroke="#ee7050" stroke-width="0.8"/>
<circle cx="195.43" cy="312.75" r="2.0" fill="#fdb494" stroke="#ee7050" stroke-width="0.8"/>
<circle cx="206.85" cy="309.70" r="2.0" fill="#fdb494" stroke="#ee7050" stroke-width="0.8"/>
<circle cx="218.27" cy="306.67" r="2.0" fill="#fdb494" stroke="#ee7050" stroke-width="0.8"/>
<circle cx="229.69" cy="302.99" r="2.0" fill="#fdb494" stroke="#ee7050" stroke-width="0.8"/>
<circle cx="241.11" cy="300.68" r="2.0" fill="#fdb494" stroke="#ee7050" stroke-width="0.8"/>
<circle cx="241.11" cy="319.68" r="2.0" fill="#fdb494" stroke="#ee7050" stroke-width="0.8"/>
<circle cx="252.52" cy="316.22" r="2.0" fill="#fdb494" stroke="#ee7050" stroke-width="0.8"/>
<circle cx="263.94" cy="311.59" r="2.0" fill="#fdb494" stroke="#ee7050" stroke-width="0.8"/>
<circle cx="275.36" cy="308.95" r="2.0" fill="#fdb494" stroke="#ee7050" stroke-width="0.8"/>
<circle cx="286.78" cy="305.58" r="2.0" fill="#fdb494" stroke="#ee7050" stroke-width="0.8"/>
<circle cx="298.20" cy="302.76" r="2.0" fill="#fdb494" stroke="#ee7050" stroke-width="0.8"/>
<circle cx="309.61" cy="301.18" r="2.0" fill="#fdb494" stroke="#ee7050" stroke-width="0.8"/>
<circle cx="309.61" cy="319.42" r="2.0" fill="#fdb494" stroke="#ee7050" stroke-width="0.8"/>
<circle cx="321.03" cy="316.84" r="2.0" fill="#fdb494" stroke="#ee7050" stroke-width="0.8"/>
<circle cx="332.45" cy="314.02" r="2.0" fill="#fdb494" stroke="#ee7050" stroke-width="0.8"/>
<circle cx="343.87" cy="307.81" r="2.0" fill="#fdb494" stroke="#ee7050" stroke-width="0.8"/>
<circle cx="355.29" cy="305.23" r="2.0" fill="#fdb494" stroke="#ee7050" stroke-width="0.8"/>
<circle cx="366.70" cy="303.45" r="2.0" fill="#fdb494" stroke="#ee7050" stroke-width="0.8"/>
<circle cx="378.12" cy="299.64" r="2.0" fill="#fdb494" stroke="#ee7050" stroke-width="0.8"/>
<circle cx="378.12" cy="319.50" r="2.0" fill="#fdb494" stroke="#ee7050" stroke-width="0.8"/>
<circle cx="389.54" cy="315.73" r="2.0" fill="#fdb494" stroke="#ee7050" stroke-width="0.8"/>
<circle cx="400.96" cy="313.66" r="2.0" fill="#fdb494" stroke="#ee7050" stroke-width="0.8"/>
<circle cx="412.38" cy="308.75" r="2.0" fill="#fdb494" stroke="#ee7050" stroke-width="0.8"/>
<circle cx="423.79" cy="306.72" r="2.0" fill="#fdb494" stroke="#ee7050" stroke-width="0.8"/>
<circle cx="435.21" cy="303.49" r="2.0" fill="#fdb494" stroke="#ee7050" stroke-width="0.8"/>
<circle cx="446.63" cy="300.97" r="2.0" fill="#fdb494" stroke="#ee7050" stroke-width="0.8"/>
<circle cx="446.63" cy="320.14" r="2.0" fill="#fdb494" stroke="#ee7050" stroke-width="0.8"/>
<circle cx="458.05" cy="315.92" r="2.0" fill="#fdb494" stroke="#ee7050" stroke-width="0.8"/>
<circle cx="469.47" cy="313.32" r="2.0" fill="#fdb494" stroke="#ee7050" stroke-width="0.8"/>
<circle cx="480.88" cy="308.36" r="2.0" fill="#fdb494" stroke="#ee7050" stroke-width="0.8"/>
<circle cx="92.67" cy="320.19" r="2.0" fill="#fb906d" stroke="#e8553c" stroke-width="0.8"/>
<circle cx="104.09" cy="316.36" r="2.0" fill="#fb906d" stroke="#e8553c" stroke-width="0.8"/>
<circle cx="115.51" cy="311.78" r="2.0" fill="#fb906d" stroke="#e8553c" stroke-width="0.8"/>
<circle cx="126.93" cy="309.53" r="2.0" fill="#fb906d" stroke="#e8553c" stroke-width="0.8"/>
<circle cx="138.34" cy="304.66" r="2.0" fill="#fb906d" stroke="#e8553c" stroke-width="0.8"/>
<circle cx="149.76" cy="302.75" r="2.0" fill="#fb906d" stroke="#e8553c" stroke-width="0.8"/>
<circle cx="161.18" cy="300.22" r="2.0" fill="#fb906d" stroke="#e8553c" stroke-width="0.8"/>
<circle cx="161.18" cy="320.06" r="2.0" fill="#fb906d" stroke="#e8553c" stroke-width="0.8"/>
<circle cx="172.60" cy="315.15" r="2.0" fill="#fb906d" stroke="#e8553c" stroke-width="0.8"/>
<circle cx="184.02" cy="312.59" r="2.0" fill="#fb906d" stroke="#e8553c" stroke-width="0.8"/>
<circle cx="195.43" cy="310.22" r="2.0" fill="#fb906d" stroke="#e8553c" stroke-width="0.8"/>
<circle cx="206.85" cy="305.08" r="2.0" fill="#fb906d" stroke="#e8553c" stroke-width="0.8"/>
<circle cx="218.27" cy="303.32" r="2.0" fill="#fb906d" stroke="#e8553c" stroke-width="0.8"/>
<circle cx="229.69" cy="299.53" r="2.0" fill="#fb906d" stroke="#e8553c" stroke-width="0.8"/>
<circle cx="229.69" cy="319.78" r="2.0" fill="#fb906d" stroke="#e8553c" stroke-width="0.8"/>
<circle cx="241.11" cy="316.90" r="2.0" fill="#fb906d" stroke="#e8553c" stroke-width="0.8"/>
<circle cx="252.52" cy="312.47" r="2.0" fill="#fb906d" stroke="#e8553c" stroke-width="0.8"/>
<circle cx="263.94" cy="309.34" r="2.0" fill="#fb906d" stroke="#e8553c" stroke-width="0.8"/>
<circle cx="275.36" cy="306.53" r="2.0" fill="#fb906d" stroke="#e8553c" stroke-width="0.8"/>
<circle cx="286.78" cy="302.94" r="2.0" fill="#fb906d" stroke="#e8553c" stroke-width="0.8"/>
<circle cx="298.20" cy="299.74" r="2.0" fill="#fb906d" stroke="#e8553c" stroke-width="0.8"/>
<circle cx="298.20" cy="319.82" r="2.0" fill="#fb906d" stroke="#e8553c" stroke-width="0.8"/>
<circle cx="309.61" cy="316.42" r="2.0" fill="#fb906d" stroke="#e8553c" stroke-width="0.8"/>
<circle cx="321.03" cy="313.11" r="2.0" fill="#fb906d" stroke="#e8553c" stroke-width="0.8"/>
<circle cx="332.45" cy="308.40" r="2.0" fill="#fb906d" stroke="#e8553c" stroke-width="0.8"/>
<circle cx="343.87" cy="305.57" r="2.0" fill="#fb906d" stroke="#e8553c" stroke-width="0.8"/>
<circle cx="355.29" cy="302.11" r="2.0" fill="#fb906d" stroke="#e8553c" stroke-width="0.8"/>
<circle cx="366.70" cy="300.15" r="2.0" fill="#fb906d" stroke="#e8553c" stroke-width="0.8"/>
<circle cx="366.70" cy="319.09" r="2.0" fill="#fb906d" stroke="#e8553c" stroke-width="0.8"/>
<circle cx="378.12" cy="317.73" r="2.0" fill="#fb906d" stroke="#e8553c" stroke-width="0.8"/>
<circle cx="389.54" cy="312.67" r="2.0" fill="#fb906d" stroke="#e8553c" stroke-width="0.8"/>
<circle cx="400.96" cy="308.44" r="2.0" fill="#fb906d" stroke="#e8553c" stroke-width="0.8"/>
<circle cx="412.38" cy="305.02" r="2.0" fill="#fb906d" stroke="#e8553c" stroke-width="0.8"/>
<circle cx="423.79" cy="304.30" r="2.0" fill="#fb906d" stroke="#e8553c" stroke-width="0.8"/>
<circle cx="435.21" cy="301.55" r="2.0" fill="#fb906d" stroke="#e8553c" stroke-width="0.8"/>
<circle cx="435.21" cy="319.86" r="2.0" fill="#fb906d" stroke="#e8553c" stroke-width="0.8"/>
<circle cx="446.63" cy="315.42" r="2.0" fill="#fb906d" stroke="#e8553c" stroke-width="0.8"/>
<circle cx="458.05" cy="311.66" r="2.0" fill="#fb906d" stroke="#e8553c" stroke-width="0.8"/>
<circle cx="469.47" cy="310.24" r="2.0" fill="#fb906d" stroke="#e8553c" stroke-width="0.8"/>
<circle cx="480.88" cy="305.69" r="2.0" fill="#fb906d" stroke="#e8553c" stroke-width="0.8"/>
<circle cx="81.25" cy="320.07" r="2.0" fill="#f86a4b" stroke="#e23a30" stroke-width="0.8"/>
<circle cx="92.67" cy="317.60" r="2.0" fill="#f86a4b" stroke="#e23a30" stroke-width="0.8"/>
<circle cx="104.09" cy="311.44" r="2.0" fill="#f86a4b" stroke="#e23a30" stroke-width="0.8"/>
<circle cx="115.51" cy="307.61" r="2.0" fill="#f86a4b" stroke="#e23a30" stroke-width="0.8"/>
<circle cx="126.93" cy="306.41" r="2.0" fill="#f86a4b" stroke="#e23a30" stroke-width="0.8"/>
<circle cx="138.34" cy="302.68" r="2.0" fill="#f86a4b" stroke="#e23a30" stroke-width="0.8"/>
<circle cx="149.76" cy="302.73" r="2.0" fill="#f86a4b" stroke="#e23a30" stroke-width="0.8"/>
<circle cx="149.76" cy="319.47" r="2.0" fill="#f86a4b" stroke="#e23a30" stroke-width="0.8"/>
<circle cx="161.18" cy="317.51" r="2.0" fill="#f86a4b" stroke="#e23a30" stroke-width="0.8"/>
<circle cx="172.60" cy="313.11" r="2.0" fill="#f86a4b" stroke="#e23a30" stroke-width="0.8"/>
<circle cx="184.02" cy="307.00" r="2.0" fill="#f86a4b" stroke="#e23a30" stroke-width="0.8"/>
<circle cx="195.43" cy="306.91" r="2.0" fill="#f86a4b" stroke="#e23a30" stroke-width="0.8"/>
<circle cx="206.85" cy="302.93" r="2.0" fill="#f86a4b" stroke="#e23a30" stroke-width="0.8"/>
<circle cx="218.27" cy="301.41" r="2.0" fill="#f86a4b" stroke="#e23a30" stroke-width="0.8"/>
<circle cx="218.27" cy="320.49" r="2.0" fill="#f86a4b" stroke="#e23a30" stroke-width="0.8"/>
<circle cx="229.69" cy="317.37" r="2.0" fill="#f86a4b" stroke="#e23a30" stroke-width="0.8"/>
<circle cx="241.11" cy="312.38" r="2.0" fill="#f86a4b" stroke="#e23a30" stroke-width="0.8"/>
<circle cx="252.52" cy="310.05" r="2.0" fill="#f86a4b" stroke="#e23a30" stroke-width="0.8"/>
<circle cx="263.94" cy="306.32" r="2.0" fill="#f86a4b" stroke="#e23a30" stroke-width="0.8"/>
<circle cx="275.36" cy="302.31" r="2.0" fill="#f86a4b" stroke="#e23a30" stroke-width="0.8"/>
<circle cx="286.78" cy="300.61" r="2.0" fill="#f86a4b" stroke="#e23a30" stroke-width="0.8"/>
<circle cx="286.78" cy="320.30" r="2.0" fill="#f86a4b" stroke="#e23a30" stroke-width="0.8"/>
<circle cx="298.20" cy="315.03" r="2.0" fill="#f86a4b" stroke="#e23a30" stroke-width="0.8"/>
<circle cx="309.61" cy="312.52" r="2.0" fill="#f86a4b" stroke="#e23a30" stroke-width="0.8"/>
<circle cx="321.03" cy="307.67" r="2.0" fill="#f86a4b" stroke="#e23a30" stroke-width="0.8"/>
<circle cx="332.45" cy="306.73" r="2.0" fill="#f86a4b" stroke="#e23a30" stroke-width="0.8"/>
<circle cx="343.87" cy="301.47" r="2.0" fill="#f86a4b" stroke="#e23a30" stroke-width="0.8"/>
<circle cx="355.29" cy="301.66" r="2.0" fill="#f86a4b" stroke="#e23a30" stroke-width="0.8"/>
<circle cx="355.29" cy="320.45" r="2.0" fill="#f86a4b" stroke="#e23a30" stroke-width="0.8"/>
<circle cx="366.70" cy="316.72" r="2.0" fill="#f86a4b" stroke="#e23a30" stroke-width="0.8"/>
<circle cx="378.12" cy="312.95" r="2.0" fill="#f86a4b" stroke="#e23a30" stroke-width="0.8"/>
<circle cx="389.54" cy="308.67" r="2.0" fill="#f86a4b" stroke="#e23a30" stroke-width="0.8"/>
<circle cx="400.96" cy="306.30" r="2.0" fill="#f86a4b" stroke="#e23a30" stroke-width="0.8"/>
<circle cx="412.38" cy="302.39" r="2.0" fill="#f86a4b" stroke="#e23a30" stroke-width="0.8"/>
<circle cx="423.79" cy="299.30" r="2.0" fill="#f86a4b" stroke="#e23a30" stroke-width="0.8"/>
<circle cx="423.79" cy="320.07" r="2.0" fill="#f86a4b" stroke="#e23a30" stroke-width="0.8"/>
<circle cx="435.21" cy="317.55" r="2.0" fill="#f86a4b" stroke="#e23a30" stroke-width="0.8"/>
<circle cx="446.63" cy="312.98" r="2.0" fill="#f86a4b" stroke="#e23a30" stroke-width="0.8"/>
<circle cx="458.05" cy="308.18" r="2.0" fill="#f86a4b" stroke="#e23a30" stroke-width="0.8"/>
<circle cx="469.47" cy="305.09" r="2.0" fill="#f86a4b" stroke="#e23a30" stroke-width="0.8"/>
<circle cx="480.88" cy="303.26" r="2.0" fill="#f86a4b" stroke="#e23a30" stroke-width="0.8"/>
<circle cx="69.84" cy="320.72" r="2.0" fill="#f2402f" stroke="#d8242a" stroke-width="0.8"/>
<circle cx="81.25" cy="316.13" r="2.0" fill="#f2402f" stroke="#d8242a" stroke-width="0.8"/>
<circle cx="92.67" cy="311.69" r="2.0" fill="#f2402f" stroke="#d8242a" stroke-width="0.8"/>
<circle cx="104.09" cy="307.23" r="2.0" fill="#f2402f" stroke="#d8242a" stroke-width="0.8"/>
<circle cx="115.51" cy="306.21" r="2.0" fill="#f2402f" stroke="#d8242a" stroke-width="0.8"/>
<circle cx="126.93" cy="302.57" r="2.0" fill="#f2402f" stroke="#d8242a" stroke-width="0.8"/>
<circle cx="138.34" cy="300.53" r="2.0" fill="#f2402f" stroke="#d8242a" stroke-width="0.8"/>
<circle cx="138.34" cy="320.62" r="2.0" fill="#f2402f" stroke="#d8242a" stroke-width="0.8"/>
<circle cx="149.76" cy="315.70" r="2.0" fill="#f2402f" stroke="#d8242a" stroke-width="0.8"/>
<circle cx="161.18" cy="312.64" r="2.0" fill="#f2402f" stroke="#d8242a" stroke-width="0.8"/>
<circle cx="172.60" cy="308.84" r="2.0" fill="#f2402f" stroke="#d8242a" stroke-width="0.8"/>
<circle cx="184.02" cy="306.63" r="2.0" fill="#f2402f" stroke="#d8242a" stroke-width="0.8"/>
<circle cx="195.43" cy="302.99" r="2.0" fill="#f2402f" stroke="#d8242a" stroke-width="0.8"/>
<circle cx="206.85" cy="300.40" r="2.0" fill="#f2402f" stroke="#d8242a" stroke-width="0.8"/>
<circle cx="206.85" cy="319.39" r="2.0" fill="#f2402f" stroke="#d8242a" stroke-width="0.8"/>
<circle cx="218.27" cy="316.08" r="2.0" fill="#f2402f" stroke="#d8242a" stroke-width="0.8"/>
<circle cx="229.69" cy="309.55" r="2.0" fill="#f2402f" stroke="#d8242a" stroke-width="0.8"/>
<circle cx="241.11" cy="309.26" r="2.0" fill="#f2402f" stroke="#d8242a" stroke-width="0.8"/>
<circle cx="252.52" cy="306.03" r="2.0" fill="#f2402f" stroke="#d8242a" stroke-width="0.8"/>
<circle cx="263.94" cy="303.00" r="2.0" fill="#f2402f" stroke="#d8242a" stroke-width="0.8"/>
<circle cx="275.36" cy="301.18" r="2.0" fill="#f2402f" stroke="#d8242a" stroke-width="0.8"/>
<circle cx="275.36" cy="319.31" r="2.0" fill="#f2402f" stroke="#d8242a" stroke-width="0.8"/>
<circle cx="286.78" cy="315.77" r="2.0" fill="#f2402f" stroke="#d8242a" stroke-width="0.8"/>
<circle cx="298.20" cy="313.74" r="2.0" fill="#f2402f" stroke="#d8242a" stroke-width="0.8"/>
<circle cx="309.61" cy="308.81" r="2.0" fill="#f2402f" stroke="#d8242a" stroke-width="0.8"/>
<circle cx="321.03" cy="304.79" r="2.0" fill="#f2402f" stroke="#d8242a" stroke-width="0.8"/>
<circle cx="332.45" cy="304.20" r="2.0" fill="#f2402f" stroke="#d8242a" stroke-width="0.8"/>
<circle cx="343.87" cy="300.34" r="2.0" fill="#f2402f" stroke="#d8242a" stroke-width="0.8"/>
<circle cx="343.87" cy="319.92" r="2.0" fill="#f2402f" stroke="#d8242a" stroke-width="0.8"/>
<circle cx="355.29" cy="314.29" r="2.0" fill="#f2402f" stroke="#d8242a" stroke-width="0.8"/>
<circle cx="366.70" cy="312.26" r="2.0" fill="#f2402f" stroke="#d8242a" stroke-width="0.8"/>
<circle cx="378.12" cy="309.26" r="2.0" fill="#f2402f" stroke="#d8242a" stroke-width="0.8"/>
<circle cx="389.54" cy="306.30" r="2.0" fill="#f2402f" stroke="#d8242a" stroke-width="0.8"/>
<circle cx="400.96" cy="301.29" r="2.0" fill="#f2402f" stroke="#d8242a" stroke-width="0.8"/>
<circle cx="412.38" cy="300.88" r="2.0" fill="#f2402f" stroke="#d8242a" stroke-width="0.8"/>
<circle cx="412.38" cy="319.04" r="2.0" fill="#f2402f" stroke="#d8242a" stroke-width="0.8"/>
<circle cx="423.79" cy="317.72" r="2.0" fill="#f2402f" stroke="#d8242a" stroke-width="0.8"/>
<circle cx="435.21" cy="312.79" r="2.0" fill="#f2402f" stroke="#d8242a" stroke-width="0.8"/>
<circle cx="446.63" cy="309.11" r="2.0" fill="#f2402f" stroke="#d8242a" stroke-width="0.8"/>
<circle cx="458.05" cy="306.42" r="2.0" fill="#f2402f" stroke="#d8242a" stroke-width="0.8"/>
<circle cx="469.47" cy="303.14" r="2.0" fill="#f2402f" stroke="#d8242a" stroke-width="0.8"/>
<circle cx="480.88" cy="299.86" r="2.0" fill="#f2402f" stroke="#d8242a" stroke-width="0.8"/>
<circle cx="58.42" cy="319.55" r="2.0" fill="#e8191f" stroke="#c8121a" stroke-width="0.8"/>
<circle cx="69.84" cy="314.98" r="2.0" fill="#e8191f" stroke="#c8121a" stroke-width="0.8"/>
<circle cx="81.25" cy="313.40" r="2.0" fill="#e8191f" stroke="#c8121a" stroke-width="0.8"/>
<circle cx="92.67" cy="308.41" r="2.0" fill="#e8191f" stroke="#c8121a" stroke-width="0.8"/>
<circle cx="104.09" cy="306.66" r="2.0" fill="#e8191f" stroke="#c8121a" stroke-width="0.8"/>
<circle cx="115.51" cy="303.55" r="2.0" fill="#e8191f" stroke="#c8121a" stroke-width="0.8"/>
<circle cx="126.93" cy="300.67" r="2.0" fill="#e8191f" stroke="#c8121a" stroke-width="0.8"/>
<circle cx="126.93" cy="319.80" r="2.0" fill="#e8191f" stroke="#c8121a" stroke-width="0.8"/>
<circle cx="138.34" cy="316.72" r="2.0" fill="#e8191f" stroke="#c8121a" stroke-width="0.8"/>
<circle cx="149.76" cy="314.91" r="2.0" fill="#e8191f" stroke="#c8121a" stroke-width="0.8"/>
<circle cx="161.18" cy="307.68" r="2.0" fill="#e8191f" stroke="#c8121a" stroke-width="0.8"/>
<circle cx="172.60" cy="306.03" r="2.0" fill="#e8191f" stroke="#c8121a" stroke-width="0.8"/>
<circle cx="184.02" cy="303.50" r="2.0" fill="#e8191f" stroke="#c8121a" stroke-width="0.8"/>
<circle cx="195.43" cy="299.86" r="2.0" fill="#e8191f" stroke="#c8121a" stroke-width="0.8"/>
<circle cx="195.43" cy="320.05" r="2.0" fill="#e8191f" stroke="#c8121a" stroke-width="0.8"/>
<circle cx="206.85" cy="317.59" r="2.0" fill="#e8191f" stroke="#c8121a" stroke-width="0.8"/>
<circle cx="218.27" cy="312.18" r="2.0" fill="#e8191f" stroke="#c8121a" stroke-width="0.8"/>
<circle cx="229.69" cy="308.53" r="2.0" fill="#e8191f" stroke="#c8121a" stroke-width="0.8"/>
<circle cx="241.11" cy="306.52" r="2.0" fill="#e8191f" stroke="#c8121a" stroke-width="0.8"/>
<circle cx="252.52" cy="302.21" r="2.0" fill="#e8191f" stroke="#c8121a" stroke-width="0.8"/>
<circle cx="263.94" cy="300.14" r="2.0" fill="#e8191f" stroke="#c8121a" stroke-width="0.8"/>
<circle cx="263.94" cy="320.24" r="2.0" fill="#e8191f" stroke="#c8121a" stroke-width="0.8"/>
<circle cx="275.36" cy="314.79" r="2.0" fill="#e8191f" stroke="#c8121a" stroke-width="0.8"/>
<circle cx="286.78" cy="312.38" r="2.0" fill="#e8191f" stroke="#c8121a" stroke-width="0.8"/>
<circle cx="298.20" cy="309.89" r="2.0" fill="#e8191f" stroke="#c8121a" stroke-width="0.8"/>
<circle cx="309.61" cy="305.40" r="2.0" fill="#e8191f" stroke="#c8121a" stroke-width="0.8"/>
<circle cx="321.03" cy="302.83" r="2.0" fill="#e8191f" stroke="#c8121a" stroke-width="0.8"/>
<circle cx="332.45" cy="299.61" r="2.0" fill="#e8191f" stroke="#c8121a" stroke-width="0.8"/>
<circle cx="332.45" cy="320.31" r="2.0" fill="#e8191f" stroke="#c8121a" stroke-width="0.8"/>
<circle cx="343.87" cy="315.42" r="2.0" fill="#e8191f" stroke="#c8121a" stroke-width="0.8"/>
<circle cx="355.29" cy="311.79" r="2.0" fill="#e8191f" stroke="#c8121a" stroke-width="0.8"/>
<circle cx="366.70" cy="308.28" r="2.0" fill="#e8191f" stroke="#c8121a" stroke-width="0.8"/>
<circle cx="378.12" cy="305.26" r="2.0" fill="#e8191f" stroke="#c8121a" stroke-width="0.8"/>
<circle cx="389.54" cy="301.79" r="2.0" fill="#e8191f" stroke="#c8121a" stroke-width="0.8"/>
<circle cx="400.96" cy="299.83" r="2.0" fill="#e8191f" stroke="#c8121a" stroke-width="0.8"/>
<circle cx="400.96" cy="319.79" r="2.0" fill="#e8191f" stroke="#c8121a" stroke-width="0.8"/>
<circle cx="412.38" cy="317.07" r="2.0" fill="#e8191f" stroke="#c8121a" stroke-width="0.8"/>
<circle cx="423.79" cy="311.64" r="2.0" fill="#e8191f" stroke="#c8121a" stroke-width="0.8"/>
<circle cx="435.21" cy="308.03" r="2.0" fill="#e8191f" stroke="#c8121a" stroke-width="0.8"/>
<circle cx="446.63" cy="305.53" r="2.0" fill="#e8191f" stroke="#c8121a" stroke-width="0.8"/>
<circle cx="458.05" cy="302.81" r="2.0" fill="#e8191f" stroke="#c8121a" stroke-width="0.8"/>
<circle cx="469.47" cy="299.83" r="2.0" fill="#e8191f" stroke="#c8121a" stroke-width="0.8"/>
<circle cx="469.47" cy="320.72" r="2.0" fill="#e8191f" stroke="#c8121a" stroke-width="0.8"/>
<circle cx="480.88" cy="316.06" r="2.0" fill="#e8191f" stroke="#c8121a" stroke-width="0.8"/>
<circle cx="47.00" cy="319.61" r="2.0" fill="#d6000e" stroke="#b00010" stroke-width="0.8"/>
<circle cx="58.42" cy="316.88" r="2.0" fill="#d6000e" stroke="#b00010" stroke-width="0.8"/>
<circle cx="69.84" cy="313.16" r="2.0" fill="#d6000e" stroke="#b00010" stroke-width="0.8"/>
<circle cx="81.25" cy="308.20" r="2.0" fill="#d6000e" stroke="#b00010" stroke-width="0.8"/>
<circle cx="92.67" cy="305.35" r="2.0" fill="#d6000e" stroke="#b00010" stroke-width="0.8"/>
<circle cx="104.09" cy="302.25" r="2.0" fill="#d6000e" stroke="#b00010" stroke-width="0.8"/>
<circle cx="115.51" cy="299.52" r="2.0" fill="#d6000e" stroke="#b00010" stroke-width="0.8"/>
<circle cx="115.51" cy="320.36" r="2.0" fill="#d6000e" stroke="#b00010" stroke-width="0.8"/>
<circle cx="126.93" cy="316.18" r="2.0" fill="#d6000e" stroke="#b00010" stroke-width="0.8"/>
<circle cx="138.34" cy="312.91" r="2.0" fill="#d6000e" stroke="#b00010" stroke-width="0.8"/>
<circle cx="149.76" cy="309.36" r="2.0" fill="#d6000e" stroke="#b00010" stroke-width="0.8"/>
<circle cx="161.18" cy="305.00" r="2.0" fill="#d6000e" stroke="#b00010" stroke-width="0.8"/>
<circle cx="172.60" cy="302.93" r="2.0" fill="#d6000e" stroke="#b00010" stroke-width="0.8"/>
<circle cx="184.02" cy="300.75" r="2.0" fill="#d6000e" stroke="#b00010" stroke-width="0.8"/>
<circle cx="184.02" cy="319.23" r="2.0" fill="#d6000e" stroke="#b00010" stroke-width="0.8"/>
<circle cx="195.43" cy="316.81" r="2.0" fill="#d6000e" stroke="#b00010" stroke-width="0.8"/>
<circle cx="206.85" cy="313.76" r="2.0" fill="#d6000e" stroke="#b00010" stroke-width="0.8"/>
<circle cx="218.27" cy="310.14" r="2.0" fill="#d6000e" stroke="#b00010" stroke-width="0.8"/>
<circle cx="229.69" cy="306.30" r="2.0" fill="#d6000e" stroke="#b00010" stroke-width="0.8"/>
<circle cx="241.11" cy="302.42" r="2.0" fill="#d6000e" stroke="#b00010" stroke-width="0.8"/>
<circle cx="252.52" cy="299.77" r="2.0" fill="#d6000e" stroke="#b00010" stroke-width="0.8"/>
<circle cx="252.52" cy="319.46" r="2.0" fill="#d6000e" stroke="#b00010" stroke-width="0.8"/>
<circle cx="263.94" cy="314.78" r="2.0" fill="#d6000e" stroke="#b00010" stroke-width="0.8"/>
<circle cx="275.36" cy="311.17" r="2.0" fill="#d6000e" stroke="#b00010" stroke-width="0.8"/>
<circle cx="286.78" cy="308.36" r="2.0" fill="#d6000e" stroke="#b00010" stroke-width="0.8"/>
<circle cx="298.20" cy="304.66" r="2.0" fill="#d6000e" stroke="#b00010" stroke-width="0.8"/>
<circle cx="309.61" cy="302.39" r="2.0" fill="#d6000e" stroke="#b00010" stroke-width="0.8"/>
<circle cx="321.03" cy="300.97" r="2.0" fill="#d6000e" stroke="#b00010" stroke-width="0.8"/>
<circle cx="321.03" cy="319.55" r="2.0" fill="#d6000e" stroke="#b00010" stroke-width="0.8"/>
<circle cx="332.45" cy="316.29" r="2.0" fill="#d6000e" stroke="#b00010" stroke-width="0.8"/>
<circle cx="343.87" cy="312.80" r="2.0" fill="#d6000e" stroke="#b00010" stroke-width="0.8"/>
<circle cx="355.29" cy="307.16" r="2.0" fill="#d6000e" stroke="#b00010" stroke-width="0.8"/>
<circle cx="366.70" cy="305.13" r="2.0" fill="#d6000e" stroke="#b00010" stroke-width="0.8"/>
<circle cx="378.12" cy="303.37" r="2.0" fill="#d6000e" stroke="#b00010" stroke-width="0.8"/>
<circle cx="389.54" cy="300.53" r="2.0" fill="#d6000e" stroke="#b00010" stroke-width="0.8"/>
<circle cx="389.54" cy="319.02" r="2.0" fill="#d6000e" stroke="#b00010" stroke-width="0.8"/>
<circle cx="400.96" cy="316.55" r="2.0" fill="#d6000e" stroke="#b00010" stroke-width="0.8"/>
<circle cx="412.38" cy="311.97" r="2.0" fill="#d6000e" stroke="#b00010" stroke-width="0.8"/>
<circle cx="423.79" cy="308.35" r="2.0" fill="#d6000e" stroke="#b00010" stroke-width="0.8"/>
<circle cx="435.21" cy="305.35" r="2.0" fill="#d6000e" stroke="#b00010" stroke-width="0.8"/>
<circle cx="446.63" cy="302.43" r="2.0" fill="#d6000e" stroke="#b00010" stroke-width="0.8"/>
<circle cx="458.05" cy="300.89" r="2.0" fill="#d6000e" stroke="#b00010" stroke-width="0.8"/>
<circle cx="458.05" cy="320.00" r="2.0" fill="#d6000e" stroke="#b00010" stroke-width="0.8"/>
<circle cx="469.47" cy="316.48" r="2.0" fill="#d6000e" stroke="#b00010" stroke-width="0.8"/>
<circle cx="480.88" cy="312.93" r="2.0" fill="#d6000e" stroke="#b00010" stroke-width="0.8"/>
</g>
<rect x="46.3" y="192.5" width="414.3" height="128.10000000000002" fill="none" stroke="#8a8a8a" stroke-width="0.9"/>
<line x1="46.3" y1="196.60" x2="49.099999999999994" y2="196.60" stroke="#8a8a8a" stroke-width="0.8"/>
<text x="43.00" y="199.70" font-size="9" text-anchor="end" fill="#231f20" font-weight="normal" >1.0</text>
<line x1="46.3" y1="221.40" x2="49.099999999999994" y2="221.40" stroke="#8a8a8a" stroke-width="0.8"/>
<text x="43.00" y="224.50" font-size="9" text-anchor="end" fill="#231f20" font-weight="normal" >0.8</text>
<line x1="46.3" y1="246.20" x2="49.099999999999994" y2="246.20" stroke="#8a8a8a" stroke-width="0.8"/>
<text x="43.00" y="249.30" font-size="9" text-anchor="end" fill="#231f20" font-weight="normal" >0.6</text>
<line x1="46.3" y1="271.00" x2="49.099999999999994" y2="271.00" stroke="#8a8a8a" stroke-width="0.8"/>
<text x="43.00" y="274.10" font-size="9" text-anchor="end" fill="#231f20" font-weight="normal" >0.4</text>
<line x1="46.3" y1="295.80" x2="49.099999999999994" y2="295.80" stroke="#8a8a8a" stroke-width="0.8"/>
<text x="43.00" y="298.90" font-size="9" text-anchor="end" fill="#231f20" font-weight="normal" >0.2</text>
<line x1="46.3" y1="320.60" x2="49.099999999999994" y2="320.60" stroke="#8a8a8a" stroke-width="0.8"/>
<text x="43.00" y="323.70" font-size="9" text-anchor="end" fill="#231f20" font-weight="normal" >0</text>
<line x1="46.90" y1="320.6" x2="46.90" y2="317.8" stroke="#8a8a8a" stroke-width="0.8"/>
<text x="46.90" y="331.80" font-size="9" text-anchor="middle" fill="#231f20" font-weight="normal" >0</text>
<line x1="114.67" y1="320.6" x2="114.67" y2="317.8" stroke="#8a8a8a" stroke-width="0.8"/>
<text x="114.67" y="331.80" font-size="9" text-anchor="middle" fill="#231f20" font-weight="normal" >0.5</text>
<line x1="182.44" y1="320.6" x2="182.44" y2="317.8" stroke="#8a8a8a" stroke-width="0.8"/>
<text x="182.44" y="331.80" font-size="9" text-anchor="middle" fill="#231f20" font-weight="normal" >1.0</text>
<line x1="250.21" y1="320.6" x2="250.21" y2="317.8" stroke="#8a8a8a" stroke-width="0.8"/>
<text x="250.21" y="331.80" font-size="9" text-anchor="middle" fill="#231f20" font-weight="normal" >1.5</text>
<line x1="317.98" y1="320.6" x2="317.98" y2="317.8" stroke="#8a8a8a" stroke-width="0.8"/>
<text x="317.98" y="331.80" font-size="9" text-anchor="middle" fill="#231f20" font-weight="normal" >2.0</text>
<line x1="385.75" y1="320.6" x2="385.75" y2="317.8" stroke="#8a8a8a" stroke-width="0.8"/>
<text x="385.75" y="331.80" font-size="9" text-anchor="middle" fill="#231f20" font-weight="normal" >2.5</text>
<line x1="453.52" y1="320.6" x2="453.52" y2="317.8" stroke="#8a8a8a" stroke-width="0.8"/>
<text x="453.52" y="331.80" font-size="9" text-anchor="middle" fill="#231f20" font-weight="normal" >3.0</text>
<text x="254.00" y="344.80" font-size="9" text-anchor="middle" fill="#231f20" font-weight="normal" >Time (s)</text>
<text transform="translate(23.7,255.9) rotate(-90)" font-size="9.3" text-anchor="middle" fill="#231f20" textLength="81.4" lengthAdjust="spacingAndGlyphs">Readout probability</text>
<g clip-path="url(#clipd)">
<polyline points="502.66,309.22 504.30,310.35 505.94,311.28 507.58,312.01 509.22,312.53 510.86,312.84 512.50,312.95 514.14,312.84 515.78,312.53 517.42,312.01 519.06,311.28 520.70,310.35 522.34,309.22 523.98,307.89 525.62,306.38 527.26,304.68 528.90,302.81 530.54,300.76 532.18,298.55 533.82,296.20 535.46,293.69 537.10,291.06 538.74,288.30 540.38,285.43 542.02,282.46 543.66,279.40 545.30,276.26 546.94,273.05 548.58,269.80 550.22,266.50 551.86,263.18 553.50,259.85 555.14,256.52 556.78,253.20 558.42,249.90 560.06,246.65 561.70,243.44 563.34,240.30 564.98,237.24 566.62,234.27 568.26,231.40 569.90,228.64 571.54,226.01 573.18,223.50 574.82,221.15 576.46,218.94 578.10,216.89 579.74,215.02 581.38,213.32 583.02,211.81 584.66,210.48 586.30,209.35 587.94,208.42 589.58,207.69 591.22,207.17 592.86,206.86 594.50,206.75 596.14,206.86 597.78,207.17 599.42,207.69 601.06,208.42 602.70,209.35 604.34,210.48 605.98,211.81 607.62,213.32 609.26,215.02 610.90,216.89 612.54,218.94 614.18,221.15 615.82,223.50 617.46,226.01 619.10,228.64 620.74,231.40 622.38,234.27 624.02,237.24 625.66,240.30 627.30,243.44 628.94,246.65 630.58,249.90 632.22,253.20 633.86,256.52 635.50,259.85 637.14,263.18 638.78,266.50 640.42,269.80 642.06,273.05 643.70,276.26 645.34,279.40 646.98,282.46 648.62,285.43 650.26,288.30 651.90,291.06 653.54,293.69 655.18,296.20 656.82,298.55 658.46,300.76 660.10,302.81 661.74,304.68 663.38,306.38 665.02,307.89 666.66,309.22 668.30,310.35 669.94,311.28 671.58,312.01 673.22,312.53 674.86,312.84 676.50,312.95 678.14,312.84 679.78,312.53 681.42,312.01 683.06,311.28 684.70,310.35 686.34,309.22 687.98,307.89 689.62,306.38 691.26,304.68 692.90,302.81 694.54,300.76 696.18,298.55 697.82,296.20 699.46,293.69 701.10,291.06 702.74,288.30 704.38,285.43" fill="none" stroke="#fff" stroke-width="3.0" opacity="0.8"/>
<polyline points="502.66,309.22 504.30,310.35 505.94,311.28 507.58,312.01 509.22,312.53 510.86,312.84 512.50,312.95 514.14,312.84 515.78,312.53 517.42,312.01 519.06,311.28 520.70,310.35 522.34,309.22 523.98,307.89 525.62,306.38 527.26,304.68 528.90,302.81 530.54,300.76 532.18,298.55 533.82,296.20 535.46,293.69 537.10,291.06 538.74,288.30 540.38,285.43 542.02,282.46 543.66,279.40 545.30,276.26 546.94,273.05 548.58,269.80 550.22,266.50 551.86,263.18 553.50,259.85 555.14,256.52 556.78,253.20 558.42,249.90 560.06,246.65 561.70,243.44 563.34,240.30 564.98,237.24 566.62,234.27 568.26,231.40 569.90,228.64 571.54,226.01 573.18,223.50 574.82,221.15 576.46,218.94 578.10,216.89 579.74,215.02 581.38,213.32 583.02,211.81 584.66,210.48 586.30,209.35 587.94,208.42 589.58,207.69 591.22,207.17 592.86,206.86 594.50,206.75 596.14,206.86 597.78,207.17 599.42,207.69 601.06,208.42 602.70,209.35 604.34,210.48 605.98,211.81 607.62,213.32 609.26,215.02 610.90,216.89 612.54,218.94 614.18,221.15 615.82,223.50 617.46,226.01 619.10,228.64 620.74,231.40 622.38,234.27 624.02,237.24 625.66,240.30 627.30,243.44 628.94,246.65 630.58,249.90 632.22,253.20 633.86,256.52 635.50,259.85 637.14,263.18 638.78,266.50 640.42,269.80 642.06,273.05 643.70,276.26 645.34,279.40 646.98,282.46 648.62,285.43 650.26,288.30 651.90,291.06 653.54,293.69 655.18,296.20 656.82,298.55 658.46,300.76 660.10,302.81 661.74,304.68 663.38,306.38 665.02,307.89 666.66,309.22 668.30,310.35 669.94,311.28 671.58,312.01 673.22,312.53 674.86,312.84 676.50,312.95 678.14,312.84 679.78,312.53 681.42,312.01 683.06,311.28 684.70,310.35 686.34,309.22 687.98,307.89 689.62,306.38 691.26,304.68 692.90,302.81 694.54,300.76 696.18,298.55 697.82,296.20 699.46,293.69 701.10,291.06 702.74,288.30 704.38,285.43" fill="none" stroke="#c2ddf2" stroke-width="2.2"/>
<polyline points="502.66,306.73 504.30,307.80 505.94,308.69 507.58,309.38 509.22,309.87 510.86,310.17 512.50,310.27 514.14,310.17 515.78,309.87 517.42,309.38 519.06,308.69 520.70,307.80 522.34,306.73 523.98,305.47 525.62,304.04 527.26,302.42 528.90,300.64 530.54,298.70 532.18,296.61 533.82,294.37 535.46,291.99 537.10,289.49 538.74,286.87 540.38,284.14 542.02,281.32 543.66,278.41 545.30,275.43 546.94,272.39 548.58,269.30 550.22,266.17 551.86,263.02 553.50,259.85 555.14,256.68 556.78,253.53 558.42,250.40 560.06,247.31 561.70,244.27 563.34,241.29 564.98,238.38 566.62,235.56 568.26,232.83 569.90,230.21 571.54,227.71 573.18,225.33 574.82,223.09 576.46,221.00 578.10,219.06 579.74,217.28 581.38,215.66 583.02,214.23 584.66,212.97 586.30,211.90 587.94,211.01 589.58,210.32 591.22,209.83 592.86,209.53 594.50,209.43 596.14,209.53 597.78,209.83 599.42,210.32 601.06,211.01 602.70,211.90 604.34,212.97 605.98,214.23 607.62,215.66 609.26,217.28 610.90,219.06 612.54,221.00 614.18,223.09 615.82,225.33 617.46,227.71 619.10,230.21 620.74,232.83 622.38,235.56 624.02,238.38 625.66,241.29 627.30,244.27 628.94,247.31 630.58,250.40 632.22,253.53 633.86,256.68 635.50,259.85 637.14,263.02 638.78,266.17 640.42,269.30 642.06,272.39 643.70,275.43 645.34,278.41 646.98,281.32 648.62,284.14 650.26,286.87 651.90,289.49 653.54,291.99 655.18,294.37 656.82,296.61 658.46,298.70 660.10,300.64 661.74,302.42 663.38,304.04 665.02,305.47 666.66,306.73 668.30,307.80 669.94,308.69 671.58,309.38 673.22,309.87 674.86,310.17 676.50,310.27 678.14,310.17 679.78,309.87 681.42,309.38 683.06,308.69 684.70,307.80 686.34,306.73 687.98,305.47 689.62,304.04 691.26,302.42 692.90,300.64 694.54,298.70 696.18,296.61 697.82,294.37 699.46,291.99 701.10,289.49 702.74,286.87 704.38,284.14" fill="none" stroke="#fff" stroke-width="3.0" opacity="0.8"/>
<polyline points="502.66,306.73 504.30,307.80 505.94,308.69 507.58,309.38 509.22,309.87 510.86,310.17 512.50,310.27 514.14,310.17 515.78,309.87 517.42,309.38 519.06,308.69 520.70,307.80 522.34,306.73 523.98,305.47 525.62,304.04 527.26,302.42 528.90,300.64 530.54,298.70 532.18,296.61 533.82,294.37 535.46,291.99 537.10,289.49 538.74,286.87 540.38,284.14 542.02,281.32 543.66,278.41 545.30,275.43 546.94,272.39 548.58,269.30 550.22,266.17 551.86,263.02 553.50,259.85 555.14,256.68 556.78,253.53 558.42,250.40 560.06,247.31 561.70,244.27 563.34,241.29 564.98,238.38 566.62,235.56 568.26,232.83 569.90,230.21 571.54,227.71 573.18,225.33 574.82,223.09 576.46,221.00 578.10,219.06 579.74,217.28 581.38,215.66 583.02,214.23 584.66,212.97 586.30,211.90 587.94,211.01 589.58,210.32 591.22,209.83 592.86,209.53 594.50,209.43 596.14,209.53 597.78,209.83 599.42,210.32 601.06,211.01 602.70,211.90 604.34,212.97 605.98,214.23 607.62,215.66 609.26,217.28 610.90,219.06 612.54,221.00 614.18,223.09 615.82,225.33 617.46,227.71 619.10,230.21 620.74,232.83 622.38,235.56 624.02,238.38 625.66,241.29 627.30,244.27 628.94,247.31 630.58,250.40 632.22,253.53 633.86,256.68 635.50,259.85 637.14,263.02 638.78,266.17 640.42,269.30 642.06,272.39 643.70,275.43 645.34,278.41 646.98,281.32 648.62,284.14 650.26,286.87 651.90,289.49 653.54,291.99 655.18,294.37 656.82,296.61 658.46,298.70 660.10,300.64 661.74,302.42 663.38,304.04 665.02,305.47 666.66,306.73 668.30,307.80 669.94,308.69 671.58,309.38 673.22,309.87 674.86,310.17 676.50,310.27 678.14,310.17 679.78,309.87 681.42,309.38 683.06,308.69 684.70,307.80 686.34,306.73 687.98,305.47 689.62,304.04 691.26,302.42 692.90,300.64 694.54,298.70 696.18,296.61 697.82,294.37 699.46,291.99 701.10,289.49 702.74,286.87 704.38,284.14" fill="none" stroke="#9ccbec" stroke-width="2.2"/>
<polyline points="502.66,304.25 504.30,305.26 505.94,306.10 507.58,306.75 509.22,307.22 510.86,307.51 512.50,307.60 514.14,307.51 515.78,307.22 517.42,306.75 519.06,306.10 520.70,305.26 522.34,304.25 523.98,303.06 525.62,301.69 527.26,300.17 528.90,298.48 530.54,296.64 532.18,294.66 533.82,292.54 535.46,290.29 537.10,287.92 538.74,285.44 540.38,282.85 542.02,280.18 543.66,277.43 545.30,274.61 546.94,271.72 548.58,268.80 550.22,265.83 551.86,262.85 553.50,259.85 555.14,256.85 556.78,253.87 558.42,250.90 560.06,247.98 561.70,245.09 563.34,242.27 564.98,239.52 566.62,236.85 568.26,234.26 569.90,231.78 571.54,229.41 573.18,227.16 574.82,225.04 576.46,223.06 578.10,221.22 579.74,219.53 581.38,218.01 583.02,216.64 584.66,215.45 586.30,214.44 587.94,213.60 589.58,212.95 591.22,212.48 592.86,212.19 594.50,212.10 596.14,212.19 597.78,212.48 599.42,212.95 601.06,213.60 602.70,214.44 604.34,215.45 605.98,216.64 607.62,218.01 609.26,219.53 610.90,221.22 612.54,223.06 614.18,225.04 615.82,227.16 617.46,229.41 619.10,231.78 620.74,234.26 622.38,236.85 624.02,239.52 625.66,242.27 627.30,245.09 628.94,247.98 630.58,250.90 632.22,253.87 633.86,256.85 635.50,259.85 637.14,262.85 638.78,265.83 640.42,268.80 642.06,271.72 643.70,274.61 645.34,277.43 646.98,280.18 648.62,282.85 650.26,285.44 651.90,287.92 653.54,290.29 655.18,292.54 656.82,294.66 658.46,296.64 660.10,298.48 661.74,300.17 663.38,301.69 665.02,303.06 666.66,304.25 668.30,305.26 669.94,306.10 671.58,306.75 673.22,307.22 674.86,307.51 676.50,307.60 678.14,307.51 679.78,307.22 681.42,306.75 683.06,306.10 684.70,305.26 686.34,304.25 687.98,303.06 689.62,301.69 691.26,300.17 692.90,298.48 694.54,296.64 696.18,294.66 697.82,292.54 699.46,290.29 701.10,287.92 702.74,285.44 704.38,282.85" fill="none" stroke="#fff" stroke-width="3.0" opacity="0.8"/>
<polyline points="502.66,304.25 504.30,305.26 505.94,306.10 507.58,306.75 509.22,307.22 510.86,307.51 512.50,307.60 514.14,307.51 515.78,307.22 517.42,306.75 519.06,306.10 520.70,305.26 522.34,304.25 523.98,303.06 525.62,301.69 527.26,300.17 528.90,298.48 530.54,296.64 532.18,294.66 533.82,292.54 535.46,290.29 537.10,287.92 538.74,285.44 540.38,282.85 542.02,280.18 543.66,277.43 545.30,274.61 546.94,271.72 548.58,268.80 550.22,265.83 551.86,262.85 553.50,259.85 555.14,256.85 556.78,253.87 558.42,250.90 560.06,247.98 561.70,245.09 563.34,242.27 564.98,239.52 566.62,236.85 568.26,234.26 569.90,231.78 571.54,229.41 573.18,227.16 574.82,225.04 576.46,223.06 578.10,221.22 579.74,219.53 581.38,218.01 583.02,216.64 584.66,215.45 586.30,214.44 587.94,213.60 589.58,212.95 591.22,212.48 592.86,212.19 594.50,212.10 596.14,212.19 597.78,212.48 599.42,212.95 601.06,213.60 602.70,214.44 604.34,215.45 605.98,216.64 607.62,218.01 609.26,219.53 610.90,221.22 612.54,223.06 614.18,225.04 615.82,227.16 617.46,229.41 619.10,231.78 620.74,234.26 622.38,236.85 624.02,239.52 625.66,242.27 627.30,245.09 628.94,247.98 630.58,250.90 632.22,253.87 633.86,256.85 635.50,259.85 637.14,262.85 638.78,265.83 640.42,268.80 642.06,271.72 643.70,274.61 645.34,277.43 646.98,280.18 648.62,282.85 650.26,285.44 651.90,287.92 653.54,290.29 655.18,292.54 656.82,294.66 658.46,296.64 660.10,298.48 661.74,300.17 663.38,301.69 665.02,303.06 666.66,304.25 668.30,305.26 669.94,306.10 671.58,306.75 673.22,307.22 674.86,307.51 676.50,307.60 678.14,307.51 679.78,307.22 681.42,306.75 683.06,306.10 684.70,305.26 686.34,304.25 687.98,303.06 689.62,301.69 691.26,300.17 692.90,298.48 694.54,296.64 696.18,294.66 697.82,292.54 699.46,290.29 701.10,287.92 702.74,285.44 704.38,282.85" fill="none" stroke="#78b6e2" stroke-width="2.2"/>
<polyline points="502.66,301.65 504.30,302.60 505.94,303.39 507.58,304.01 509.22,304.45 510.86,304.72 512.50,304.81 514.14,304.72 515.78,304.45 517.42,304.01 519.06,303.39 520.70,302.60 522.34,301.65 523.98,300.53 525.62,299.24 527.26,297.81 528.90,296.22 530.54,294.49 532.18,292.62 533.82,290.62 535.46,288.51 537.10,286.27 538.74,283.94 540.38,281.51 542.02,278.99 543.66,276.40 545.30,273.74 546.94,271.03 548.58,268.27 550.22,265.48 551.86,262.67 553.50,259.85 555.14,257.03 556.78,254.22 558.42,251.43 560.06,248.67 561.70,245.96 563.34,243.30 564.98,240.71 566.62,238.19 568.26,235.76 569.90,233.43 571.54,231.19 573.18,229.08 574.82,227.08 576.46,225.21 578.10,223.48 579.74,221.89 581.38,220.46 583.02,219.17 584.66,218.05 586.30,217.10 587.94,216.31 589.58,215.69 591.22,215.25 592.86,214.98 594.50,214.90 596.14,214.98 597.78,215.25 599.42,215.69 601.06,216.31 602.70,217.10 604.34,218.05 605.98,219.17 607.62,220.46 609.26,221.89 610.90,223.48 612.54,225.21 614.18,227.08 615.82,229.08 617.46,231.19 619.10,233.43 620.74,235.76 622.38,238.19 624.02,240.71 625.66,243.30 627.30,245.96 628.94,248.67 630.58,251.43 632.22,254.22 633.86,257.03 635.50,259.85 637.14,262.67 638.78,265.48 640.42,268.27 642.06,271.03 643.70,273.74 645.34,276.40 646.98,278.99 648.62,281.51 650.26,283.94 651.90,286.27 653.54,288.51 655.18,290.62 656.82,292.62 658.46,294.49 660.10,296.22 661.74,297.81 663.38,299.24 665.02,300.53 666.66,301.65 668.30,302.60 669.94,303.39 671.58,304.01 673.22,304.45 674.86,304.72 676.50,304.81 678.14,304.72 679.78,304.45 681.42,304.01 683.06,303.39 684.70,302.60 686.34,301.65 687.98,300.53 689.62,299.24 691.26,297.81 692.90,296.22 694.54,294.49 696.18,292.62 697.82,290.62 699.46,288.51 701.10,286.27 702.74,283.94 704.38,281.51" fill="none" stroke="#fff" stroke-width="3.0" opacity="0.8"/>
<polyline points="502.66,301.65 504.30,302.60 505.94,303.39 507.58,304.01 509.22,304.45 510.86,304.72 512.50,304.81 514.14,304.72 515.78,304.45 517.42,304.01 519.06,303.39 520.70,302.60 522.34,301.65 523.98,300.53 525.62,299.24 527.26,297.81 528.90,296.22 530.54,294.49 532.18,292.62 533.82,290.62 535.46,288.51 537.10,286.27 538.74,283.94 540.38,281.51 542.02,278.99 543.66,276.40 545.30,273.74 546.94,271.03 548.58,268.27 550.22,265.48 551.86,262.67 553.50,259.85 555.14,257.03 556.78,254.22 558.42,251.43 560.06,248.67 561.70,245.96 563.34,243.30 564.98,240.71 566.62,238.19 568.26,235.76 569.90,233.43 571.54,231.19 573.18,229.08 574.82,227.08 576.46,225.21 578.10,223.48 579.74,221.89 581.38,220.46 583.02,219.17 584.66,218.05 586.30,217.10 587.94,216.31 589.58,215.69 591.22,215.25 592.86,214.98 594.50,214.90 596.14,214.98 597.78,215.25 599.42,215.69 601.06,216.31 602.70,217.10 604.34,218.05 605.98,219.17 607.62,220.46 609.26,221.89 610.90,223.48 612.54,225.21 614.18,227.08 615.82,229.08 617.46,231.19 619.10,233.43 620.74,235.76 622.38,238.19 624.02,240.71 625.66,243.30 627.30,245.96 628.94,248.67 630.58,251.43 632.22,254.22 633.86,257.03 635.50,259.85 637.14,262.67 638.78,265.48 640.42,268.27 642.06,271.03 643.70,273.74 645.34,276.40 646.98,278.99 648.62,281.51 650.26,283.94 651.90,286.27 653.54,288.51 655.18,290.62 656.82,292.62 658.46,294.49 660.10,296.22 661.74,297.81 663.38,299.24 665.02,300.53 666.66,301.65 668.30,302.60 669.94,303.39 671.58,304.01 673.22,304.45 674.86,304.72 676.50,304.81 678.14,304.72 679.78,304.45 681.42,304.01 683.06,303.39 684.70,302.60 686.34,301.65 687.98,300.53 689.62,299.24 691.26,297.81 692.90,296.22 694.54,294.49 696.18,292.62 697.82,290.62 699.46,288.51 701.10,286.27 702.74,283.94 704.38,281.51" fill="none" stroke="#529bd4" stroke-width="2.2"/>
<polyline points="502.66,299.05 504.30,299.95 505.94,300.69 507.58,301.26 509.22,301.68 510.86,301.93 512.50,302.01 514.14,301.93 515.78,301.68 517.42,301.26 519.06,300.69 520.70,299.95 522.34,299.05 523.98,298.00 525.62,296.80 527.26,295.45 528.90,293.96 530.54,292.34 532.18,290.58 533.82,288.71 535.46,286.72 537.10,284.63 538.74,282.44 540.38,280.16 542.02,277.80 543.66,275.37 545.30,272.88 546.94,270.33 548.58,267.75 550.22,265.13 551.86,262.50 553.50,259.85 555.14,257.20 556.78,254.57 558.42,251.95 560.06,249.37 561.70,246.82 563.34,244.33 564.98,241.90 566.62,239.54 568.26,237.26 569.90,235.07 571.54,232.98 573.18,230.99 574.82,229.12 576.46,227.36 578.10,225.74 579.74,224.25 581.38,222.90 583.02,221.70 584.66,220.65 586.30,219.75 587.94,219.01 589.58,218.44 591.22,218.02 592.86,217.77 594.50,217.69 596.14,217.77 597.78,218.02 599.42,218.44 601.06,219.01 602.70,219.75 604.34,220.65 605.98,221.70 607.62,222.90 609.26,224.25 610.90,225.74 612.54,227.36 614.18,229.12 615.82,230.99 617.46,232.98 619.10,235.07 620.74,237.26 622.38,239.54 624.02,241.90 625.66,244.33 627.30,246.82 628.94,249.37 630.58,251.95 632.22,254.57 633.86,257.20 635.50,259.85 637.14,262.50 638.78,265.13 640.42,267.75 642.06,270.33 643.70,272.88 645.34,275.37 646.98,277.80 648.62,280.16 650.26,282.44 651.90,284.63 653.54,286.72 655.18,288.71 656.82,290.58 658.46,292.34 660.10,293.96 661.74,295.45 663.38,296.80 665.02,298.00 666.66,299.05 668.30,299.95 669.94,300.69 671.58,301.26 673.22,301.68 674.86,301.93 676.50,302.01 678.14,301.93 679.78,301.68 681.42,301.26 683.06,300.69 684.70,299.95 686.34,299.05 687.98,298.00 689.62,296.80 691.26,295.45 692.90,293.96 694.54,292.34 696.18,290.58 697.82,288.71 699.46,286.72 701.10,284.63 702.74,282.44 704.38,280.16" fill="none" stroke="#fff" stroke-width="3.0" opacity="0.8"/>
<polyline points="502.66,299.05 504.30,299.95 505.94,300.69 507.58,301.26 509.22,301.68 510.86,301.93 512.50,302.01 514.14,301.93 515.78,301.68 517.42,301.26 519.06,300.69 520.70,299.95 522.34,299.05 523.98,298.00 525.62,296.80 527.26,295.45 528.90,293.96 530.54,292.34 532.18,290.58 533.82,288.71 535.46,286.72 537.10,284.63 538.74,282.44 540.38,280.16 542.02,277.80 543.66,275.37 545.30,272.88 546.94,270.33 548.58,267.75 550.22,265.13 551.86,262.50 553.50,259.85 555.14,257.20 556.78,254.57 558.42,251.95 560.06,249.37 561.70,246.82 563.34,244.33 564.98,241.90 566.62,239.54 568.26,237.26 569.90,235.07 571.54,232.98 573.18,230.99 574.82,229.12 576.46,227.36 578.10,225.74 579.74,224.25 581.38,222.90 583.02,221.70 584.66,220.65 586.30,219.75 587.94,219.01 589.58,218.44 591.22,218.02 592.86,217.77 594.50,217.69 596.14,217.77 597.78,218.02 599.42,218.44 601.06,219.01 602.70,219.75 604.34,220.65 605.98,221.70 607.62,222.90 609.26,224.25 610.90,225.74 612.54,227.36 614.18,229.12 615.82,230.99 617.46,232.98 619.10,235.07 620.74,237.26 622.38,239.54 624.02,241.90 625.66,244.33 627.30,246.82 628.94,249.37 630.58,251.95 632.22,254.57 633.86,257.20 635.50,259.85 637.14,262.50 638.78,265.13 640.42,267.75 642.06,270.33 643.70,272.88 645.34,275.37 646.98,277.80 648.62,280.16 650.26,282.44 651.90,284.63 653.54,286.72 655.18,288.71 656.82,290.58 658.46,292.34 660.10,293.96 661.74,295.45 663.38,296.80 665.02,298.00 666.66,299.05 668.30,299.95 669.94,300.69 671.58,301.26 673.22,301.68 674.86,301.93 676.50,302.01 678.14,301.93 679.78,301.68 681.42,301.26 683.06,300.69 684.70,299.95 686.34,299.05 687.98,298.00 689.62,296.80 691.26,295.45 692.90,293.96 694.54,292.34 696.18,290.58 697.82,288.71 699.46,286.72 701.10,284.63 702.74,282.44 704.38,280.16" fill="none" stroke="#3481c3" stroke-width="2.2"/>
<polyline points="502.66,296.34 504.30,297.17 505.94,297.86 507.58,298.40 509.22,298.79 510.86,299.02 512.50,299.09 514.14,299.02 515.78,298.79 517.42,298.40 519.06,297.86 520.70,297.17 522.34,296.34 523.98,295.36 525.62,294.24 527.26,292.99 528.90,291.60 530.54,290.09 532.18,288.46 533.82,286.71 535.46,284.87 537.10,282.92 538.74,280.88 540.38,278.76 542.02,276.56 543.66,274.30 545.30,271.98 546.94,269.61 548.58,267.20 550.22,264.77 551.86,262.31 553.50,259.85 555.14,257.39 556.78,254.93 558.42,252.50 560.06,250.09 561.70,247.72 563.34,245.40 564.98,243.14 566.62,240.94 568.26,238.82 569.90,236.78 571.54,234.83 573.18,232.99 574.82,231.24 576.46,229.61 578.10,228.10 579.74,226.71 581.38,225.46 583.02,224.34 584.66,223.36 586.30,222.53 587.94,221.84 589.58,221.30 591.22,220.91 592.86,220.68 594.50,220.61 596.14,220.68 597.78,220.91 599.42,221.30 601.06,221.84 602.70,222.53 604.34,223.36 605.98,224.34 607.62,225.46 609.26,226.71 610.90,228.10 612.54,229.61 614.18,231.24 615.82,232.99 617.46,234.83 619.10,236.78 620.74,238.82 622.38,240.94 624.02,243.14 625.66,245.40 627.30,247.72 628.94,250.09 630.58,252.50 632.22,254.93 633.86,257.39 635.50,259.85 637.14,262.31 638.78,264.77 640.42,267.20 642.06,269.61 643.70,271.98 645.34,274.30 646.98,276.56 648.62,278.76 650.26,280.88 651.90,282.92 653.54,284.87 655.18,286.71 656.82,288.46 658.46,290.09 660.10,291.60 661.74,292.99 663.38,294.24 665.02,295.36 666.66,296.34 668.30,297.17 669.94,297.86 671.58,298.40 673.22,298.79 674.86,299.02 676.50,299.09 678.14,299.02 679.78,298.79 681.42,298.40 683.06,297.86 684.70,297.17 686.34,296.34 687.98,295.36 689.62,294.24 691.26,292.99 692.90,291.60 694.54,290.09 696.18,288.46 697.82,286.71 699.46,284.87 701.10,282.92 702.74,280.88 704.38,278.76" fill="none" stroke="#fff" stroke-width="3.0" opacity="0.8"/>
<polyline points="502.66,296.34 504.30,297.17 505.94,297.86 507.58,298.40 509.22,298.79 510.86,299.02 512.50,299.09 514.14,299.02 515.78,298.79 517.42,298.40 519.06,297.86 520.70,297.17 522.34,296.34 523.98,295.36 525.62,294.24 527.26,292.99 528.90,291.60 530.54,290.09 532.18,288.46 533.82,286.71 535.46,284.87 537.10,282.92 538.74,280.88 540.38,278.76 542.02,276.56 543.66,274.30 545.30,271.98 546.94,269.61 548.58,267.20 550.22,264.77 551.86,262.31 553.50,259.85 555.14,257.39 556.78,254.93 558.42,252.50 560.06,250.09 561.70,247.72 563.34,245.40 564.98,243.14 566.62,240.94 568.26,238.82 569.90,236.78 571.54,234.83 573.18,232.99 574.82,231.24 576.46,229.61 578.10,228.10 579.74,226.71 581.38,225.46 583.02,224.34 584.66,223.36 586.30,222.53 587.94,221.84 589.58,221.30 591.22,220.91 592.86,220.68 594.50,220.61 596.14,220.68 597.78,220.91 599.42,221.30 601.06,221.84 602.70,222.53 604.34,223.36 605.98,224.34 607.62,225.46 609.26,226.71 610.90,228.10 612.54,229.61 614.18,231.24 615.82,232.99 617.46,234.83 619.10,236.78 620.74,238.82 622.38,240.94 624.02,243.14 625.66,245.40 627.30,247.72 628.94,250.09 630.58,252.50 632.22,254.93 633.86,257.39 635.50,259.85 637.14,262.31 638.78,264.77 640.42,267.20 642.06,269.61 643.70,271.98 645.34,274.30 646.98,276.56 648.62,278.76 650.26,280.88 651.90,282.92 653.54,284.87 655.18,286.71 656.82,288.46 658.46,290.09 660.10,291.60 661.74,292.99 663.38,294.24 665.02,295.36 666.66,296.34 668.30,297.17 669.94,297.86 671.58,298.40 673.22,298.79 674.86,299.02 676.50,299.09 678.14,299.02 679.78,298.79 681.42,298.40 683.06,297.86 684.70,297.17 686.34,296.34 687.98,295.36 689.62,294.24 691.26,292.99 692.90,291.60 694.54,290.09 696.18,288.46 697.82,286.71 699.46,284.87 701.10,282.92 702.74,280.88 704.38,278.76" fill="none" stroke="#1d69b0" stroke-width="2.2"/>
<polyline points="502.66,293.74 504.30,294.52 505.94,295.15 507.58,295.65 509.22,296.01 510.86,296.23 512.50,296.30 514.14,296.23 515.78,296.01 517.42,295.65 519.06,295.15 520.70,294.52 522.34,293.74 523.98,292.83 525.62,291.79 527.26,290.63 528.90,289.34 530.54,287.94 532.18,286.42 533.82,284.80 535.46,283.08 537.10,281.27 538.74,279.38 540.38,277.41 542.02,275.37 543.66,273.27 545.30,271.11 546.94,268.91 548.58,266.68 550.22,264.42 551.86,262.14 553.50,259.85 555.14,257.56 556.78,255.28 558.42,253.02 560.06,250.79 561.70,248.59 563.34,246.43 564.98,244.33 566.62,242.29 568.26,240.32 569.90,238.43 571.54,236.62 573.18,234.90 574.82,233.28 576.46,231.76 578.10,230.36 579.74,229.07 581.38,227.91 583.02,226.87 584.66,225.96 586.30,225.18 587.94,224.55 589.58,224.05 591.22,223.69 592.86,223.47 594.50,223.40 596.14,223.47 597.78,223.69 599.42,224.05 601.06,224.55 602.70,225.18 604.34,225.96 605.98,226.87 607.62,227.91 609.26,229.07 610.90,230.36 612.54,231.76 614.18,233.28 615.82,234.90 617.46,236.62 619.10,238.43 620.74,240.32 622.38,242.29 624.02,244.33 625.66,246.43 627.30,248.59 628.94,250.79 630.58,253.02 632.22,255.28 633.86,257.56 635.50,259.85 637.14,262.14 638.78,264.42 640.42,266.68 642.06,268.91 643.70,271.11 645.34,273.27 646.98,275.37 648.62,277.41 650.26,279.38 651.90,281.27 653.54,283.08 655.18,284.80 656.82,286.42 658.46,287.94 660.10,289.34 661.74,290.63 663.38,291.79 665.02,292.83 666.66,293.74 668.30,294.52 669.94,295.15 671.58,295.65 673.22,296.01 674.86,296.23 676.50,296.30 678.14,296.23 679.78,296.01 681.42,295.65 683.06,295.15 684.70,294.52 686.34,293.74 687.98,292.83 689.62,291.79 691.26,290.63 692.90,289.34 694.54,287.94 696.18,286.42 697.82,284.80 699.46,283.08 701.10,281.27 702.74,279.38 704.38,277.41" fill="none" stroke="#fff" stroke-width="3.0" opacity="0.8"/>
<polyline points="502.66,293.74 504.30,294.52 505.94,295.15 507.58,295.65 509.22,296.01 510.86,296.23 512.50,296.30 514.14,296.23 515.78,296.01 517.42,295.65 519.06,295.15 520.70,294.52 522.34,293.74 523.98,292.83 525.62,291.79 527.26,290.63 528.90,289.34 530.54,287.94 532.18,286.42 533.82,284.80 535.46,283.08 537.10,281.27 538.74,279.38 540.38,277.41 542.02,275.37 543.66,273.27 545.30,271.11 546.94,268.91 548.58,266.68 550.22,264.42 551.86,262.14 553.50,259.85 555.14,257.56 556.78,255.28 558.42,253.02 560.06,250.79 561.70,248.59 563.34,246.43 564.98,244.33 566.62,242.29 568.26,240.32 569.90,238.43 571.54,236.62 573.18,234.90 574.82,233.28 576.46,231.76 578.10,230.36 579.74,229.07 581.38,227.91 583.02,226.87 584.66,225.96 586.30,225.18 587.94,224.55 589.58,224.05 591.22,223.69 592.86,223.47 594.50,223.40 596.14,223.47 597.78,223.69 599.42,224.05 601.06,224.55 602.70,225.18 604.34,225.96 605.98,226.87 607.62,227.91 609.26,229.07 610.90,230.36 612.54,231.76 614.18,233.28 615.82,234.90 617.46,236.62 619.10,238.43 620.74,240.32 622.38,242.29 624.02,244.33 625.66,246.43 627.30,248.59 628.94,250.79 630.58,253.02 632.22,255.28 633.86,257.56 635.50,259.85 637.14,262.14 638.78,264.42 640.42,266.68 642.06,268.91 643.70,271.11 645.34,273.27 646.98,275.37 648.62,277.41 650.26,279.38 651.90,281.27 653.54,283.08 655.18,284.80 656.82,286.42 658.46,287.94 660.10,289.34 661.74,290.63 663.38,291.79 665.02,292.83 666.66,293.74 668.30,294.52 669.94,295.15 671.58,295.65 673.22,296.01 674.86,296.23 676.50,296.30 678.14,296.23 679.78,296.01 681.42,295.65 683.06,295.15 684.70,294.52 686.34,293.74 687.98,292.83 689.62,291.79 691.26,290.63 692.90,289.34 694.54,287.94 696.18,286.42 697.82,284.80 699.46,283.08 701.10,281.27 702.74,279.38 704.38,277.41" fill="none" stroke="#0d509a" stroke-width="2.2"/>
<circle cx="512.50" cy="312.59" r="2.15" fill="#b3d6f0" stroke="#74b0de" stroke-width="0.75"/>
<circle cx="520.70" cy="309.64" r="2.15" fill="#b3d6f0" stroke="#74b0de" stroke-width="0.75"/>
<circle cx="528.90" cy="301.94" r="2.15" fill="#b3d6f0" stroke="#74b0de" stroke-width="0.75"/>
<circle cx="537.10" cy="289.77" r="2.15" fill="#b3d6f0" stroke="#74b0de" stroke-width="0.75"/>
<circle cx="545.30" cy="275.56" r="2.15" fill="#b3d6f0" stroke="#74b0de" stroke-width="0.75"/>
<circle cx="553.50" cy="258.62" r="2.15" fill="#b3d6f0" stroke="#74b0de" stroke-width="0.75"/>
<circle cx="561.70" cy="244.82" r="2.15" fill="#b3d6f0" stroke="#74b0de" stroke-width="0.75"/>
<circle cx="569.90" cy="228.74" r="2.15" fill="#b3d6f0" stroke="#74b0de" stroke-width="0.75"/>
<circle cx="578.10" cy="215.60" r="2.15" fill="#b3d6f0" stroke="#74b0de" stroke-width="0.75"/>
<circle cx="586.30" cy="208.92" r="2.15" fill="#b3d6f0" stroke="#74b0de" stroke-width="0.75"/>
<circle cx="594.50" cy="205.59" r="2.15" fill="#b3d6f0" stroke="#74b0de" stroke-width="0.75"/>
<circle cx="602.70" cy="210.48" r="2.15" fill="#b3d6f0" stroke="#74b0de" stroke-width="0.75"/>
<circle cx="610.90" cy="216.99" r="2.15" fill="#b3d6f0" stroke="#74b0de" stroke-width="0.75"/>
<circle cx="619.10" cy="229.38" r="2.15" fill="#b3d6f0" stroke="#74b0de" stroke-width="0.75"/>
<circle cx="627.30" cy="243.31" r="2.15" fill="#b3d6f0" stroke="#74b0de" stroke-width="0.75"/>
<circle cx="635.50" cy="259.63" r="2.15" fill="#b3d6f0" stroke="#74b0de" stroke-width="0.75"/>
<circle cx="643.70" cy="277.68" r="2.15" fill="#b3d6f0" stroke="#74b0de" stroke-width="0.75"/>
<circle cx="651.90" cy="291.88" r="2.15" fill="#b3d6f0" stroke="#74b0de" stroke-width="0.75"/>
<circle cx="660.10" cy="303.45" r="2.15" fill="#b3d6f0" stroke="#74b0de" stroke-width="0.75"/>
<circle cx="668.30" cy="309.13" r="2.15" fill="#b3d6f0" stroke="#74b0de" stroke-width="0.75"/>
<circle cx="676.50" cy="312.17" r="2.15" fill="#b3d6f0" stroke="#74b0de" stroke-width="0.75"/>
<circle cx="512.50" cy="311.27" r="2.15" fill="#8cc1e8" stroke="#569fd5" stroke-width="0.75"/>
<circle cx="520.70" cy="306.94" r="2.15" fill="#8cc1e8" stroke="#569fd5" stroke-width="0.75"/>
<circle cx="528.90" cy="301.70" r="2.15" fill="#8cc1e8" stroke="#569fd5" stroke-width="0.75"/>
<circle cx="537.10" cy="289.15" r="2.15" fill="#8cc1e8" stroke="#569fd5" stroke-width="0.75"/>
<circle cx="545.30" cy="276.52" r="2.15" fill="#8cc1e8" stroke="#569fd5" stroke-width="0.75"/>
<circle cx="553.50" cy="261.30" r="2.15" fill="#8cc1e8" stroke="#569fd5" stroke-width="0.75"/>
<circle cx="561.70" cy="243.19" r="2.15" fill="#8cc1e8" stroke="#569fd5" stroke-width="0.75"/>
<circle cx="569.90" cy="231.06" r="2.15" fill="#8cc1e8" stroke="#569fd5" stroke-width="0.75"/>
<circle cx="578.10" cy="219.89" r="2.15" fill="#8cc1e8" stroke="#569fd5" stroke-width="0.75"/>
<circle cx="586.30" cy="210.49" r="2.15" fill="#8cc1e8" stroke="#569fd5" stroke-width="0.75"/>
<circle cx="594.50" cy="208.34" r="2.15" fill="#8cc1e8" stroke="#569fd5" stroke-width="0.75"/>
<circle cx="602.70" cy="212.51" r="2.15" fill="#8cc1e8" stroke="#569fd5" stroke-width="0.75"/>
<circle cx="610.90" cy="217.71" r="2.15" fill="#8cc1e8" stroke="#569fd5" stroke-width="0.75"/>
<circle cx="619.10" cy="230.10" r="2.15" fill="#8cc1e8" stroke="#569fd5" stroke-width="0.75"/>
<circle cx="627.30" cy="243.75" r="2.15" fill="#8cc1e8" stroke="#569fd5" stroke-width="0.75"/>
<circle cx="635.50" cy="260.71" r="2.15" fill="#8cc1e8" stroke="#569fd5" stroke-width="0.75"/>
<circle cx="643.70" cy="274.15" r="2.15" fill="#8cc1e8" stroke="#569fd5" stroke-width="0.75"/>
<circle cx="651.90" cy="288.93" r="2.15" fill="#8cc1e8" stroke="#569fd5" stroke-width="0.75"/>
<circle cx="660.10" cy="299.28" r="2.15" fill="#8cc1e8" stroke="#569fd5" stroke-width="0.75"/>
<circle cx="668.30" cy="306.66" r="2.15" fill="#8cc1e8" stroke="#569fd5" stroke-width="0.75"/>
<circle cx="676.50" cy="310.86" r="2.15" fill="#8cc1e8" stroke="#569fd5" stroke-width="0.75"/>
<circle cx="512.50" cy="308.00" r="2.15" fill="#67abdd" stroke="#3a89c8" stroke-width="0.75"/>
<circle cx="520.70" cy="306.24" r="2.15" fill="#67abdd" stroke="#3a89c8" stroke-width="0.75"/>
<circle cx="528.90" cy="299.51" r="2.15" fill="#67abdd" stroke="#3a89c8" stroke-width="0.75"/>
<circle cx="537.10" cy="289.18" r="2.15" fill="#67abdd" stroke="#3a89c8" stroke-width="0.75"/>
<circle cx="545.30" cy="275.18" r="2.15" fill="#67abdd" stroke="#3a89c8" stroke-width="0.75"/>
<circle cx="553.50" cy="259.55" r="2.15" fill="#67abdd" stroke="#3a89c8" stroke-width="0.75"/>
<circle cx="561.70" cy="246.54" r="2.15" fill="#67abdd" stroke="#3a89c8" stroke-width="0.75"/>
<circle cx="569.90" cy="231.26" r="2.15" fill="#67abdd" stroke="#3a89c8" stroke-width="0.75"/>
<circle cx="578.10" cy="221.69" r="2.15" fill="#67abdd" stroke="#3a89c8" stroke-width="0.75"/>
<circle cx="586.30" cy="214.99" r="2.15" fill="#67abdd" stroke="#3a89c8" stroke-width="0.75"/>
<circle cx="594.50" cy="211.17" r="2.15" fill="#67abdd" stroke="#3a89c8" stroke-width="0.75"/>
<circle cx="602.70" cy="214.49" r="2.15" fill="#67abdd" stroke="#3a89c8" stroke-width="0.75"/>
<circle cx="610.90" cy="221.76" r="2.15" fill="#67abdd" stroke="#3a89c8" stroke-width="0.75"/>
<circle cx="619.10" cy="231.84" r="2.15" fill="#67abdd" stroke="#3a89c8" stroke-width="0.75"/>
<circle cx="627.30" cy="244.50" r="2.15" fill="#67abdd" stroke="#3a89c8" stroke-width="0.75"/>
<circle cx="635.50" cy="261.14" r="2.15" fill="#67abdd" stroke="#3a89c8" stroke-width="0.75"/>
<circle cx="643.70" cy="273.22" r="2.15" fill="#67abdd" stroke="#3a89c8" stroke-width="0.75"/>
<circle cx="651.90" cy="289.31" r="2.15" fill="#67abdd" stroke="#3a89c8" stroke-width="0.75"/>
<circle cx="660.10" cy="297.75" r="2.15" fill="#67abdd" stroke="#3a89c8" stroke-width="0.75"/>
<circle cx="668.30" cy="304.26" r="2.15" fill="#67abdd" stroke="#3a89c8" stroke-width="0.75"/>
<circle cx="676.50" cy="309.00" r="2.15" fill="#67abdd" stroke="#3a89c8" stroke-width="0.75"/>
<circle cx="512.50" cy="303.97" r="2.15" fill="#4592d0" stroke="#2673b8" stroke-width="0.75"/>
<circle cx="520.70" cy="302.99" r="2.15" fill="#4592d0" stroke="#2673b8" stroke-width="0.75"/>
<circle cx="528.90" cy="295.99" r="2.15" fill="#4592d0" stroke="#2673b8" stroke-width="0.75"/>
<circle cx="537.10" cy="287.71" r="2.15" fill="#4592d0" stroke="#2673b8" stroke-width="0.75"/>
<circle cx="545.30" cy="275.06" r="2.15" fill="#4592d0" stroke="#2673b8" stroke-width="0.75"/>
<circle cx="553.50" cy="260.78" r="2.15" fill="#4592d0" stroke="#2673b8" stroke-width="0.75"/>
<circle cx="561.70" cy="244.63" r="2.15" fill="#4592d0" stroke="#2673b8" stroke-width="0.75"/>
<circle cx="569.90" cy="234.31" r="2.15" fill="#4592d0" stroke="#2673b8" stroke-width="0.75"/>
<circle cx="578.10" cy="222.73" r="2.15" fill="#4592d0" stroke="#2673b8" stroke-width="0.75"/>
<circle cx="586.30" cy="215.84" r="2.15" fill="#4592d0" stroke="#2673b8" stroke-width="0.75"/>
<circle cx="594.50" cy="213.61" r="2.15" fill="#4592d0" stroke="#2673b8" stroke-width="0.75"/>
<circle cx="602.70" cy="217.55" r="2.15" fill="#4592d0" stroke="#2673b8" stroke-width="0.75"/>
<circle cx="610.90" cy="223.90" r="2.15" fill="#4592d0" stroke="#2673b8" stroke-width="0.75"/>
<circle cx="619.10" cy="233.35" r="2.15" fill="#4592d0" stroke="#2673b8" stroke-width="0.75"/>
<circle cx="627.30" cy="245.15" r="2.15" fill="#4592d0" stroke="#2673b8" stroke-width="0.75"/>
<circle cx="635.50" cy="260.99" r="2.15" fill="#4592d0" stroke="#2673b8" stroke-width="0.75"/>
<circle cx="643.70" cy="273.02" r="2.15" fill="#4592d0" stroke="#2673b8" stroke-width="0.75"/>
<circle cx="651.90" cy="285.41" r="2.15" fill="#4592d0" stroke="#2673b8" stroke-width="0.75"/>
<circle cx="660.10" cy="295.17" r="2.15" fill="#4592d0" stroke="#2673b8" stroke-width="0.75"/>
<circle cx="668.30" cy="303.96" r="2.15" fill="#4592d0" stroke="#2673b8" stroke-width="0.75"/>
<circle cx="676.50" cy="303.51" r="2.15" fill="#4592d0" stroke="#2673b8" stroke-width="0.75"/>
<circle cx="512.50" cy="303.20" r="2.15" fill="#2c7abf" stroke="#1860a5" stroke-width="0.75"/>
<circle cx="520.70" cy="300.41" r="2.15" fill="#2c7abf" stroke="#1860a5" stroke-width="0.75"/>
<circle cx="528.90" cy="293.64" r="2.15" fill="#2c7abf" stroke="#1860a5" stroke-width="0.75"/>
<circle cx="537.10" cy="283.41" r="2.15" fill="#2c7abf" stroke="#1860a5" stroke-width="0.75"/>
<circle cx="545.30" cy="273.34" r="2.15" fill="#2c7abf" stroke="#1860a5" stroke-width="0.75"/>
<circle cx="553.50" cy="258.61" r="2.15" fill="#2c7abf" stroke="#1860a5" stroke-width="0.75"/>
<circle cx="561.70" cy="246.69" r="2.15" fill="#2c7abf" stroke="#1860a5" stroke-width="0.75"/>
<circle cx="569.90" cy="235.62" r="2.15" fill="#2c7abf" stroke="#1860a5" stroke-width="0.75"/>
<circle cx="578.10" cy="226.28" r="2.15" fill="#2c7abf" stroke="#1860a5" stroke-width="0.75"/>
<circle cx="586.30" cy="220.69" r="2.15" fill="#2c7abf" stroke="#1860a5" stroke-width="0.75"/>
<circle cx="594.50" cy="218.92" r="2.15" fill="#2c7abf" stroke="#1860a5" stroke-width="0.75"/>
<circle cx="602.70" cy="220.78" r="2.15" fill="#2c7abf" stroke="#1860a5" stroke-width="0.75"/>
<circle cx="610.90" cy="225.19" r="2.15" fill="#2c7abf" stroke="#1860a5" stroke-width="0.75"/>
<circle cx="619.10" cy="233.62" r="2.15" fill="#2c7abf" stroke="#1860a5" stroke-width="0.75"/>
<circle cx="627.30" cy="247.81" r="2.15" fill="#2c7abf" stroke="#1860a5" stroke-width="0.75"/>
<circle cx="635.50" cy="261.17" r="2.15" fill="#2c7abf" stroke="#1860a5" stroke-width="0.75"/>
<circle cx="643.70" cy="271.46" r="2.15" fill="#2c7abf" stroke="#1860a5" stroke-width="0.75"/>
<circle cx="651.90" cy="284.53" r="2.15" fill="#2c7abf" stroke="#1860a5" stroke-width="0.75"/>
<circle cx="660.10" cy="294.23" r="2.15" fill="#2c7abf" stroke="#1860a5" stroke-width="0.75"/>
<circle cx="668.30" cy="300.71" r="2.15" fill="#2c7abf" stroke="#1860a5" stroke-width="0.75"/>
<circle cx="676.50" cy="301.74" r="2.15" fill="#2c7abf" stroke="#1860a5" stroke-width="0.75"/>
<circle cx="512.50" cy="298.14" r="2.15" fill="#1864ad" stroke="#0d4d91" stroke-width="0.75"/>
<circle cx="520.70" cy="297.30" r="2.15" fill="#1864ad" stroke="#0d4d91" stroke-width="0.75"/>
<circle cx="528.90" cy="291.83" r="2.15" fill="#1864ad" stroke="#0d4d91" stroke-width="0.75"/>
<circle cx="537.10" cy="284.21" r="2.15" fill="#1864ad" stroke="#0d4d91" stroke-width="0.75"/>
<circle cx="545.30" cy="270.76" r="2.15" fill="#1864ad" stroke="#0d4d91" stroke-width="0.75"/>
<circle cx="553.50" cy="261.21" r="2.15" fill="#1864ad" stroke="#0d4d91" stroke-width="0.75"/>
<circle cx="561.70" cy="247.74" r="2.15" fill="#1864ad" stroke="#0d4d91" stroke-width="0.75"/>
<circle cx="569.90" cy="235.80" r="2.15" fill="#1864ad" stroke="#0d4d91" stroke-width="0.75"/>
<circle cx="578.10" cy="229.18" r="2.15" fill="#1864ad" stroke="#0d4d91" stroke-width="0.75"/>
<circle cx="586.30" cy="221.85" r="2.15" fill="#1864ad" stroke="#0d4d91" stroke-width="0.75"/>
<circle cx="594.50" cy="219.29" r="2.15" fill="#1864ad" stroke="#0d4d91" stroke-width="0.75"/>
<circle cx="602.70" cy="222.15" r="2.15" fill="#1864ad" stroke="#0d4d91" stroke-width="0.75"/>
<circle cx="610.90" cy="227.26" r="2.15" fill="#1864ad" stroke="#0d4d91" stroke-width="0.75"/>
<circle cx="619.10" cy="237.93" r="2.15" fill="#1864ad" stroke="#0d4d91" stroke-width="0.75"/>
<circle cx="627.30" cy="247.91" r="2.15" fill="#1864ad" stroke="#0d4d91" stroke-width="0.75"/>
<circle cx="635.50" cy="260.87" r="2.15" fill="#1864ad" stroke="#0d4d91" stroke-width="0.75"/>
<circle cx="643.70" cy="270.97" r="2.15" fill="#1864ad" stroke="#0d4d91" stroke-width="0.75"/>
<circle cx="651.90" cy="283.52" r="2.15" fill="#1864ad" stroke="#0d4d91" stroke-width="0.75"/>
<circle cx="660.10" cy="291.74" r="2.15" fill="#1864ad" stroke="#0d4d91" stroke-width="0.75"/>
<circle cx="668.30" cy="295.72" r="2.15" fill="#1864ad" stroke="#0d4d91" stroke-width="0.75"/>
<circle cx="676.50" cy="298.07" r="2.15" fill="#1864ad" stroke="#0d4d91" stroke-width="0.75"/>
<circle cx="512.50" cy="294.91" r="2.15" fill="#0c4f98" stroke="#063a76" stroke-width="0.75"/>
<circle cx="520.70" cy="294.65" r="2.15" fill="#0c4f98" stroke="#063a76" stroke-width="0.75"/>
<circle cx="528.90" cy="289.37" r="2.15" fill="#0c4f98" stroke="#063a76" stroke-width="0.75"/>
<circle cx="537.10" cy="280.61" r="2.15" fill="#0c4f98" stroke="#063a76" stroke-width="0.75"/>
<circle cx="545.30" cy="271.17" r="2.15" fill="#0c4f98" stroke="#063a76" stroke-width="0.75"/>
<circle cx="553.50" cy="260.46" r="2.15" fill="#0c4f98" stroke="#063a76" stroke-width="0.75"/>
<circle cx="561.70" cy="248.87" r="2.15" fill="#0c4f98" stroke="#063a76" stroke-width="0.75"/>
<circle cx="569.90" cy="239.46" r="2.15" fill="#0c4f98" stroke="#063a76" stroke-width="0.75"/>
<circle cx="578.10" cy="230.72" r="2.15" fill="#0c4f98" stroke="#063a76" stroke-width="0.75"/>
<circle cx="586.30" cy="223.76" r="2.15" fill="#0c4f98" stroke="#063a76" stroke-width="0.75"/>
<circle cx="594.50" cy="222.06" r="2.15" fill="#0c4f98" stroke="#063a76" stroke-width="0.75"/>
<circle cx="602.70" cy="224.81" r="2.15" fill="#0c4f98" stroke="#063a76" stroke-width="0.75"/>
<circle cx="610.90" cy="230.36" r="2.15" fill="#0c4f98" stroke="#063a76" stroke-width="0.75"/>
<circle cx="619.10" cy="238.90" r="2.15" fill="#0c4f98" stroke="#063a76" stroke-width="0.75"/>
<circle cx="627.30" cy="249.78" r="2.15" fill="#0c4f98" stroke="#063a76" stroke-width="0.75"/>
<circle cx="635.50" cy="260.51" r="2.15" fill="#0c4f98" stroke="#063a76" stroke-width="0.75"/>
<circle cx="643.70" cy="270.29" r="2.15" fill="#0c4f98" stroke="#063a76" stroke-width="0.75"/>
<circle cx="651.90" cy="280.20" r="2.15" fill="#0c4f98" stroke="#063a76" stroke-width="0.75"/>
<circle cx="660.10" cy="289.74" r="2.15" fill="#0c4f98" stroke="#063a76" stroke-width="0.75"/>
<circle cx="668.30" cy="293.68" r="2.15" fill="#0c4f98" stroke="#063a76" stroke-width="0.75"/>
<circle cx="676.50" cy="295.50" r="2.15" fill="#0c4f98" stroke="#063a76" stroke-width="0.75"/>
</g>
<path d="M504.2,192.7 L504.2,320.6 L684.5,320.6 L684.5,192.7" fill="none" stroke="#8a8a8a" stroke-width="0.9"/>
<line x1="503.8" y1="192.89999999999998" x2="684.9" y2="192.89999999999998" stroke="#c6c6c6" stroke-width="1.6"/>
<line x1="504.2" y1="199.10" x2="507.0" y2="199.10" stroke="#8a8a8a" stroke-width="0.8"/>
<text x="501.00" y="202.20" font-size="9" text-anchor="end" fill="#231f20" font-weight="normal" >1.0</text>
<line x1="504.2" y1="223.40" x2="507.0" y2="223.40" stroke="#8a8a8a" stroke-width="0.8"/>
<text x="501.00" y="226.50" font-size="9" text-anchor="end" fill="#231f20" font-weight="normal" >0.8</text>
<line x1="504.2" y1="247.70" x2="507.0" y2="247.70" stroke="#8a8a8a" stroke-width="0.8"/>
<text x="501.00" y="250.80" font-size="9" text-anchor="end" fill="#231f20" font-weight="normal" >0.6</text>
<line x1="504.2" y1="272.00" x2="507.0" y2="272.00" stroke="#8a8a8a" stroke-width="0.8"/>
<text x="501.00" y="275.10" font-size="9" text-anchor="end" fill="#231f20" font-weight="normal" >0.4</text>
<line x1="504.2" y1="296.30" x2="507.0" y2="296.30" stroke="#8a8a8a" stroke-width="0.8"/>
<text x="501.00" y="299.40" font-size="9" text-anchor="end" fill="#231f20" font-weight="normal" >0.2</text>
<line x1="504.2" y1="320.60" x2="507.0" y2="320.60" stroke="#8a8a8a" stroke-width="0.8"/>
<text x="501.00" y="323.70" font-size="9" text-anchor="end" fill="#231f20" font-weight="normal" >0</text>
<line x1="512.50" y1="320.6" x2="512.50" y2="317.8" stroke="#8a8a8a" stroke-width="0.8"/>
<text x="512.50" y="331.00" font-size="9" text-anchor="middle" fill="#231f20" font-weight="normal" >0</text>
<line x1="545.30" y1="320.6" x2="545.30" y2="317.8" stroke="#8a8a8a" stroke-width="0.8"/>
<text x="545.30" y="331.00" font-size="9" text-anchor="middle" fill="#231f20" font-weight="normal" >0.2</text>
<line x1="578.10" y1="320.6" x2="578.10" y2="317.8" stroke="#8a8a8a" stroke-width="0.8"/>
<text x="578.10" y="331.00" font-size="9" text-anchor="middle" fill="#231f20" font-weight="normal" >0.4</text>
<line x1="610.90" y1="320.6" x2="610.90" y2="317.8" stroke="#8a8a8a" stroke-width="0.8"/>
<text x="610.90" y="331.00" font-size="9" text-anchor="middle" fill="#231f20" font-weight="normal" >0.6</text>
<line x1="643.70" y1="320.6" x2="643.70" y2="317.8" stroke="#8a8a8a" stroke-width="0.8"/>
<text x="643.70" y="331.00" font-size="9" text-anchor="middle" fill="#231f20" font-weight="normal" >0.8</text>
<line x1="676.50" y1="320.6" x2="676.50" y2="317.8" stroke="#8a8a8a" stroke-width="0.8"/>
<text x="676.50" y="331.00" font-size="9" text-anchor="middle" fill="#231f20" font-weight="normal" >1.0</text>
<text x="594.00" y="344.10" font-size="9" text-anchor="middle" fill="#231f20" font-weight="normal" >Readout phase (2π)</text>
<text transform="translate(480.6,256.3) rotate(-90)" font-size="9.3" text-anchor="middle" fill="#231f20" textLength="82" lengthAdjust="spacingAndGlyphs">Readout probability</text>
</svg>
</body></html>
